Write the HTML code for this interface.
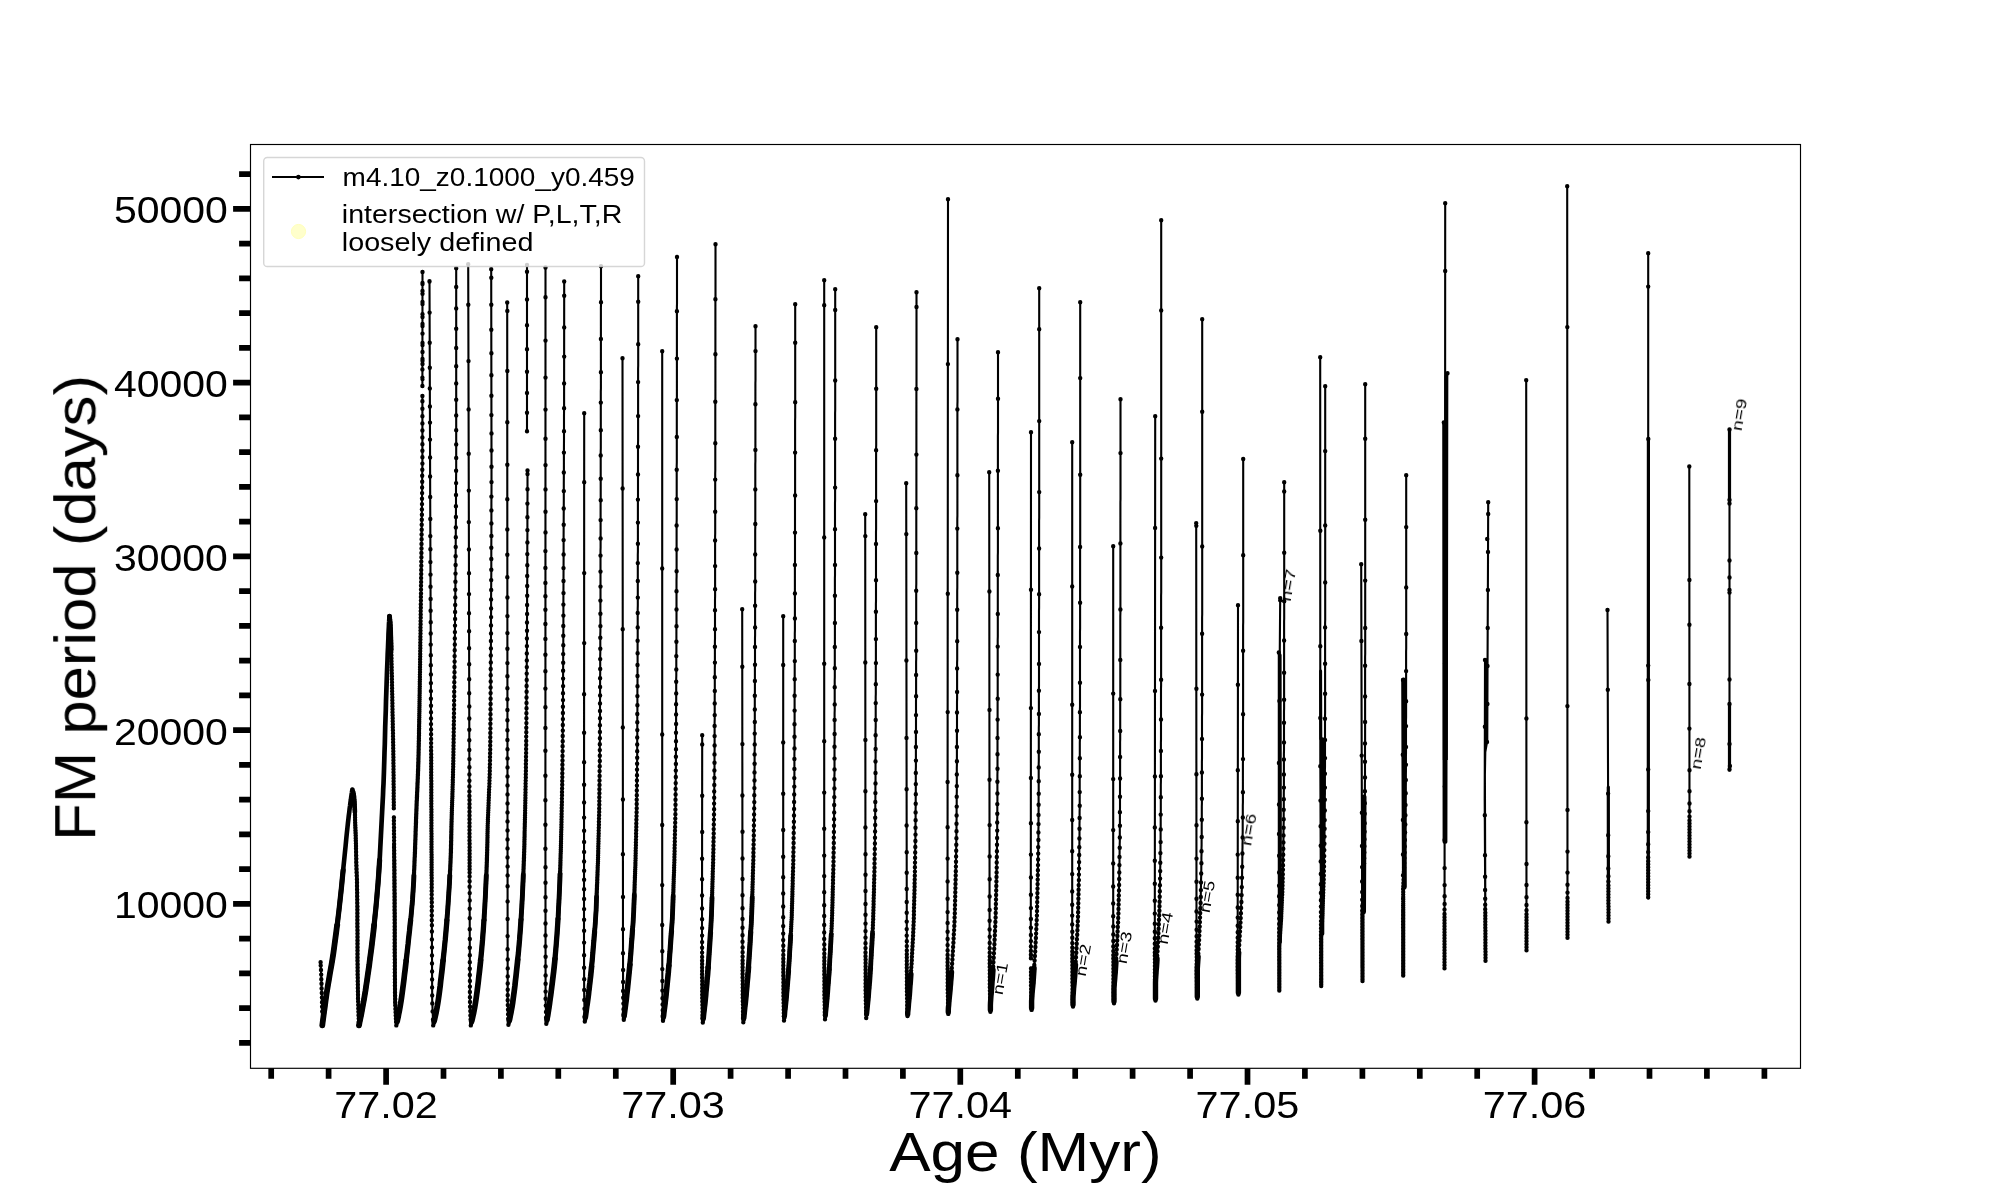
<!DOCTYPE html>
<html><head><meta charset="utf-8"><title>FM period vs Age</title>
<style>
html,body{margin:0;padding:0;background:#fff;}
body{width:2000px;height:1200px;overflow:hidden;}
svg{display:block;}
text{font-family:"Liberation Sans",sans-serif;fill:#000;}
</style></head><body>
<svg width="2000" height="1200" viewBox="0 0 2000 1200">
<rect width="2000" height="1200" fill="#fff"/>
<g stroke="#000" stroke-width="5.7" fill="none">
<path d="M233.1 208.9H250.5 M233.1 382.6H250.5 M233.1 556.4H250.5 M233.1 730.1H250.5 M233.1 903.9H250.5 M386.1 1068.3V1084.7 M673.2 1068.3V1084.7 M960.3 1068.3V1084.7 M1247.5 1068.3V1084.7 M1534.6 1068.3V1084.7"/>
<path d="M239.1 174.2H250.5 M239.1 243.7H250.5 M239.1 278.4H250.5 M239.1 313.1H250.5 M239.1 347.9H250.5 M239.1 417.4H250.5 M239.1 452.1H250.5 M239.1 486.9H250.5 M239.1 521.6H250.5 M239.1 591.1H250.5 M239.1 625.9H250.5 M239.1 660.6H250.5 M239.1 695.4H250.5 M239.1 764.9H250.5 M239.1 799.6H250.5 M239.1 834.4H250.5 M239.1 869.1H250.5 M239.1 938.6H250.5 M239.1 973.4H250.5 M239.1 1008.1H250.5 M239.1 1042.9H250.5 M271.2 1068.3V1078.7 M328.6 1068.3V1078.7 M443.5 1068.3V1078.7 M500.9 1068.3V1078.7 M558.3 1068.3V1078.7 M615.8 1068.3V1078.7 M730.6 1068.3V1078.7 M788.1 1068.3V1078.7 M845.5 1068.3V1078.7 M902.9 1068.3V1078.7 M1017.8 1068.3V1078.7 M1075.2 1068.3V1078.7 M1132.6 1068.3V1078.7 M1190.1 1068.3V1078.7 M1304.9 1068.3V1078.7 M1362.4 1068.3V1078.7 M1419.8 1068.3V1078.7 M1477.2 1068.3V1078.7 M1592.1 1068.3V1078.7 M1649.5 1068.3V1078.7 M1706.9 1068.3V1078.7 M1764.4 1068.3V1078.7"/>
</g>
<g fill="none" stroke="#000" stroke-linejoin="round">
<path stroke-width="2.1" d="M322.3 1025.4L322.1 1005L321.7 990L321.2 975L320.6 962.3M322.3 1025.4L322.7 1022.2L323.3 1017.7L324 1012.4L324.8 1006.8L325.5 1001.3L326.2 996.5L326.8 992.2L327.5 988.1L328.1 984.2L328.8 980.4L329.4 976.7L330 973L330.6 969.7L331.1 966.9L331.6 964.2L332.1 961.2L332.7 957.6L333.4 953L334.2 947.2L335.1 940.4L336.1 933L337.1 925.2L338.1 917.5L339 910L339.8 902.7L340.6 895.4L341.4 888L342.1 880.7L342.8 873.6L343.5 866.6L344.2 859.7L344.9 852.8L345.6 846L346.2 839.5L346.8 833.4L347.4 828L347.9 823.2L348.4 819L348.8 815.3L349.3 811.9L349.6 808.8L350 806L350.3 803.5L350.6 801.3L350.9 799.5L351.1 797.8L351.3 796.4L351.5 795L351.7 793.7L351.9 792.6L352 791.6L352.2 790.8L352.3 790.1L352.4 789.6M352.4 789.6L352.5 790L352.7 790.6L352.9 791.2L353.2 792L353.4 792.9L353.6 794L353.8 795.1L353.9 796.2L354.1 797.4L354.2 798.9L354.4 800.7L354.5 803L354.6 805.9L354.8 809.5L354.9 813.4L355.1 817.4L355.2 821.4L355.3 825L355.4 828.3L355.5 831.5L355.6 834.6L355.7 837.6L355.8 840.8L355.9 844L356 847.2L356.1 850.3L356.1 853.5L356.2 856.9L356.3 860.7L356.4 865L356.5 869.6L356.7 874.3L356.9 879.4L357 885.2L357.2 892L357.3 900L357.4 910L357.4 922L357.5 935L357.5 948L357.5 960L357.6 970L357.7 978L357.8 984.8L357.9 990.6L358 995.7L358.1 1000.4L358.2 1005L358.3 1009.5L358.5 1013.6L358.6 1017.4L358.8 1020.7L358.9 1023.3L359 1025.4M359 1025.4L359.5 1022.7L360.3 1019L361.2 1014.6L362.1 1009.7L363 1004.8L363.9 1000L364.7 995.3L365.5 990.5L366.2 985.6L367 980.5L367.7 975.3L368.5 970L369.3 964.5L370 958.7L370.8 952.8L371.6 946.9L372.3 940.9L373 935L373.7 929.2L374.3 923.3L374.9 917.5L375.5 911.7L376.1 905.8L376.6 900L377.1 894.2L377.6 888.3L378.1 882.5L378.5 876.7L378.9 870.8L379.3 865L379.7 859.2L380 853.3L380.3 847.5L380.6 841.7L380.9 835.8L381.2 830L381.5 824.2L381.8 818.3L382.1 812.5L382.4 806.7L382.7 800.8L383 795L383.2 789.3L383.5 783.9L383.7 778.4L383.9 772.8L384.1 766.7L384.3 760L384.5 752.5L384.8 744.4L385 735.9L385.2 727.2L385.5 718.5L385.8 710L386 701.4L386.3 692.6L386.6 683.8L386.9 675.2L387.2 667.2L387.5 660L387.7 653.7L388 647.9L388.2 642.7L388.4 638.1L388.5 633.8L388.7 630L388.9 626.6L389 623.7L389.2 621.2L389.3 619.2L389.4 617.5L389.5 616.2M396.3 1025.4L396.2 1023.3L396 1020.7L395.8 1017.4L395.6 1013.6L395.4 1009.5L395.3 1005L395.2 1000.4L395.1 995.7L395 990.6L394.9 984.8L394.9 978L394.8 970L394.8 960.2L394.7 948.8L394.7 936.4L394.7 923.7L394.6 911.4L394.6 900L394.5 889.4L394.4 878.9L394.4 868.8L394.3 859.1L394.2 850.1L394.1 842L394 835.1L394 829.4L393.9 824.4L393.9 819.5L393.9 815.8M393.8 809.2L393.8 808L393.7 800.8L393.7 793.1L393.6 785L393.6 776.7L393.5 768.3L393.4 760L393.3 751.8L393.1 743.5L393 735.1L392.8 726.7L392.7 718.4L392.5 710L392.3 701.5L392.2 692.7L392 684L391.8 675.5L391.7 667.4L391.5 660L391.3 653.1L391.2 646.6L391 640.5L390.8 634.9L390.7 630.1L390.5 626L390.3 622.9L390.1 620.6L389.9 619L389.8 617.8L389.6 617L389.5 616.2M396.3 1025.4L396.6 1023.9L397 1022.1L397.5 1019.9L398.1 1017.4L398.6 1014.6L399.2 1011.6L399.8 1008.4L400.4 1005L401 1001.3L401.6 997.3L402.2 992.9L402.8 988.4L403.4 983.8L404 979.1L404.5 974.5L405.1 970L405.6 965.6L406.1 961.2L406.6 956.9L407.1 952.5L407.6 948.1L408.1 943.8L408.5 939.4L409 935L409.5 930.7L409.9 926.4L410.4 922.1L410.9 917.8L411.3 913.5L411.7 909.1L412.1 904.6L412.5 900L412.8 895.3L413.1 890.6L413.4 885.8L413.7 880.9L413.9 876L414.1 870.8L414.4 865.5L414.6 860L414.8 854.2L415.1 848.2L415.3 842L415.5 835.6L415.7 829.2L415.9 822.7L416.2 816.3L416.4 810L416.6 803.9L416.9 798L417.2 792.1L417.4 786.2L417.7 780.2L417.9 773.9L418.2 767.2L418.4 760L418.6 752.3L418.8 744.1L418.9 735.7L419.1 726.9L419.3 717.9L419.4 708.7L419.6 699.4L419.7 690L419.8 680.5L420 670.9L420.1 661.2L420.2 651.2L420.4 641.2L420.5 630.9L420.6 620.5L420.8 610L420.9 599L421 587.5L421.2 575.7L421.3 563.8L421.4 552L421.6 540.6L421.7 529.9L421.8 520L421.9 510.7L422 501.5L422.1 492.7L422.2 484.4L422.2 476.8L422.3 470.1L422.4 464.4L422.4 460L422.4 396M422.4 386L422.5 272M433.2 1025.4L433.6 1023.8L434 1021.8L434.6 1019.4L435.2 1016.6L435.9 1013.6L436.5 1010.4L437.2 1006.9L437.8 1003.3L438.4 999.4L439 995.1L439.6 990.6L440.2 985.9L440.7 981L441.3 976.1L441.9 971.3L442.4 966.6L442.9 962L443.4 957.4L443.9 952.9L444.4 948.3L444.8 943.7L445.3 939.2L445.7 934.6L446.1 930L446.5 925.4L446.9 920.8L447.2 916.2L447.6 911.6L447.9 907.1L448.2 902.5L448.5 897.9L448.8 893.3L449.1 888.7L449.4 884.1L449.6 879.6L449.9 875L450.1 870.4L450.3 865.9L450.5 861.3L450.7 856.7L450.9 852.3L451 848.1L451.1 844L451.2 839.8L451.2 835.5L451.3 830.8L451.5 825.7L451.6 820L451.8 813.9L452 807.6L452.2 801L452.4 794L452.7 786.5L452.9 778.4L453.1 769.6L453.3 760L453.5 749.4L453.7 737.8L453.8 725.4L454 712.5L454.2 699.3L454.3 685.9L454.5 672.8L454.6 660L454.7 647.5L454.9 635L455 622.5L455.1 610L455.3 597.5L455.4 585L455.5 572.5L455.6 560L455.7 546.8L455.8 532.7L455.9 518.1L456 503.8L456 490.2L456.1 478L456.2 467.7L456.2 460L456.2 268.2M470.8 1025.4L471.2 1023.8L471.6 1021.8L472.2 1019.4L472.8 1016.6L473.5 1013.6L474.1 1010.4L474.8 1006.9L475.4 1003.3L476 999.4L476.6 995.1L477.2 990.6L477.8 985.9L478.4 981L478.9 976.1L479.5 971.3L480 966.6L480.5 962L480.9 957.4L481.4 952.9L481.8 948.3L482.2 943.7L482.6 939.2L482.9 934.6L483.3 930L483.6 925.4L483.9 920.8L484.2 916.2L484.5 911.6L484.8 907.1L485 902.5L485.3 897.9L485.5 893.3L485.7 888.7L485.9 884.1L486.1 879.6L486.3 875L486.5 870.4L486.7 865.9L486.8 861.3L487 856.7L487.1 852.3L487.2 848.1L487.3 844L487.4 839.8L487.5 835.5L487.6 830.8L487.7 825.7L487.9 820L488.1 813.9L488.4 807.6L488.7 801L489 794L489.3 786.5L489.5 778.4L489.8 769.6L490 760L490.2 749.4L490.3 737.8L490.4 725.4L490.5 712.5L490.6 699.3L490.7 685.9L490.7 672.8L490.8 660L490.9 647.5L491 635L491 622.5L491.1 610L491.1 597.5L491.2 585L491.3 572.5L491.3 560L491.3 546.8L491.4 532.7L491.4 518.1L491.4 503.8L491.5 490.2L491.5 478L491.5 467.7L491.5 460L491.2 269.2M508.4 1024.7L508.7 1023.2L509.1 1021.2L509.7 1018.9L510.2 1016.3L510.8 1013.4L511.4 1010.2L512 1006.9L512.6 1003.3L513.1 999.4L513.7 995.2L514.3 990.7L514.9 985.9L515.4 981L516 976.1L516.5 971.3L517 966.6L517.5 962L517.9 957.4L518.4 952.9L518.8 948.3L519.2 943.7L519.6 939.2L519.9 934.6L520.3 930L520.6 925.4L520.9 920.8L521.2 916.2L521.5 911.6L521.8 907.1L522 902.5L522.3 897.9L522.5 893.3L522.7 888.7L522.9 884.1L523.1 879.6L523.3 875L523.5 870.4L523.7 865.9L523.8 861.3L524 856.7L524.1 852.3L524.3 848.1L524.4 844L524.5 839.8L524.6 835.5L524.7 830.8L524.8 825.7L524.9 820L525 813.9L525.2 807.6L525.3 801L525.5 794L525.6 786.5L525.7 778.4L525.9 769.6L526 760L526.1 749.4L526.2 737.8L526.3 725.4L526.4 712.5L526.5 699.3L526.6 685.9L526.7 672.8L526.8 660L526.9 647.4L527 634.8L527 622L527.1 609.3L527.1 596.7L527.2 584.3L527.3 572L527.3 560L527.3 547.7L527.4 534.8L527.4 521.7L527.4 509L527.5 497L527.5 486.3L527.5 477.3L527.5 470.5M527 431.2L527 265M546.3 1023.8L546.5 1022.3L546.9 1020.5L547.2 1018.3L547.7 1015.8L548.1 1013.1L548.6 1010L549.1 1006.8L549.6 1003.3L550.1 999.5L550.7 995.3L551.3 990.7L551.9 986L552.5 981.1L553.1 976.1L553.7 971.3L554.2 966.6L554.7 962L555.1 957.4L555.5 952.9L555.9 948.3L556.3 943.7L556.6 939.2L557 934.6L557.3 930L557.6 925.4L557.9 920.8L558.2 916.2L558.4 911.6L558.6 907.1L558.9 902.5L559.1 897.9L559.3 893.3L559.5 888.7L559.7 884.1L559.9 879.6L560 875L560.2 870.4L560.3 865.9L560.5 861.3L560.6 856.7L560.7 852.3L560.9 848.1L561 844L561.1 839.8L561.2 835.5L561.3 830.8L561.4 825.7L561.5 820L561.6 813.9L561.8 807.6L561.9 801L562 794L562.1 786.5L562.3 778.4L562.4 769.6L562.5 760L562.6 749.8L562.7 739.2L562.8 728.1L562.9 716.2L563 703.7L563 690.2L563.1 675.6L563.2 660L563.3 642.5L563.4 622.8L563.4 601.8L563.5 580L563.6 558.2L563.6 537.2L563.7 517.5L563.8 500L563.8 483.9L563.9 468.4L563.9 453.7L564 440L564 427.5L564 416.6L564.1 407.3L564.1 400L564.2 281.5M433.2 1025.4L432.2 1000L431.4 820L430.2 500L429.5 281.2M470.8 1025.4L469.9 1000L469.5 820L468.8 500L468.2 264.2M508.4 1024.7L507.7 1000L507.5 820L507.3 500L507.2 302.5M546.3 1023.8L545.6 1000L545.4 820L545.5 267.5M584.8 1021.6L584.2 996.6L584 941.6L584.2 413.2M584.8 1021.6L585.2 1018.6L585.6 1015.6L586 1012.6L586.4 1009.6L586.8 1006.6L587.3 1003.6L587.7 1000.6L588.1 997.6L588.5 994.6L588.8 991.6L589.2 988.6L589.5 985.6L589.9 982.6L590.2 979.6L590.6 976.6L590.9 973.6L591.2 970.6L591.5 967.6L591.8 964.6L592.1 961.6L592.4 958.6L592.6 955.6L592.9 952.6L593.1 949.6L593.4 946.6L593.6 943.6L593.9 940.6L594.1 937.6L594.4 934.6L594.6 931.6L594.9 928.6L595.1 925.6L595.3 922.6L595.5 919.6L595.7 916.6L595.9 913.6L596.1 910.6L596.2 907.6L596.3 904.6L596.4 901.6L596.5 898.6L596.6 895.6L596.8 892.6L596.9 889.6L597 886.6L597.1 883.6L597.2 880.6L597.3 877.6L597.5 874.6L597.6 871.6L597.7 868.6L597.8 865.6L597.9 862.6L598 859.6L598.1 856.6L598.2 853.6L598.2 850.6L598.3 847.6L598.4 844.6L598.5 841.6L598.5 838.6L598.6 835.6L598.7 832.6L598.7 829.6L598.8 826.6L598.9 823.6L599 820.6L599 817.6L599.1 814.6L599.2 811.6L599.2 808.6L599.3 805.6L599.3 802.6L599.3 799.6L599.4 796.6L599.4 793.6L599.4 790.6L599.5 787.6L599.5 784.6L599.5 781.6L599.6 778.6L599.6 775.6L599.6 772.6L599.7 769.6L599.7 766.6L599.7 763.6L599.8 760.6L599.8 757.6L599.8 754.6L599.8 751.6L599.8 748.6L599.8 745.6L599.8 742.6L599.9 739.6L599.9 736.6L599.9 733.6L599.9 730.6L599.9 727.6L599.9 724.6L599.9 721.6L600 718.6L600 715.6L600 712.6L600 709.6L600 706.6L600 703.6L600 700.6L600.1 697.6L600.1 694.6L600.1 691.6L600.1 688.6L600.1 685.6L600.1 682.6L600.1 679.6L600.1 676.6L600.2 673.6L600.2 670.6L600.2 667.6L600.2 664.6L600.2 661.6L600.2 658.6L600.2 655.6L600.3 652.6L600.3 649.6L600.3 646.6L600.3 643.6L600.3 640.6L600.3 637.6L600.3 634.6L600.4 631.6L600.4 628.6L600.4 625.6L600.4 622.6L600.4 619.6L600.4 616.6L600.4 613.6L600.4 610.6L600.4 607.6L600.4 604.6L600.4 601.6L600.5 598.6L600.5 595.6L600.5 592.6L600.5 589.6L600.5 586.6L600.5 583.6L600.5 580.6L600.5 577.6L600.5 574.6L600.5 571.6L600.5 568.6L600.5 565.6L600.5 562.6L600.5 559.6L600.5 556.6L600.5 553.6L600.5 550.6L600.6 547.6L600.6 544.6L600.6 541.6L600.6 538.6L600.6 535.6L600.6 532.6L600.6 529.6L600.6 526.6L600.6 523.6L600.6 520.6L600.6 517.6L600.6 514.6L600.6 511.6L600.6 508.6L600.6 505.6L600.6 502.6L600.7 499.6L600.7 496.6L600.7 493.6L600.7 490.6L600.7 487.6L600.7 484.6L600.7 481.6L600.7 478.6L600.7 475.6L600.7 472.6L600.7 469.6L600.7 466.6L600.7 463.6L600.7 460.6L600.7 457.6L600.7 454.6L600.7 451.6L600.8 448.6L600.8 445.6L600.8 442.6L600.8 439.6L600.8 436.6L600.8 433.6L600.8 430.6L600.8 427.6L600.8 424.6L600.8 421.6L600.8 418.6L600.8 415.6L600.8 412.6L600.8 409.6L600.8 406.6L600.8 403.6L600.8 400.6L600.8 397.6L600.8 394.6L600.8 391.6L600.9 388.6L600.9 385.6L600.9 382.6L600.9 379.6L600.9 376.6L600.9 373.6L600.9 370.6L600.9 367.6L600.9 364.6L600.9 361.6L600.9 358.6L600.9 355.6L600.9 352.6L600.9 349.6L600.9 346.6L600.9 343.6L600.9 340.6L600.9 337.6L600.9 334.6L600.9 331.6L600.9 328.6L600.9 325.6L600.9 322.6L600.9 319.6L600.9 316.6L600.9 313.6L600.9 310.6L600.9 307.6L601 304.6L601 301.6L601 298.6L601 295.6L601 292.6L601 289.6L601 286.6L601 283.6L601 280.6L601 277.6L601 274.6L601 271.6L601 268.6L601 266.2M623.8 1019.8L623.1 994.8L623 939.8L622.5 358.2M623.8 1019.8L624.1 1016.8L624.4 1013.8L624.8 1010.8L625.2 1007.8L625.6 1004.8L626 1001.8L626.4 998.8L626.7 995.8L627 992.8L627.4 989.8L627.7 986.8L628 983.8L628.3 980.8L628.6 977.8L628.9 974.8L629.2 971.8L629.5 968.8L629.8 965.8L630 962.8L630.3 959.8L630.5 956.8L630.8 953.8L631 950.8L631.2 947.8L631.4 944.8L631.6 941.8L631.9 938.8L632.1 935.8L632.3 932.8L632.5 929.8L632.8 926.8L633 923.8L633.2 920.8L633.3 917.8L633.5 914.8L633.7 911.8L633.8 908.8L633.9 905.8L634 902.8L634.1 899.8L634.3 896.8L634.4 893.8L634.5 890.8L634.6 887.8L634.7 884.8L634.8 881.8L634.9 878.8L635 875.8L635.1 872.8L635.2 869.8L635.3 866.8L635.4 863.8L635.5 860.8L635.6 857.8L635.7 854.8L635.7 851.8L635.8 848.8L635.9 845.8L635.9 842.8L636 839.8L636 836.8L636.1 833.8L636.2 830.8L636.2 827.8L636.3 824.8L636.4 821.8L636.4 818.8L636.5 815.8L636.6 812.8L636.6 809.8L636.7 806.8L636.7 803.8L636.7 800.8L636.8 797.8L636.8 794.8L636.8 791.8L636.9 788.8L636.9 785.8L636.9 782.8L636.9 779.8L637 776.8L637 773.8L637 770.8L637.1 767.8L637.1 764.8L637.1 761.8L637.2 758.8L637.2 755.8L637.2 752.8L637.2 749.8L637.2 746.8L637.2 743.8L637.2 740.8L637.2 737.8L637.3 734.8L637.3 731.8L637.3 728.8L637.3 725.8L637.3 722.8L637.3 719.8L637.3 716.8L637.3 713.8L637.4 710.8L637.4 707.8L637.4 704.8L637.4 701.8L637.4 698.8L637.4 695.8L637.4 692.8L637.4 689.8L637.5 686.8L637.5 683.8L637.5 680.8L637.5 677.8L637.5 674.8L637.5 671.8L637.5 668.8L637.5 665.8L637.6 662.8L637.6 659.8L637.6 656.8L637.6 653.8L637.6 650.8L637.6 647.8L637.6 644.8L637.6 641.8L637.7 638.8L637.7 635.8L637.7 632.8L637.7 629.8L637.7 626.8L637.7 623.8L637.7 620.8L637.7 617.8L637.7 614.8L637.7 611.8L637.7 608.8L637.8 605.8L637.8 602.8L637.8 599.8L637.8 596.8L637.8 593.8L637.8 590.8L637.8 587.8L637.8 584.8L637.8 581.8L637.8 578.8L637.8 575.8L637.8 572.8L637.8 569.8L637.8 566.8L637.8 563.8L637.8 560.8L637.8 557.8L637.8 554.8L637.9 551.8L637.9 548.8L637.9 545.8L637.9 542.8L637.9 539.8L637.9 536.8L637.9 533.8L637.9 530.8L637.9 527.8L637.9 524.8L637.9 521.8L637.9 518.8L637.9 515.8L637.9 512.8L637.9 509.8L637.9 506.8L637.9 503.8L637.9 500.8L638 497.8L638 494.8L638 491.8L638 488.8L638 485.8L638 482.8L638 479.8L638 476.8L638 473.8L638 470.8L638 467.8L638 464.8L638 461.8L638 458.8L638 455.8L638 452.8L638 449.8L638 446.8L638 443.8L638.1 440.8L638.1 437.8L638.1 434.8L638.1 431.8L638.1 428.8L638.1 425.8L638.1 422.8L638.1 419.8L638.1 416.8L638.1 413.8L638.1 410.8L638.1 407.8L638.1 404.8L638.1 401.8L638.1 398.8L638.1 395.8L638.1 392.8L638.1 389.8L638.1 386.8L638.1 383.8L638.1 380.8L638.1 377.8L638.1 374.8L638.1 371.8L638.1 368.8L638.2 365.8L638.2 362.8L638.2 359.8L638.2 356.8L638.2 353.8L638.2 350.8L638.2 347.8L638.2 344.8L638.2 341.8L638.2 338.8L638.2 335.8L638.2 332.8L638.2 329.8L638.2 326.8L638.2 323.8L638.2 320.8L638.2 317.8L638.2 314.8L638.2 311.8L638.2 308.8L638.2 305.8L638.2 302.8L638.2 299.8L638.2 296.8L638.2 293.8L638.2 290.8L638.2 287.8L638.2 284.8L638.2 281.8L638.2 278.8L638.2 276.2M663 1020.8L662.4 995.8L662.2 940.8L662.2 351.2M663 1020.8L663.3 1017.8L663.7 1014.8L664 1011.8L664.4 1008.8L664.8 1005.8L665.2 1002.8L665.5 999.8L665.9 996.8L666.2 993.8L666.5 990.8L666.8 987.8L667.1 984.8L667.4 981.8L667.7 978.8L668 975.8L668.3 972.8L668.5 969.8L668.8 966.8L669.1 963.8L669.3 960.8L669.5 957.8L669.7 954.8L670 951.8L670.2 948.8L670.4 945.8L670.6 942.8L670.8 939.8L671 936.8L671.3 933.8L671.5 930.8L671.7 927.8L671.9 924.8L672.1 921.8L672.3 918.8L672.4 915.8L672.6 912.8L672.7 909.8L672.8 906.8L672.9 903.8L673 900.8L673.1 897.8L673.2 894.8L673.3 891.8L673.4 888.8L673.5 885.8L673.6 882.8L673.7 879.8L673.8 876.8L673.9 873.8L674 870.8L674.1 867.8L674.2 864.8L674.3 861.8L674.4 858.8L674.5 855.8L674.5 852.8L674.6 849.8L674.7 846.8L674.7 843.8L674.8 840.8L674.9 837.8L674.9 834.8L675 831.8L675 828.8L675.1 825.8L675.2 822.8L675.2 819.8L675.3 816.8L675.4 813.8L675.4 810.8L675.5 807.8L675.5 804.8L675.5 801.8L675.5 798.8L675.6 795.8L675.6 792.8L675.6 789.8L675.7 786.8L675.7 783.8L675.7 780.8L675.7 777.8L675.8 774.8L675.8 771.8L675.8 768.8L675.9 765.8L675.9 762.8L675.9 759.8L675.9 756.8L675.9 753.8L676 750.8L676 747.8L676 744.8L676 741.8L676 738.8L676 735.8L676 732.8L676 729.8L676.1 726.8L676.1 723.8L676.1 720.8L676.1 717.8L676.1 714.8L676.1 711.8L676.1 708.8L676.1 705.8L676.1 702.8L676.2 699.8L676.2 696.8L676.2 693.8L676.2 690.8L676.2 687.8L676.2 684.8L676.2 681.8L676.2 678.8L676.3 675.8L676.3 672.8L676.3 669.8L676.3 666.8L676.3 663.8L676.3 660.8L676.3 657.8L676.3 654.8L676.4 651.8L676.4 648.8L676.4 645.8L676.4 642.8L676.4 639.8L676.4 636.8L676.4 633.8L676.4 630.8L676.4 627.8L676.5 624.8L676.5 621.8L676.5 618.8L676.5 615.8L676.5 612.8L676.5 609.8L676.5 606.8L676.5 603.8L676.5 600.8L676.5 597.8L676.5 594.8L676.5 591.8L676.5 588.8L676.5 585.8L676.5 582.8L676.5 579.8L676.6 576.8L676.6 573.8L676.6 570.8L676.6 567.8L676.6 564.8L676.6 561.8L676.6 558.8L676.6 555.8L676.6 552.8L676.6 549.8L676.6 546.8L676.6 543.8L676.6 540.8L676.6 537.8L676.6 534.8L676.6 531.8L676.6 528.8L676.6 525.8L676.6 522.8L676.7 519.8L676.7 516.8L676.7 513.8L676.7 510.8L676.7 507.8L676.7 504.8L676.7 501.8L676.7 498.8L676.7 495.8L676.7 492.8L676.7 489.8L676.7 486.8L676.7 483.8L676.7 480.8L676.7 477.8L676.7 474.8L676.7 471.8L676.7 468.8L676.7 465.8L676.8 462.8L676.8 459.8L676.8 456.8L676.8 453.8L676.8 450.8L676.8 447.8L676.8 444.8L676.8 441.8L676.8 438.8L676.8 435.8L676.8 432.8L676.8 429.8L676.8 426.8L676.8 423.8L676.8 420.8L676.8 417.8L676.8 414.8L676.8 411.8L676.8 408.8L676.8 405.8L676.8 402.8L676.8 399.8L676.9 396.8L676.9 393.8L676.9 390.8L676.9 387.8L676.9 384.8L676.9 381.8L676.9 378.8L676.9 375.8L676.9 372.8L676.9 369.8L676.9 366.8L676.9 363.8L676.9 360.8L676.9 357.8L676.9 354.8L676.9 351.8L676.9 348.8L676.9 345.8L676.9 342.8L676.9 339.8L676.9 336.8L676.9 333.8L676.9 330.8L676.9 327.8L676.9 324.8L676.9 321.8L676.9 318.8L676.9 315.8L676.9 312.8L676.9 309.8L676.9 306.8L677 303.8L677 300.8L677 297.8L677 294.8L677 291.8L677 288.8L677 285.8L677 282.8L677 279.8L677 276.8L677 273.8L677 270.8L677 267.8L677 264.8L677 261.8L677 258.8L677 257M702.8 1022.5L702.2 997.5L702 942.5L702.2 735.2M702.8 1022.5L703.1 1019.5L703.4 1016.5L703.7 1013.5L704.1 1010.5L704.4 1007.5L704.8 1004.5L705.1 1001.5L705.4 998.5L705.7 995.5L705.9 992.5L706.2 989.5L706.5 986.5L706.8 983.5L707 980.5L707.3 977.5L707.6 974.5L707.8 971.5L708.1 968.5L708.3 965.5L708.5 962.5L708.7 959.5L708.9 956.5L709.1 953.5L709.3 950.5L709.5 947.5L709.7 944.5L709.9 941.5L710.1 938.5L710.3 935.5L710.5 932.5L710.7 929.5L710.9 926.5L711 923.5L711.2 920.5L711.3 917.5L711.5 914.5L711.6 911.5L711.7 908.5L711.8 905.5L711.9 902.5L712 899.5L712.1 896.5L712.2 893.5L712.2 890.5L712.3 887.5L712.4 884.5L712.5 881.5L712.6 878.5L712.7 875.5L712.8 872.5L712.9 869.5L713 866.5L713.1 863.5L713.1 860.5L713.2 857.5L713.3 854.5L713.3 851.5L713.4 848.5L713.4 845.5L713.5 842.5L713.5 839.5L713.6 836.5L713.7 833.5L713.7 830.5L713.8 827.5L713.8 824.5L713.9 821.5L713.9 818.5L714 815.5L714.1 812.5L714.1 809.5L714.1 806.5L714.1 803.5L714.2 800.5L714.2 797.5L714.2 794.5L714.2 791.5L714.3 788.5L714.3 785.5L714.3 782.5L714.4 779.5L714.4 776.5L714.4 773.5L714.4 770.5L714.5 767.5L714.5 764.5L714.5 761.5L714.5 758.5L714.5 755.5L714.5 752.5L714.6 749.5L714.6 746.5L714.6 743.5L714.6 740.5L714.6 737.5L714.6 734.5L714.6 731.5L714.6 728.5L714.6 725.5L714.6 722.5L714.7 719.5L714.7 716.5L714.7 713.5L714.7 710.5L714.7 707.5L714.7 704.5L714.7 701.5L714.7 698.5L714.7 695.5L714.8 692.5L714.8 689.5L714.8 686.5L714.8 683.5L714.8 680.5L714.8 677.5L714.8 674.5L714.8 671.5L714.8 668.5L714.9 665.5L714.9 662.5L714.9 659.5L714.9 656.5L714.9 653.5L714.9 650.5L714.9 647.5L714.9 644.5L714.9 641.5L715 638.5L715 635.5L715 632.5L715 629.5L715 626.5L715 623.5L715 620.5L715 617.5L715 614.5L715 611.5L715 608.5L715 605.5L715 602.5L715 599.5L715.1 596.5L715.1 593.5L715.1 590.5L715.1 587.5L715.1 584.5L715.1 581.5L715.1 578.5L715.1 575.5L715.1 572.5L715.1 569.5L715.1 566.5L715.1 563.5L715.1 560.5L715.1 557.5L715.1 554.5L715.1 551.5L715.1 548.5L715.1 545.5L715.1 542.5L715.1 539.5L715.1 536.5L715.2 533.5L715.2 530.5L715.2 527.5L715.2 524.5L715.2 521.5L715.2 518.5L715.2 515.5L715.2 512.5L715.2 509.5L715.2 506.5L715.2 503.5L715.2 500.5L715.2 497.5L715.2 494.5L715.2 491.5L715.2 488.5L715.2 485.5L715.2 482.5L715.2 479.5L715.2 476.5L715.2 473.5L715.3 470.5L715.3 467.5L715.3 464.5L715.3 461.5L715.3 458.5L715.3 455.5L715.3 452.5L715.3 449.5L715.3 446.5L715.3 443.5L715.3 440.5L715.3 437.5L715.3 434.5L715.3 431.5L715.3 428.5L715.3 425.5L715.3 422.5L715.3 419.5L715.3 416.5L715.3 413.5L715.3 410.5L715.3 407.5L715.3 404.5L715.3 401.5L715.4 398.5L715.4 395.5L715.4 392.5L715.4 389.5L715.4 386.5L715.4 383.5L715.4 380.5L715.4 377.5L715.4 374.5L715.4 371.5L715.4 368.5L715.4 365.5L715.4 362.5L715.4 359.5L715.4 356.5L715.4 353.5L715.4 350.5L715.4 347.5L715.4 344.5L715.4 341.5L715.4 338.5L715.4 335.5L715.4 332.5L715.4 329.5L715.4 326.5L715.4 323.5L715.4 320.5L715.4 317.5L715.4 314.5L715.4 311.5L715.4 308.5L715.4 305.5L715.4 302.5L715.4 299.5L715.5 296.5L715.5 293.5L715.5 290.5L715.5 287.5L715.5 284.5L715.5 281.5L715.5 278.5L715.5 275.5L715.5 272.5L715.5 269.5L715.5 266.5L715.5 263.5L715.5 260.5L715.5 257.5L715.5 254.5L715.5 251.5L715.5 248.5L715.5 245.5L715.5 244.2M743.3 1022.2L742.7 997.2L742.5 942.2L742.2 609.2M743.3 1022.2L743.6 1019.2L743.9 1016.2L744.2 1013.2L744.5 1010.2L744.8 1007.2L745.2 1004.2L745.5 1001.2L745.8 998.2L746.1 995.2L746.3 992.2L746.6 989.2L746.9 986.2L747.1 983.2L747.4 980.2L747.7 977.2L747.9 974.2L748.2 971.2L748.4 968.2L748.6 965.2L748.8 962.2L749 959.2L749.2 956.2L749.4 953.2L749.6 950.2L749.8 947.2L750 944.2L750.2 941.2L750.3 938.2L750.5 935.2L750.7 932.2L750.9 929.2L751.1 926.2L751.3 923.2L751.4 920.2L751.5 917.2L751.7 914.2L751.8 911.2L751.9 908.2L752 905.2L752.1 902.2L752.2 899.2L752.3 896.2L752.3 893.2L752.4 890.2L752.5 887.2L752.6 884.2L752.7 881.2L752.8 878.2L752.9 875.2L753 872.2L753.1 869.2L753.1 866.2L753.2 863.2L753.3 860.2L753.4 857.2L753.4 854.2L753.5 851.2L753.5 848.2L753.6 845.2L753.6 842.2L753.7 839.2L753.7 836.2L753.8 833.2L753.8 830.2L753.9 827.2L754 824.2L754 821.2L754.1 818.2L754.1 815.2L754.2 812.2L754.2 809.2L754.2 806.2L754.3 803.2L754.3 800.2L754.3 797.2L754.3 794.2L754.4 791.2L754.4 788.2L754.4 785.2L754.4 782.2L754.5 779.2L754.5 776.2L754.5 773.2L754.5 770.2L754.6 767.2L754.6 764.2L754.6 761.2L754.6 758.2L754.6 755.2L754.6 752.2L754.7 749.2L754.7 746.2L754.7 743.2L754.7 740.2L754.7 737.2L754.7 734.2L754.7 731.2L754.7 728.2L754.7 725.2L754.8 722.2L754.8 719.2L754.8 716.2L754.8 713.2L754.8 710.2L754.8 707.2L754.8 704.2L754.8 701.2L754.8 698.2L754.8 695.2L754.9 692.2L754.9 689.2L754.9 686.2L754.9 683.2L754.9 680.2L754.9 677.2L754.9 674.2L754.9 671.2L754.9 668.2L755 665.2L755 662.2L755 659.2L755 656.2L755 653.2L755 650.2L755 647.2L755 644.2L755 641.2L755 638.2L755.1 635.2L755.1 632.2L755.1 629.2L755.1 626.2L755.1 623.2L755.1 620.2L755.1 617.2L755.1 614.2L755.1 611.2L755.1 608.2L755.1 605.2L755.1 602.2L755.1 599.2L755.1 596.2L755.1 593.2L755.2 590.2L755.2 587.2L755.2 584.2L755.2 581.2L755.2 578.2L755.2 575.2L755.2 572.2L755.2 569.2L755.2 566.2L755.2 563.2L755.2 560.2L755.2 557.2L755.2 554.2L755.2 551.2L755.2 548.2L755.2 545.2L755.2 542.2L755.2 539.2L755.2 536.2L755.2 533.2L755.2 530.2L755.3 527.2L755.3 524.2L755.3 521.2L755.3 518.2L755.3 515.2L755.3 512.2L755.3 509.2L755.3 506.2L755.3 503.2L755.3 500.2L755.3 497.2L755.3 494.2L755.3 491.2L755.3 488.2L755.3 485.2L755.3 482.2L755.3 479.2L755.3 476.2L755.3 473.2L755.3 470.2L755.3 467.2L755.3 464.2L755.4 461.2L755.4 458.2L755.4 455.2L755.4 452.2L755.4 449.2L755.4 446.2L755.4 443.2L755.4 440.2L755.4 437.2L755.4 434.2L755.4 431.2L755.4 428.2L755.4 425.2L755.4 422.2L755.4 419.2L755.4 416.2L755.4 413.2L755.4 410.2L755.4 407.2L755.4 404.2L755.4 401.2L755.4 398.2L755.4 395.2L755.4 392.2L755.4 389.2L755.4 386.2L755.4 383.2L755.5 380.2L755.5 377.2L755.5 374.2L755.5 371.2L755.5 368.2L755.5 365.2L755.5 362.2L755.5 359.2L755.5 356.2L755.5 353.2L755.5 350.2L755.5 347.2L755.5 344.2L755.5 341.2L755.5 338.2L755.5 335.2L755.5 332.2L755.5 329.2L755.5 326.2M784 1020.5L783.4 995.5L783.2 940.5L783.2 616.2M784 1020.5L784.3 1017.5L784.6 1014.5L784.8 1011.5L785.2 1008.5L785.5 1005.5L785.8 1002.5L786.1 999.5L786.4 996.5L786.6 993.5L786.9 990.5L787.1 987.5L787.4 984.5L787.6 981.5L787.9 978.5L788.1 975.5L788.4 972.5L788.6 969.5L788.8 966.5L789 963.5L789.2 960.5L789.4 957.5L789.6 954.5L789.7 951.5L789.9 948.5L790.1 945.5L790.3 942.5L790.5 939.5L790.6 936.5L790.8 933.5L791 930.5L791.2 927.5L791.3 924.5L791.5 921.5L791.6 918.5L791.7 915.5L791.8 912.5L791.9 909.5L792 906.5L792.1 903.5L792.2 900.5L792.3 897.5L792.3 894.5L792.4 891.5L792.5 888.5L792.6 885.5L792.7 882.5L792.8 879.5L792.9 876.5L792.9 873.5L793 870.5L793.1 867.5L793.2 864.5L793.2 861.5L793.3 858.5L793.3 855.5L793.4 852.5L793.4 849.5L793.5 846.5L793.5 843.5L793.6 840.5L793.6 837.5L793.7 834.5L793.8 831.5L793.8 828.5L793.9 825.5L793.9 822.5L794 819.5L794 816.5L794 813.5L794.1 810.5L794.1 807.5L794.1 804.5L794.1 801.5L794.2 798.5L794.2 795.5L794.2 792.5L794.2 789.5L794.3 786.5L794.3 783.5L794.3 780.5L794.3 777.5L794.4 774.5L794.4 771.5L794.4 768.5L794.4 765.5L794.4 762.5L794.4 759.5L794.4 756.5L794.4 753.5L794.5 750.5L794.5 747.5L794.5 744.5L794.5 741.5L794.5 738.5L794.5 735.5L794.5 732.5L794.5 729.5L794.5 726.5L794.5 723.5L794.6 720.5L794.6 717.5L794.6 714.5L794.6 711.5L794.6 708.5L794.6 705.5L794.6 702.5L794.6 699.5L794.6 696.5L794.6 693.5L794.7 690.5L794.7 687.5L794.7 684.5L794.7 681.5L794.7 678.5L794.7 675.5L794.7 672.5L794.7 669.5L794.7 666.5L794.7 663.5L794.8 660.5L794.8 657.5L794.8 654.5L794.8 651.5L794.8 648.5L794.8 645.5L794.8 642.5L794.8 639.5L794.8 636.5L794.8 633.5L794.9 630.5L794.9 627.5L794.9 624.5L794.9 621.5L794.9 618.5L794.9 615.5L794.9 612.5L794.9 609.5L794.9 606.5L794.9 603.5L794.9 600.5L794.9 597.5L794.9 594.5L794.9 591.5L794.9 588.5L794.9 585.5L794.9 582.5L794.9 579.5L794.9 576.5L794.9 573.5L794.9 570.5L794.9 567.5L794.9 564.5L795 561.5L795 558.5L795 555.5L795 552.5L795 549.5L795 546.5L795 543.5L795 540.5L795 537.5L795 534.5L795 531.5L795 528.5L795 525.5L795 522.5L795 519.5L795 516.5L795 513.5L795 510.5L795 507.5L795 504.5L795 501.5L795 498.5L795.1 495.5L795.1 492.5L795.1 489.5L795.1 486.5L795.1 483.5L795.1 480.5L795.1 477.5L795.1 474.5L795.1 471.5L795.1 468.5L795.1 465.5L795.1 462.5L795.1 459.5L795.1 456.5L795.1 453.5L795.1 450.5L795.1 447.5L795.1 444.5L795.1 441.5L795.1 438.5L795.1 435.5L795.1 432.5L795.1 429.5L795.1 426.5L795.1 423.5L795.1 420.5L795.2 417.5L795.2 414.5L795.2 411.5L795.2 408.5L795.2 405.5L795.2 402.5L795.2 399.5L795.2 396.5L795.2 393.5L795.2 390.5L795.2 387.5L795.2 384.5L795.2 381.5L795.2 378.5L795.2 375.5L795.2 372.5L795.2 369.5L795.2 366.5L795.2 363.5L795.2 360.5L795.2 357.5L795.2 354.5L795.2 351.5L795.2 348.5L795.2 345.5L795.2 342.5L795.2 339.5L795.2 336.5L795.2 333.5L795.2 330.5L795.2 327.5L795.2 324.5L795.2 321.5L795.2 318.5L795.2 315.5L795.2 312.5L795.2 309.5L795.2 306.5L795.2 304.2M825 1019.3L824.4 994.3L824.2 939.3L824.2 280.2M825 1019.3L825.3 1016.3L825.5 1013.3L825.8 1010.3L826.1 1007.3L826.4 1004.3L826.7 1001.3L827 998.3L827.2 995.3L827.5 992.3L827.7 989.3L827.9 986.3L828.2 983.3L828.4 980.3L828.6 977.3L828.9 974.3L829.1 971.3L829.3 968.3L829.5 965.3L829.7 962.3L829.8 959.3L830 956.3L830.2 953.3L830.4 950.3L830.5 947.3L830.7 944.3L830.9 941.3L831 938.3L831.2 935.3L831.4 932.3L831.5 929.3L831.7 926.3L831.8 923.3L831.9 920.3L832.1 917.3L832.1 914.3L832.2 911.3L832.3 908.3L832.4 905.3L832.5 902.3L832.5 899.3L832.6 896.3L832.7 893.3L832.8 890.3L832.9 887.3L832.9 884.3L833 881.3L833.1 878.3L833.2 875.3L833.3 872.3L833.3 869.3L833.4 866.3L833.4 863.3L833.5 860.3L833.5 857.3L833.6 854.3L833.6 851.3L833.7 848.3L833.7 845.3L833.8 842.3L833.8 839.3L833.9 836.3L833.9 833.3L834 830.3L834 827.3L834.1 824.3L834.1 821.3L834.1 818.3L834.1 815.3L834.2 812.3L834.2 809.3L834.2 806.3L834.2 803.3L834.3 800.3L834.3 797.3L834.3 794.3L834.3 791.3L834.4 788.3L834.4 785.3L834.4 782.3L834.4 779.3L834.4 776.3L834.5 773.3L834.5 770.3L834.5 767.3L834.5 764.3L834.5 761.3L834.5 758.3L834.5 755.3L834.5 752.3L834.5 749.3L834.5 746.3L834.5 743.3L834.6 740.3L834.6 737.3L834.6 734.3L834.6 731.3L834.6 728.3L834.6 725.3L834.6 722.3L834.6 719.3L834.6 716.3L834.6 713.3L834.7 710.3L834.7 707.3L834.7 704.3L834.7 701.3L834.7 698.3L834.7 695.3L834.7 692.3L834.7 689.3L834.7 686.3L834.7 683.3L834.7 680.3L834.8 677.3L834.8 674.3L834.8 671.3L834.8 668.3L834.8 665.3L834.8 662.3L834.8 659.3L834.8 656.3L834.8 653.3L834.8 650.3L834.8 647.3L834.9 644.3L834.9 641.3L834.9 638.3L834.9 635.3L834.9 632.3L834.9 629.3L834.9 626.3L834.9 623.3L834.9 620.3L834.9 617.3L834.9 614.3L834.9 611.3L834.9 608.3L834.9 605.3L834.9 602.3L834.9 599.3L834.9 596.3L834.9 593.3L834.9 590.3L834.9 587.3L834.9 584.3L834.9 581.3L834.9 578.3L835 575.3L835 572.3L835 569.3L835 566.3L835 563.3L835 560.3L835 557.3L835 554.3L835 551.3L835 548.3L835 545.3L835 542.3L835 539.3L835 536.3L835 533.3L835 530.3L835 527.3L835 524.3L835 521.3L835 518.3L835 515.3L835 512.3L835 509.3L835 506.3L835 503.3L835.1 500.3L835.1 497.3L835.1 494.3L835.1 491.3L835.1 488.3L835.1 485.3L835.1 482.3L835.1 479.3L835.1 476.3L835.1 473.3L835.1 470.3L835.1 467.3L835.1 464.3L835.1 461.3L835.1 458.3L835.1 455.3L835.1 452.3L835.1 449.3L835.1 446.3L835.1 443.3L835.1 440.3L835.1 437.3L835.1 434.3L835.1 431.3L835.1 428.3L835.1 425.3L835.1 422.3L835.1 419.3L835.1 416.3L835.1 413.3L835.2 410.3L835.2 407.3L835.2 404.3L835.2 401.3L835.2 398.3L835.2 395.3L835.2 392.3L835.2 389.3L835.2 386.3L835.2 383.3L835.2 380.3L835.2 377.3L835.2 374.3L835.2 371.3L835.2 368.3L835.2 365.3L835.2 362.3L835.2 359.3L835.2 356.3L835.2 353.3L835.2 350.3L835.2 347.3L835.2 344.3L835.2 341.3L835.2 338.3L835.2 335.3L835.2 332.3L835.2 329.3L835.2 326.3L835.2 323.3L835.2 320.3L835.2 317.3L835.2 314.3L835.2 311.3L835.2 308.3L835.2 305.3L835.2 302.3L835.2 299.3L835.2 296.3L835.2 293.3L835.2 290.3L835.2 289.2M866.2 1018L865.6 993L865.5 938L865.2 514.2M866.2 1018L866.5 1015L866.8 1012L867.1 1009L867.4 1006L867.7 1003L868 1000L868.3 997L868.5 994L868.7 991L869 988L869.2 985L869.5 982L869.7 979L869.9 976L870.1 973L870.3 970L870.6 967L870.8 964L870.9 961L871.1 958L871.3 955L871.4 952L871.6 949L871.8 946L872 943L872.1 940L872.3 937L872.5 934L872.6 931L872.8 928L872.9 925L873 922L873.2 919L873.2 916L873.3 913L873.4 910L873.5 907L873.6 904L873.6 901L873.7 898L873.8 895L873.9 892L874 889L874 886L874.1 883L874.2 880L874.3 877L874.4 874L874.4 871L874.5 868L874.5 865L874.6 862L874.6 859L874.7 856L874.7 853L874.8 850L874.8 847L874.9 844L874.9 841L875 838L875 835L875.1 832L875.1 829L875.1 826L875.2 823L875.2 820L875.2 817L875.2 814L875.3 811L875.3 808L875.3 805L875.3 802L875.4 799L875.4 796L875.4 793L875.4 790L875.4 787L875.5 784L875.5 781L875.5 778L875.5 775L875.5 772L875.5 769L875.5 766L875.5 763L875.5 760L875.6 757L875.6 754L875.6 751L875.6 748L875.6 745L875.6 742L875.6 739L875.6 736L875.6 733L875.6 730L875.7 727L875.7 724L875.7 721L875.7 718L875.7 715L875.7 712L875.7 709L875.7 706L875.7 703L875.7 700L875.7 697L875.8 694L875.8 691L875.8 688L875.8 685L875.8 682L875.8 679L875.8 676L875.8 673L875.8 670L875.8 667L875.9 664L875.9 661L875.9 658L875.9 655L875.9 652L875.9 649L875.9 646L875.9 643L875.9 640L875.9 637L875.9 634L875.9 631L875.9 628L875.9 625L875.9 622L875.9 619L875.9 616L875.9 613L875.9 610L875.9 607L875.9 604L876 601L876 598L876 595L876 592L876 589L876 586L876 583L876 580L876 577L876 574L876 571L876 568L876 565L876 562L876 559L876 556L876 553L876 550L876 547L876 544L876 541L876 538L876 535L876 532L876.1 529L876.1 526L876.1 523L876.1 520L876.1 517L876.1 514L876.1 511L876.1 508L876.1 505L876.1 502L876.1 499L876.1 496L876.1 493L876.1 490L876.1 487L876.1 484L876.1 481L876.1 478L876.1 475L876.1 472L876.1 469L876.1 466L876.1 463L876.1 460L876.1 457L876.1 454L876.1 451L876.1 448L876.2 445L876.2 442L876.2 439L876.2 436L876.2 433L876.2 430L876.2 427L876.2 424L876.2 421L876.2 418L876.2 415L876.2 412L876.2 409L876.2 406L876.2 403L876.2 400L876.2 397L876.2 394L876.2 391L876.2 388L876.2 385L876.2 382L876.2 379L876.2 376L876.2 373L876.2 370L876.2 367L876.2 364L876.2 361L876.2 358L876.2 355L876.2 352L876.2 349L876.2 346L876.2 343L876.2 340L876.2 337L876.2 334L876.2 331L876.2 328L876.2 327.2M907.5 1016L906.9 991L906.8 936L906.2 483.2M907.5 1016L907.7 1013L908 1010L908.3 1007L908.5 1004L908.8 1001L909.1 998L909.4 995L909.6 992L909.8 989L910 986L910.3 983L910.5 980L910.7 977L910.9 974L911.1 971L911.3 968L911.5 965L911.7 962L911.8 959L912 956L912.1 953L912.3 950L912.5 947L912.6 944L912.8 941L912.9 938L913.1 935L913.3 932L913.4 929L913.5 926L913.6 923L913.7 920L913.8 917L913.9 914L914 911L914 908L914.1 905L914.2 902L914.2 899L914.3 896L914.4 893L914.5 890L914.5 887L914.6 884L914.7 881L914.8 878L914.8 875L914.9 872L914.9 869L915 866L915 863L915.1 860L915.1 857L915.2 854L915.2 851L915.2 848L915.3 845L915.3 842L915.4 839L915.4 836L915.5 833L915.5 830L915.5 827L915.5 824L915.6 821L915.6 818L915.6 815L915.6 812L915.6 809L915.7 806L915.7 803L915.7 800L915.7 797L915.8 794L915.8 791L915.8 788L915.8 785L915.8 782L915.8 779L915.8 776L915.8 773L915.8 770L915.9 767L915.9 764L915.9 761L915.9 758L915.9 755L915.9 752L915.9 749L915.9 746L915.9 743L915.9 740L915.9 737L915.9 734L916 731L916 728L916 725L916 722L916 719L916 716L916 713L916 710L916 707L916 704L916 701L916.1 698L916.1 695L916.1 692L916.1 689L916.1 686L916.1 683L916.1 680L916.1 677L916.1 674L916.1 671L916.1 668L916.1 665L916.1 662L916.2 659L916.2 656L916.2 653L916.2 650L916.2 647L916.2 644L916.2 641L916.2 638L916.2 635L916.2 632L916.2 629L916.2 626L916.2 623L916.2 620L916.2 617L916.2 614L916.2 611L916.2 608L916.2 605L916.2 602L916.2 599L916.2 596L916.2 593L916.2 590L916.2 587L916.3 584L916.3 581L916.3 578L916.3 575L916.3 572L916.3 569L916.3 566L916.3 563L916.3 560L916.3 557L916.3 554L916.3 551L916.3 548L916.3 545L916.3 542L916.3 539L916.3 536L916.3 533L916.3 530L916.3 527L916.3 524L916.3 521L916.3 518L916.3 515L916.3 512L916.3 509L916.4 506L916.4 503L916.4 500L916.4 497L916.4 494L916.4 491L916.4 488L916.4 485L916.4 482L916.4 479L916.4 476L916.4 473L916.4 470L916.4 467L916.4 464L916.4 461L916.4 458L916.4 455L916.4 452L916.4 449L916.4 446L916.4 443L916.4 440L916.4 437L916.4 434L916.4 431L916.4 428L916.4 425L916.4 422L916.4 419L916.4 416L916.4 413L916.4 410L916.4 407L916.4 404L916.4 401L916.4 398L916.4 395L916.4 392L916.4 389L916.5 386L916.5 383L916.5 380L916.5 377L916.5 374L916.5 371L916.5 368L916.5 365L916.5 362L916.5 359L916.5 356L916.5 353L916.5 350L916.5 347L916.5 344L916.5 341L916.5 338L916.5 335L916.5 332L916.5 329L916.5 326L916.5 323L916.5 320L916.5 317L916.5 314L916.5 311L916.5 308L916.5 305L916.5 302L916.5 299L916.5 296L916.5 293L916.5 292.2M948.3 1013.9L947.7 988.9L947.5 933.9L948 199.2M948.3 1013.9L948.3 1010.9L948.4 1007.9L948.7 1004.9L948.9 1001.9L949.2 998.9L949.5 995.9L949.8 992.9L950.1 989.9L950.3 986.9L950.6 983.9L950.8 980.9L951.1 977.9L951.3 974.9L951.5 971.9L951.8 968.9L952 965.9L952.2 962.9L952.4 959.9L952.6 956.9L952.7 953.9L952.9 950.9L953.1 947.9L953.2 944.9L953.4 941.9L953.6 938.9L953.7 935.9L953.9 932.9L954.1 929.9L954.2 926.9L954.4 923.9L954.5 920.9L954.6 917.9L954.7 914.9L954.8 911.9L954.9 908.9L954.9 905.9L955 902.9L955.1 899.9L955.2 896.9L955.3 893.9L955.3 890.9L955.4 887.9L955.5 884.9L955.6 881.9L955.7 878.9L955.7 875.9L955.8 872.9L955.8 869.9L955.9 866.9L955.9 863.9L956 860.9L956 857.9L956.1 854.9L956.1 851.9L956.2 848.9L956.2 845.9L956.3 842.9L956.3 839.9L956.4 836.9L956.4 833.9L956.5 830.9L956.5 827.9L956.5 824.9L956.5 821.9L956.6 818.9L956.6 815.9L956.6 812.9L956.6 809.9L956.7 806.9L956.7 803.9L956.7 800.9L956.7 797.9L956.7 794.9L956.8 791.9L956.8 788.9L956.8 785.9L956.8 782.9L956.8 779.9L956.8 776.9L956.8 773.9L956.8 770.9L956.8 767.9L956.9 764.9L956.9 761.9L956.9 758.9L956.9 755.9L956.9 752.9L956.9 749.9L956.9 746.9L956.9 743.9L956.9 740.9L956.9 737.9L956.9 734.9L957 731.9L957 728.9L957 725.9L957 722.9L957 719.9L957 716.9L957 713.9L957 710.9L957 707.9L957 704.9L957 701.9L957.1 698.9L957.1 695.9L957.1 692.9L957.1 689.9L957.1 686.9L957.1 683.9L957.1 680.9L957.1 677.9L957.1 674.9L957.1 671.9L957.1 668.9L957.1 665.9L957.1 662.9L957.2 659.9L957.2 656.9L957.2 653.9L957.2 650.9L957.2 647.9L957.2 644.9L957.2 641.9L957.2 638.9L957.2 635.9L957.2 632.9L957.2 629.9L957.2 626.9L957.2 623.9L957.2 620.9L957.2 617.9L957.2 614.9L957.2 611.9L957.2 608.9L957.2 605.9L957.2 602.9L957.2 599.9L957.2 596.9L957.2 593.9L957.2 590.9L957.3 587.9L957.3 584.9L957.3 581.9L957.3 578.9L957.3 575.9L957.3 572.9L957.3 569.9L957.3 566.9L957.3 563.9L957.3 560.9L957.3 557.9L957.3 554.9L957.3 551.9L957.3 548.9L957.3 545.9L957.3 542.9L957.3 539.9L957.3 536.9L957.3 533.9L957.3 530.9L957.3 527.9L957.3 524.9L957.3 521.9L957.3 518.9L957.4 515.9L957.4 512.9L957.4 509.9L957.4 506.9L957.4 503.9L957.4 500.9L957.4 497.9L957.4 494.9L957.4 491.9L957.4 488.9L957.4 485.9L957.4 482.9L957.4 479.9L957.4 476.9L957.4 473.9L957.4 470.9L957.4 467.9L957.4 464.9L957.4 461.9L957.4 458.9L957.4 455.9L957.4 452.9L957.4 449.9L957.4 446.9L957.4 443.9L957.4 440.9L957.4 437.9L957.4 434.9L957.4 431.9L957.4 428.9L957.4 425.9L957.4 422.9L957.4 419.9L957.4 416.9L957.4 413.9L957.4 410.9L957.4 407.9L957.4 404.9L957.5 401.9L957.5 398.9L957.5 395.9L957.5 392.9L957.5 389.9L957.5 386.9L957.5 383.9L957.5 380.9L957.5 377.9L957.5 374.9L957.5 371.9L957.5 368.9L957.5 365.9L957.5 362.9L957.5 359.9L957.5 356.9L957.5 353.9L957.5 350.9L957.5 347.9L957.5 344.9L957.5 341.9L957.5 339.2M990.4 1011.7L989.8 986.7L989.6 931.7L989.2 472.2M990.4 1011.7L990.4 1008.7L990.4 1005.7L990.5 1002.7L990.7 999.7L990.9 996.7L991.2 993.7L991.4 990.7L991.7 987.7L991.9 984.7L992.1 981.7L992.4 978.7L992.6 975.7L992.8 972.7L993 969.7L993.2 966.7L993.4 963.7L993.5 960.7L993.7 957.7L993.9 954.7L994 951.7L994.2 948.7L994.3 945.7L994.5 942.7L994.6 939.7L994.7 936.7L994.9 933.7L995 930.7L995.2 927.7L995.3 924.7L995.4 921.7L995.5 918.7L995.6 915.7L995.7 912.7L995.8 909.7L995.8 906.7L995.9 903.7L996 900.7L996.1 897.7L996.1 894.7L996.2 891.7L996.3 888.7L996.3 885.7L996.4 882.7L996.5 879.7L996.5 876.7L996.6 873.7L996.6 870.7L996.7 867.7L996.7 864.7L996.8 861.7L996.8 858.7L996.8 855.7L996.9 852.7L996.9 849.7L997 846.7L997 843.7L997.1 840.7L997.1 837.7L997.1 834.7L997.2 831.7L997.2 828.7L997.2 825.7L997.2 822.7L997.2 819.7L997.3 816.7L997.3 813.7L997.3 810.7L997.3 807.7L997.3 804.7L997.4 801.7L997.4 798.7L997.4 795.7L997.4 792.7L997.4 789.7L997.4 786.7L997.4 783.7L997.4 780.7L997.4 777.7L997.4 774.7L997.5 771.7L997.5 768.7L997.5 765.7L997.5 762.7L997.5 759.7L997.5 756.7L997.5 753.7L997.5 750.7L997.5 747.7L997.5 744.7L997.5 741.7L997.5 738.7L997.6 735.7L997.6 732.7L997.6 729.7L997.6 726.7L997.6 723.7L997.6 720.7L997.6 717.7L997.6 714.7L997.6 711.7L997.6 708.7L997.6 705.7L997.6 702.7L997.7 699.7L997.7 696.7L997.7 693.7L997.7 690.7L997.7 687.7L997.7 684.7L997.7 681.7L997.7 678.7L997.7 675.7L997.7 672.7L997.7 669.7L997.7 666.7L997.7 663.7L997.7 660.7L997.7 657.7L997.7 654.7L997.7 651.7L997.7 648.7L997.7 645.7L997.7 642.7L997.7 639.7L997.8 636.7L997.8 633.7L997.8 630.7L997.8 627.7L997.8 624.7L997.8 621.7L997.8 618.7L997.8 615.7L997.8 612.7L997.8 609.7L997.8 606.7L997.8 603.7L997.8 600.7L997.8 597.7L997.8 594.7L997.8 591.7L997.8 588.7L997.8 585.7L997.8 582.7L997.8 579.7L997.8 576.7L997.8 573.7L997.8 570.7L997.8 567.7L997.8 564.7L997.8 561.7L997.8 558.7L997.8 555.7L997.9 552.7L997.9 549.7L997.9 546.7L997.9 543.7L997.9 540.7L997.9 537.7L997.9 534.7L997.9 531.7L997.9 528.7L997.9 525.7L997.9 522.7L997.9 519.7L997.9 516.7L997.9 513.7L997.9 510.7L997.9 507.7L997.9 504.7L997.9 501.7L997.9 498.7L997.9 495.7L997.9 492.7L997.9 489.7L997.9 486.7L997.9 483.7L997.9 480.7L997.9 477.7L997.9 474.7L997.9 471.7L997.9 468.7L997.9 465.7L997.9 462.7L997.9 459.7L997.9 456.7L997.9 453.7L997.9 450.7L997.9 447.7L997.9 444.7L997.9 441.7L997.9 438.7L997.9 435.7L998 432.7L998 429.7L998 426.7L998 423.7L998 420.7L998 417.7L998 414.7L998 411.7L998 408.7L998 405.7L998 402.7L998 399.7L998 396.7L998 393.7L998 390.7L998 387.7L998 384.7L998 381.7L998 378.7L998 375.7L998 372.7L998 369.7L998 366.7L998 363.7L998 360.7L998 357.7L998 354.7L998 352.2M1031.6 1009.9L1031 984.9L1031 966.8M1030.9 960L1030.8 929.9L1031 432.2M1031.6 1009.9L1031.6 1006.9L1031.6 1003.9L1031.6 1000.9L1031.8 997.9L1032 994.9L1032.2 991.9L1032.5 988.9L1032.8 985.9L1033.1 982.9L1033.3 979.9L1033.5 976.9L1033.7 973.9L1033.9 970.9L1034.1 967.9L1034.4 964.9L1034.6 961.9L1034.7 958.9L1034.9 955.9L1035.1 952.9L1035.2 949.9L1035.4 946.9L1035.6 943.9L1035.7 940.9L1035.9 937.9L1036 934.9L1036.2 931.9L1036.3 928.9L1036.5 925.9L1036.6 922.9L1036.7 919.9L1036.8 916.9L1036.9 913.9L1037 910.9L1037.1 907.9L1037.1 904.9L1037.2 901.9L1037.3 898.9L1037.3 895.9L1037.4 892.9L1037.5 889.9L1037.6 886.9L1037.6 883.9L1037.7 880.9L1037.8 877.9L1037.8 874.9L1037.9 871.9L1037.9 868.9L1038 865.9L1038 862.9L1038.1 859.9L1038.1 856.9L1038.1 853.9L1038.2 850.9L1038.2 847.9L1038.3 844.9L1038.3 841.9L1038.4 838.9L1038.4 835.9L1038.4 832.9L1038.4 829.9L1038.5 826.9L1038.5 823.9L1038.5 820.9L1038.5 817.9L1038.5 814.9L1038.6 811.9L1038.6 808.9L1038.6 805.9L1038.6 802.9L1038.6 799.9L1038.6 796.9L1038.7 793.9L1038.7 790.9L1038.7 787.9L1038.7 784.9L1038.7 781.9L1038.7 778.9L1038.7 775.9L1038.7 772.9L1038.7 769.9L1038.7 766.9L1038.7 763.9L1038.8 760.9L1038.8 757.9L1038.8 754.9L1038.8 751.9L1038.8 748.9L1038.8 745.9L1038.8 742.9L1038.8 739.9L1038.8 736.9L1038.8 733.9L1038.8 730.9L1038.8 727.9L1038.9 724.9L1038.9 721.9L1038.9 718.9L1038.9 715.9L1038.9 712.9L1038.9 709.9L1038.9 706.9L1038.9 703.9L1038.9 700.9L1038.9 697.9L1038.9 694.9L1038.9 691.9L1038.9 688.9L1039 685.9L1039 682.9L1039 679.9L1039 676.9L1039 673.9L1039 670.9L1039 667.9L1039 664.9L1039 661.9L1039 658.9L1039 655.9L1039 652.9L1039 649.9L1039 646.9L1039 643.9L1039 640.9L1039 637.9L1039 634.9L1039 631.9L1039 628.9L1039 625.9L1039 622.9L1039 619.9L1039 616.9L1039 613.9L1039 610.9L1039.1 607.9L1039.1 604.9L1039.1 601.9L1039.1 598.9L1039.1 595.9L1039.1 592.9L1039.1 589.9L1039.1 586.9L1039.1 583.9L1039.1 580.9L1039.1 577.9L1039.1 574.9L1039.1 571.9L1039.1 568.9L1039.1 565.9L1039.1 562.9L1039.1 559.9L1039.1 556.9L1039.1 553.9L1039.1 550.9L1039.1 547.9L1039.1 544.9L1039.1 541.9L1039.1 538.9L1039.1 535.9L1039.1 532.9L1039.1 529.9L1039.1 526.9L1039.1 523.9L1039.1 520.9L1039.2 517.9L1039.2 514.9L1039.2 511.9L1039.2 508.9L1039.2 505.9L1039.2 502.9L1039.2 499.9L1039.2 496.9L1039.2 493.9L1039.2 490.9L1039.2 487.9L1039.2 484.9L1039.2 481.9L1039.2 478.9L1039.2 475.9L1039.2 472.9L1039.2 469.9L1039.2 466.9L1039.2 463.9L1039.2 460.9L1039.2 457.9L1039.2 454.9L1039.2 451.9L1039.2 448.9L1039.2 445.9L1039.2 442.9L1039.2 439.9L1039.2 436.9L1039.2 433.9L1039.2 430.9L1039.2 427.9L1039.2 424.9L1039.2 421.9L1039.2 418.9L1039.2 415.9L1039.2 412.9L1039.2 409.9L1039.2 406.9L1039.2 403.9L1039.2 400.9L1039.2 397.9L1039.2 394.9L1039.2 391.9L1039.2 388.9L1039.2 385.9L1039.2 382.9L1039.2 379.9L1039.2 376.9L1039.2 373.9L1039.2 370.9L1039.2 367.9L1039.2 364.9L1039.2 361.9L1039.2 358.9L1039.2 355.9L1039.2 352.9L1039.2 349.9L1039.2 346.9L1039.2 343.9L1039.2 340.9L1039.2 337.9L1039.2 334.9L1039.2 331.9L1039.2 328.9L1039.2 325.9L1039.2 322.9L1039.2 319.9L1039.2 316.9L1039.2 313.9L1039.2 310.9L1039.2 307.9L1039.2 304.9L1039.2 301.9L1039.2 298.9L1039.2 295.9L1039.2 292.9L1039.2 289.9L1039.2 288.2M1073 1006.6L1072.4 981.6L1072.2 926.6L1072.2 442.2M1073 1006.6L1073 1003.6L1073 1000.6L1073 997.6L1073.2 994.6L1073.4 991.6L1073.6 988.6L1073.9 985.6L1074.2 982.6L1074.4 979.6L1074.7 976.6L1074.9 973.6L1075.1 970.6L1075.3 967.6L1075.5 964.6L1075.7 961.6L1075.9 958.6L1076.1 955.6L1076.3 952.6L1076.4 949.6L1076.6 946.6L1076.7 943.6L1076.9 940.6L1077 937.6L1077.2 934.6L1077.3 931.6L1077.5 928.6L1077.6 925.6L1077.7 922.6L1077.9 919.6L1078 916.6L1078.1 913.6L1078.1 910.6L1078.2 907.6L1078.3 904.6L1078.3 901.6L1078.4 898.6L1078.5 895.6L1078.6 892.6L1078.6 889.6L1078.7 886.6L1078.8 883.6L1078.8 880.6L1078.9 877.6L1078.9 874.6L1079 871.6L1079 868.6L1079.1 865.6L1079.1 862.6L1079.2 859.6L1079.2 856.6L1079.3 853.6L1079.3 850.6L1079.3 847.6L1079.4 844.6L1079.4 841.6L1079.4 838.6L1079.5 835.6L1079.5 832.6L1079.5 829.6L1079.5 826.6L1079.5 823.6L1079.6 820.6L1079.6 817.6L1079.6 814.6L1079.6 811.6L1079.7 808.6L1079.7 805.6L1079.7 802.6L1079.7 799.6L1079.7 796.6L1079.7 793.6L1079.7 790.6L1079.7 787.6L1079.7 784.6L1079.7 781.6L1079.7 778.6L1079.8 775.6L1079.8 772.6L1079.8 769.6L1079.8 766.6L1079.8 763.6L1079.8 760.6L1079.8 757.6L1079.8 754.6L1079.8 751.6L1079.8 748.6L1079.8 745.6L1079.8 742.6L1079.9 739.6L1079.9 736.6L1079.9 733.6L1079.9 730.6L1079.9 727.6L1079.9 724.6L1079.9 721.6L1079.9 718.6L1079.9 715.6L1079.9 712.6L1079.9 709.6L1080 706.6L1080 703.6L1080 700.6L1080 697.6L1080 694.6L1080 691.6L1080 688.6L1080 685.6L1080 682.6L1080 679.6L1080 676.6L1080 673.6L1080 670.6L1080 667.6L1080 664.6L1080 661.6L1080 658.6L1080 655.6L1080 652.6L1080 649.6L1080 646.6L1080 643.6L1080 640.6L1080 637.6L1080 634.6L1080 631.6L1080.1 628.6L1080.1 625.6L1080.1 622.6L1080.1 619.6L1080.1 616.6L1080.1 613.6L1080.1 610.6L1080.1 607.6L1080.1 604.6L1080.1 601.6L1080.1 598.6L1080.1 595.6L1080.1 592.6L1080.1 589.6L1080.1 586.6L1080.1 583.6L1080.1 580.6L1080.1 577.6L1080.1 574.6L1080.1 571.6L1080.1 568.6L1080.1 565.6L1080.1 562.6L1080.1 559.6L1080.1 556.6L1080.1 553.6L1080.1 550.6L1080.1 547.6L1080.2 544.6L1080.2 541.6L1080.2 538.6L1080.2 535.6L1080.2 532.6L1080.2 529.6L1080.2 526.6L1080.2 523.6L1080.2 520.6L1080.2 517.6L1080.2 514.6L1080.2 511.6L1080.2 508.6L1080.2 505.6L1080.2 502.6L1080.2 499.6L1080.2 496.6L1080.2 493.6L1080.2 490.6L1080.2 487.6L1080.2 484.6L1080.2 481.6L1080.2 478.6L1080.2 475.6L1080.2 472.6L1080.2 469.6L1080.2 466.6L1080.2 463.6L1080.2 460.6L1080.2 457.6L1080.2 454.6L1080.2 451.6L1080.2 448.6L1080.2 445.6L1080.2 442.6L1080.2 439.6L1080.2 436.6L1080.2 433.6L1080.2 430.6L1080.2 427.6L1080.2 424.6L1080.2 421.6L1080.2 418.6L1080.2 415.6L1080.2 412.6L1080.2 409.6L1080.2 406.6L1080.2 403.6L1080.2 400.6L1080.2 397.6L1080.2 394.6L1080.2 391.6L1080.2 388.6L1080.2 385.6L1080.2 382.6L1080.2 379.6L1080.2 376.6L1080.2 373.6L1080.2 370.6L1080.2 367.6L1080.2 364.6L1080.2 361.6L1080.2 358.6L1080.2 355.6L1080.2 352.6L1080.2 349.6L1080.2 346.6L1080.2 343.6L1080.2 340.6L1080.2 337.6L1080.2 334.6L1080.2 331.6L1080.2 328.6L1080.2 325.6L1080.2 322.6L1080.2 319.6L1080.2 316.6L1080.2 313.6L1080.2 310.6L1080.2 307.6L1080.2 304.6L1080.2 302.2M1114 1003.3L1113.4 978.3L1113.2 923.3L1113.2 546.2M1114 1003.3L1114 1000.3L1114 997.3L1114 994.3L1114 991.3L1114 988.3L1114.2 985.3L1114.4 982.3L1114.7 979.3L1114.9 976.3L1115.2 973.3L1115.4 970.3L1115.6 967.3L1115.8 964.3L1116 961.3L1116.2 958.3L1116.4 955.3L1116.6 952.3L1116.8 949.3L1116.9 946.3L1117.1 943.3L1117.2 940.3L1117.4 937.3L1117.5 934.3L1117.6 931.3L1117.8 928.3L1117.9 925.3L1118.1 922.3L1118.2 919.3L1118.3 916.3L1118.4 913.3L1118.5 910.3L1118.6 907.3L1118.6 904.3L1118.7 901.3L1118.8 898.3L1118.8 895.3L1118.9 892.3L1119 889.3L1119 886.3L1119.1 883.3L1119.2 880.3L1119.2 877.3L1119.3 874.3L1119.3 871.3L1119.4 868.3L1119.4 865.3L1119.5 862.3L1119.5 859.3L1119.5 856.3L1119.6 853.3L1119.6 850.3L1119.7 847.3L1119.7 844.3L1119.8 841.3L1119.8 838.3L1119.8 835.3L1119.8 832.3L1119.8 829.3L1119.8 826.3L1119.9 823.3L1119.9 820.3L1119.9 817.3L1119.9 814.3L1119.9 811.3L1120 808.3L1120 805.3L1120 802.3L1120 799.3L1120 796.3L1120 793.3L1120 790.3L1120 787.3L1120 784.3L1120 781.3L1120.1 778.3L1120.1 775.3L1120.1 772.3L1120.1 769.3L1120.1 766.3L1120.1 763.3L1120.1 760.3L1120.1 757.3L1120.1 754.3L1120.1 751.3L1120.1 748.3L1120.1 745.3L1120.1 742.3L1120.2 739.3L1120.2 736.3L1120.2 733.3L1120.2 730.3L1120.2 727.3L1120.2 724.3L1120.2 721.3L1120.2 718.3L1120.2 715.3L1120.2 712.3L1120.2 709.3L1120.2 706.3L1120.2 703.3L1120.2 700.3L1120.3 697.3L1120.3 694.3L1120.3 691.3L1120.3 688.3L1120.3 685.3L1120.3 682.3L1120.3 679.3L1120.3 676.3L1120.3 673.3L1120.3 670.3L1120.3 667.3L1120.3 664.3L1120.3 661.3L1120.3 658.3L1120.3 655.3L1120.3 652.3L1120.3 649.3L1120.3 646.3L1120.3 643.3L1120.3 640.3L1120.3 637.3L1120.3 634.3L1120.3 631.3L1120.3 628.3L1120.3 625.3L1120.3 622.3L1120.3 619.3L1120.3 616.3L1120.4 613.3L1120.4 610.3L1120.4 607.3L1120.4 604.3L1120.4 601.3L1120.4 598.3L1120.4 595.3L1120.4 592.3L1120.4 589.3L1120.4 586.3L1120.4 583.3L1120.4 580.3L1120.4 577.3L1120.4 574.3L1120.4 571.3L1120.4 568.3L1120.4 565.3L1120.4 562.3L1120.4 559.3L1120.4 556.3L1120.4 553.3L1120.4 550.3L1120.4 547.3L1120.4 544.3L1120.4 541.3L1120.4 538.3L1120.4 535.3L1120.4 532.3L1120.4 529.3L1120.4 526.3L1120.4 523.3L1120.4 520.3L1120.4 517.3L1120.4 514.3L1120.4 511.3L1120.4 508.3L1120.4 505.3L1120.4 502.3L1120.5 499.3L1120.5 496.3L1120.5 493.3L1120.5 490.3L1120.5 487.3L1120.5 484.3L1120.5 481.3L1120.5 478.3L1120.5 475.3L1120.5 472.3L1120.5 469.3L1120.5 466.3L1120.5 463.3L1120.5 460.3L1120.5 457.3L1120.5 454.3L1120.5 451.3L1120.5 448.3L1120.5 445.3L1120.5 442.3L1120.5 439.3L1120.5 436.3L1120.5 433.3L1120.5 430.3L1120.5 427.3L1120.5 424.3L1120.5 421.3L1120.5 418.3L1120.5 415.3L1120.5 412.3L1120.5 409.3L1120.5 406.3L1120.5 403.3L1120.5 400.3L1120.5 399.2M1155.5 1000.6L1154.9 975.6L1154.8 920.6L1155.2 416.2M1155.5 1000.6L1155.5 997.6L1155.5 994.6L1155.5 991.6L1155.5 988.6L1155.5 985.6L1155.5 982.6L1155.6 979.6L1155.8 976.6L1156 973.6L1156.2 970.6L1156.5 967.6L1156.7 964.6L1156.9 961.6L1157 958.6L1157.2 955.6L1157.4 952.6L1157.6 949.6L1157.8 946.6L1157.9 943.6L1158.1 940.6L1158.2 937.6L1158.4 934.6L1158.5 931.6L1158.6 928.6L1158.8 925.6L1158.9 922.6L1159 919.6L1159.2 916.6L1159.3 913.6L1159.4 910.6L1159.5 907.6L1159.5 904.6L1159.6 901.6L1159.6 898.6L1159.7 895.6L1159.8 892.6L1159.8 889.6L1159.9 886.6L1160 883.6L1160 880.6L1160.1 877.6L1160.1 874.6L1160.2 871.6L1160.2 868.6L1160.3 865.6L1160.3 862.6L1160.3 859.6L1160.4 856.6L1160.4 853.6L1160.5 850.6L1160.5 847.6L1160.5 844.6L1160.6 841.6L1160.6 838.6L1160.6 835.6L1160.6 832.6L1160.7 829.6L1160.7 826.6L1160.7 823.6L1160.7 820.6L1160.7 817.6L1160.7 814.6L1160.8 811.6L1160.8 808.6L1160.8 805.6L1160.8 802.6L1160.8 799.6L1160.8 796.6L1160.8 793.6L1160.8 790.6L1160.8 787.6L1160.8 784.6L1160.9 781.6L1160.9 778.6L1160.9 775.6L1160.9 772.6L1160.9 769.6L1160.9 766.6L1160.9 763.6L1160.9 760.6L1160.9 757.6L1160.9 754.6L1160.9 751.6L1160.9 748.6L1160.9 745.6L1160.9 742.6L1161 739.6L1161 736.6L1161 733.6L1161 730.6L1161 727.6L1161 724.6L1161 721.6L1161 718.6L1161 715.6L1161 712.6L1161 709.6L1161 706.6L1161 703.6L1161 700.6L1161 697.6L1161 694.6L1161 691.6L1161 688.6L1161.1 685.6L1161.1 682.6L1161.1 679.6L1161.1 676.6L1161.1 673.6L1161.1 670.6L1161.1 667.6L1161.1 664.6L1161.1 661.6L1161.1 658.6L1161.1 655.6L1161.1 652.6L1161.1 649.6L1161.1 646.6L1161.1 643.6L1161.1 640.6L1161.1 637.6L1161.1 634.6L1161.1 631.6L1161.1 628.6L1161.1 625.6L1161.1 622.6L1161.1 619.6L1161.1 616.6L1161.1 613.6L1161.1 610.6L1161.1 607.6L1161.1 604.6L1161.1 601.6L1161.1 598.6L1161.1 595.6L1161.2 592.6L1161.2 589.6L1161.2 586.6L1161.2 583.6L1161.2 580.6L1161.2 577.6L1161.2 574.6L1161.2 571.6L1161.2 568.6L1161.2 565.6L1161.2 562.6L1161.2 559.6L1161.2 556.6L1161.2 553.6L1161.2 550.6L1161.2 547.6L1161.2 544.6L1161.2 541.6L1161.2 538.6L1161.2 535.6L1161.2 532.6L1161.2 529.6L1161.2 526.6L1161.2 523.6L1161.2 520.6L1161.2 517.6L1161.2 514.6L1161.2 511.6L1161.2 508.6L1161.2 505.6L1161.2 502.6L1161.2 499.6L1161.2 496.6L1161.2 493.6L1161.2 490.6L1161.2 487.6L1161.2 484.6L1161.2 481.6L1161.2 478.6L1161.2 475.6L1161.2 472.6L1161.2 469.6L1161.2 466.6L1161.2 463.6L1161.2 460.6L1161.2 457.6L1161.2 454.6L1161.2 451.6L1161.2 448.6L1161.2 445.6L1161.2 442.6L1161.2 439.6L1161.2 436.6L1161.2 433.6L1161.2 430.6L1161.2 427.6L1161.2 424.6L1161.2 421.6L1161.2 418.6L1161.2 415.6L1161.2 412.6L1161.2 409.6L1161.2 406.6L1161.2 403.6L1161.2 400.6L1161.2 397.6L1161.2 394.6L1161.2 391.6L1161.2 388.6L1161.2 385.6L1161.2 382.6L1161.2 379.6L1161.2 376.6L1161.2 373.6L1161.2 370.6L1161.2 367.6L1161.2 364.6L1161.2 361.6L1161.2 358.6L1161.2 355.6L1161.2 352.6L1161.2 349.6L1161.2 346.6L1161.2 343.6L1161.2 340.6L1161.2 337.6L1161.2 334.6L1161.2 331.6L1161.2 328.6L1161.2 325.6L1161.2 322.6L1161.2 319.6L1161.2 316.6L1161.2 313.6L1161.2 310.6L1161.2 307.6L1161.2 304.6L1161.2 301.6L1161.2 298.6L1161.2 295.6L1161.2 292.6L1161.2 289.6L1161.2 286.6L1161.2 283.6L1161.2 280.6L1161.2 277.6L1161.2 274.6L1161.2 271.6L1161.2 268.6L1161.2 265.6L1161.2 262.6L1161.2 259.6L1161.2 256.6L1161.2 253.6L1161.2 250.6L1161.2 247.6L1161.2 244.6L1161.2 241.6L1161.2 238.6L1161.2 235.6L1161.2 232.6L1161.2 229.6L1161.2 226.6L1161.2 223.6L1161.2 220.6L1161.2 220.2M1197.3 998.5L1196.7 973.5L1196.5 918.5L1196.2 523.2M1197.3 998.5L1197.3 995.5L1197.3 992.5L1197.3 989.5L1197.3 986.5L1197.3 983.5L1197.3 980.5L1197.3 977.5L1197.3 974.5L1197.3 971.5L1197.3 968.5L1197.5 965.5L1197.7 962.5L1197.9 959.5L1198.1 956.5L1198.3 953.5L1198.5 950.5L1198.6 947.5L1198.8 944.5L1199 941.5L1199.1 938.5L1199.3 935.5L1199.4 932.5L1199.6 929.5L1199.7 926.5L1199.8 923.5L1199.9 920.5L1200 917.5L1200.2 914.5L1200.3 911.5L1200.4 908.5L1200.5 905.5L1200.6 902.5L1200.7 899.5L1200.8 896.5L1200.8 893.5L1200.9 890.5L1200.9 887.5L1201 884.5L1201 881.5L1201.1 878.5L1201.2 875.5L1201.2 872.5L1201.3 869.5L1201.3 866.5L1201.4 863.5L1201.4 860.5L1201.4 857.5L1201.5 854.5L1201.5 851.5L1201.5 848.5L1201.6 845.5L1201.6 842.5L1201.6 839.5L1201.7 836.5L1201.7 833.5L1201.7 830.5L1201.7 827.5L1201.7 824.5L1201.8 821.5L1201.8 818.5L1201.8 815.5L1201.8 812.5L1201.8 809.5L1201.8 806.5L1201.9 803.5L1201.9 800.5L1201.9 797.5L1201.9 794.5L1201.9 791.5L1201.9 788.5L1201.9 785.5L1201.9 782.5L1201.9 779.5L1201.9 776.5L1201.9 773.5L1201.9 770.5L1201.9 767.5L1201.9 764.5L1201.9 761.5L1202 758.5L1202 755.5L1202 752.5L1202 749.5L1202 746.5L1202 743.5L1202 740.5L1202 737.5L1202 734.5L1202 731.5L1202 728.5L1202 725.5L1202 722.5L1202 719.5L1202 716.5L1202.1 713.5L1202.1 710.5L1202.1 707.5L1202.1 704.5L1202.1 701.5L1202.1 698.5L1202.1 695.5L1202.1 692.5L1202.1 689.5L1202.1 686.5L1202.1 683.5L1202.1 680.5L1202.1 677.5L1202.1 674.5L1202.1 671.5L1202.1 668.5L1202.1 665.5L1202.1 662.5L1202.1 659.5L1202.1 656.5L1202.1 653.5L1202.1 650.5L1202.1 647.5L1202.1 644.5L1202.1 641.5L1202.1 638.5L1202.1 635.5L1202.1 632.5L1202.1 629.5L1202.1 626.5L1202.1 623.5L1202.1 620.5L1202.1 617.5L1202.2 614.5L1202.2 611.5L1202.2 608.5L1202.2 605.5L1202.2 602.5L1202.2 599.5L1202.2 596.5L1202.2 593.5L1202.2 590.5L1202.2 587.5L1202.2 584.5L1202.2 581.5L1202.2 578.5L1202.2 575.5L1202.2 572.5L1202.2 569.5L1202.2 566.5L1202.2 563.5L1202.2 560.5L1202.2 557.5L1202.2 554.5L1202.2 551.5L1202.2 548.5L1202.2 545.5L1202.2 542.5L1202.2 539.5L1202.2 536.5L1202.2 533.5L1202.2 530.5L1202.2 527.5L1202.2 524.5L1202.2 521.5L1202.2 518.5L1202.2 515.5L1202.2 512.5L1202.2 509.5L1202.2 506.5L1202.2 503.5L1202.2 500.5L1202.2 497.5L1202.2 494.5L1202.2 491.5L1202.2 488.5L1202.2 485.5L1202.2 482.5L1202.2 479.5L1202.2 476.5L1202.2 473.5L1202.2 470.5L1202.2 467.5L1202.2 464.5L1202.2 461.5L1202.2 458.5L1202.2 455.5L1202.2 452.5L1202.2 449.5L1202.2 446.5L1202.2 443.5L1202.2 440.5L1202.2 437.5L1202.2 434.5L1202.2 431.5L1202.2 428.5L1202.2 425.5L1202.2 422.5L1202.2 419.5L1202.2 416.5L1202.2 413.5L1202.2 410.5L1202.2 407.5L1202.2 404.5L1202.2 401.5L1202.2 398.5L1202.2 395.5L1202.2 392.5L1202.2 389.5L1202.2 386.5L1202.2 383.5L1202.2 380.5L1202.2 377.5L1202.2 374.5L1202.2 371.5L1202.2 368.5L1202.2 365.5L1202.2 362.5L1202.2 359.5L1202.2 356.5L1202.2 353.5L1202.2 350.5L1202.2 347.5L1202.2 344.5L1202.2 341.5L1202.2 338.5L1202.2 335.5L1202.2 332.5L1202.2 329.5L1202.2 326.5L1202.2 323.5L1202.2 320.5L1202.2 319.2M1238.4 994.5L1237.8 969.5L1237.7 914.5L1238 605.2M1238.4 994.5L1238.4 991.5L1238.4 988.5L1238.4 985.5L1238.4 982.5L1238.4 979.5L1238.4 976.5L1238.4 973.5L1238.4 970.5L1238.4 967.5L1238.4 964.5L1238.4 961.5L1238.4 958.5L1238.5 955.5L1238.7 952.5L1238.9 949.5L1239.1 946.5L1239.3 943.5L1239.5 940.5L1239.7 937.5L1239.8 934.5L1240 931.5L1240.2 928.5L1240.3 925.5L1240.5 922.5L1240.6 919.5L1240.7 916.5L1240.9 913.5L1241 910.5L1241.1 907.5L1241.2 904.5L1241.4 901.5L1241.5 898.5L1241.6 895.5L1241.7 892.5L1241.8 889.5L1241.8 886.5L1241.9 883.5L1241.9 880.5L1242 877.5L1242.1 874.5L1242.1 871.5L1242.2 868.5L1242.2 865.5L1242.3 862.5L1242.3 859.5L1242.4 856.5L1242.4 853.5L1242.4 850.5L1242.5 847.5L1242.5 844.5L1242.6 841.5L1242.6 838.5L1242.6 835.5L1242.7 832.5L1242.7 829.5L1242.7 826.5L1242.7 823.5L1242.7 820.5L1242.8 817.5L1242.8 814.5L1242.8 811.5L1242.8 808.5L1242.8 805.5L1242.9 802.5L1242.9 799.5L1242.9 796.5L1242.9 793.5L1242.9 790.5L1242.9 787.5L1242.9 784.5L1242.9 781.5L1242.9 778.5L1242.9 775.5L1242.9 772.5L1242.9 769.5L1242.9 766.5L1242.9 763.5L1243 760.5L1243 757.5L1243 754.5L1243 751.5L1243 748.5L1243 745.5L1243 742.5L1243 739.5L1243 736.5L1243 733.5L1243 730.5L1243 727.5L1243 724.5L1243 721.5L1243.1 718.5L1243.1 715.5L1243.1 712.5L1243.1 709.5L1243.1 706.5L1243.1 703.5L1243.1 700.5L1243.1 697.5L1243.1 694.5L1243.1 691.5L1243.1 688.5L1243.1 685.5L1243.1 682.5L1243.1 679.5L1243.1 676.5L1243.1 673.5L1243.1 670.5L1243.1 667.5L1243.1 664.5L1243.1 661.5L1243.1 658.5L1243.1 655.5L1243.1 652.5L1243.1 649.5L1243.1 646.5L1243.1 643.5L1243.1 640.5L1243.1 637.5L1243.1 634.5L1243.1 631.5L1243.1 628.5L1243.1 625.5L1243.2 622.5L1243.2 619.5L1243.2 616.5L1243.2 613.5L1243.2 610.5L1243.2 607.5L1243.2 604.5L1243.2 601.5L1243.2 598.5L1243.2 595.5L1243.2 592.5L1243.2 589.5L1243.2 586.5L1243.2 583.5L1243.2 580.5L1243.2 577.5L1243.2 574.5L1243.2 571.5L1243.2 568.5L1243.2 565.5L1243.2 562.5L1243.2 559.5L1243.2 556.5L1243.2 553.5L1243.2 550.5L1243.2 547.5L1243.2 544.5L1243.2 541.5L1243.2 538.5L1243.2 535.5L1243.2 532.5L1243.2 529.5L1243.2 526.5L1243.2 523.5L1243.2 520.5L1243.2 517.5L1243.2 514.5L1243.2 511.5L1243.2 508.5L1243.2 505.5L1243.2 502.5L1243.2 499.5L1243.2 496.5L1243.2 493.5L1243.2 490.5L1243.2 487.5L1243.2 484.5L1243.2 481.5L1243.2 478.5L1243.2 475.5L1243.2 472.5L1243.2 469.5L1243.2 466.5L1243.2 463.5L1243.2 460.5L1243.2 459M1279.3 990.5L1278.9 760L1280.2 598.2M1278.8 950.5L1278.8 652.5M1279.3 990.5L1279.3 987.5L1279.3 984.5L1279.3 981.5L1279.3 978.5L1279.3 975.5L1279.3 972.5L1279.3 969.5L1279.3 966.5L1279.3 963.5L1279.3 960.5L1279.3 957.5L1279.3 954.5L1279.3 951.5L1279.3 948.5L1279.3 945.5L1279.5 942.5L1279.7 939.5L1279.9 936.5L1280.2 933.5L1280.3 930.5L1280.5 927.5L1280.7 924.5L1280.9 921.5L1281.1 918.5L1281.2 915.5L1281.4 912.5L1281.5 909.5L1281.7 906.5L1281.8 903.5L1281.9 900.5L1282 897.5L1282.2 894.5L1282.3 891.5L1282.4 888.5L1282.5 885.5L1282.6 882.5L1282.7 879.5L1282.8 876.5L1282.8 873.5L1282.9 870.5L1283 867.5L1283 864.5L1283.1 861.5L1283.1 858.5L1283.2 855.5L1283.3 852.5L1283.3 849.5L1283.4 846.5L1283.4 843.5L1283.4 840.5L1283.5 837.5L1283.5 834.5L1283.5 831.5L1283.6 828.5L1283.6 825.5L1283.7 822.5L1283.7 819.5L1283.7 816.5L1283.7 813.5L1283.7 810.5L1283.8 807.5L1283.8 804.5L1283.8 801.5L1283.8 798.5L1283.8 795.5L1283.8 792.5L1283.9 789.5L1283.9 786.5L1283.9 783.5L1283.9 780.5L1283.9 777.5L1283.9 774.5L1283.9 771.5L1283.9 768.5L1283.9 765.5L1283.9 762.5L1283.9 759.5L1283.9 756.5L1283.9 753.5L1284 750.5L1284 747.5L1284 744.5L1284 741.5L1284 738.5L1284 735.5L1284 732.5L1284 729.5L1284 726.5L1284 723.5L1284 720.5L1284 717.5L1284 714.5L1284 711.5L1284.1 708.5L1284.1 705.5L1284.1 702.5L1284.1 699.5L1284.1 696.5L1284.1 693.5L1284.1 690.5L1284.1 687.5L1284.1 684.5L1284.1 681.5L1284.1 678.5L1284.1 675.5L1284.1 672.5L1284.1 669.5L1284.1 666.5L1284.1 663.5L1284.1 660.5L1284.1 657.5L1284.1 654.5L1284.1 651.5L1284.1 648.5L1284.1 645.5L1284.1 642.5L1284.1 639.5L1284.1 636.5L1284.1 633.5L1284.1 630.5L1284.1 627.5L1284.1 624.5L1284.1 621.5L1284.2 618.5L1284.2 615.5L1284.2 612.5L1284.2 609.5L1284.2 606.5L1284.2 603.5L1284.2 600.5L1284.2 597.5L1284.2 594.5L1284.2 591.5L1284.2 588.5L1284.2 585.5L1284.2 582.5L1284.2 579.5L1284.2 576.5L1284.2 573.5L1284.2 570.5L1284.2 567.5L1284.2 564.5L1284.2 561.5L1284.2 558.5L1284.2 555.5L1284.2 552.5L1284.2 549.5L1284.2 546.5L1284.2 543.5L1284.2 540.5L1284.2 537.5L1284.2 534.5L1284.2 531.5L1284.2 528.5L1284.2 525.5L1284.2 522.5L1284.2 519.5L1284.2 516.5L1284.2 513.5L1284.2 510.5L1284.2 507.5L1284.2 504.5L1284.2 501.5L1284.2 498.5L1284.2 495.5L1284.2 492.5L1284.2 489.5L1284.2 486.5L1284.2 483.5L1284.2 482.2M1321.2 986L1320.3 760L1320.2 357.2M1321.2 986L1321.2 983L1321.2 980L1321.2 977L1321.2 974L1321.2 971L1321.2 968L1321.2 965L1321.2 962L1321.2 959L1321.2 956L1321.2 953L1321.2 950L1321.2 947L1321.2 944L1321.2 941L1321.2 938L1321.2 935L1321.4 932L1321.5 929L1321.7 926L1321.9 923L1322 920L1322.2 917L1322.3 914L1322.5 911L1322.6 908L1322.8 905L1322.9 902L1323 899L1323.1 896L1323.2 893L1323.3 890L1323.4 887L1323.5 884L1323.6 881L1323.7 878L1323.8 875L1323.9 872L1324 869L1324 866L1324.1 863L1324.1 860L1324.2 857L1324.2 854L1324.3 851L1324.3 848L1324.4 845L1324.4 842L1324.5 839L1324.5 836L1324.5 833L1324.6 830L1324.6 827L1324.6 824L1324.7 821L1324.7 818L1324.7 815L1324.8 812L1324.8 809L1324.8 806L1324.8 803L1324.8 800L1324.8 797L1324.9 794L1324.9 791L1324.9 788L1324.9 785L1324.9 782L1324.9 779L1324.9 776L1324.9 773L1324.9 770L1325 767L1325 764L1325 761L1325 758L1325 755L1325 752L1325 749L1325 746L1325 743L1325 740L1325 737L1325 734L1325 731L1325 728L1325 725L1325 722L1325 719L1325 716L1325.1 713L1325.1 710L1325.1 707L1325.1 704L1325.1 701L1325.1 698L1325.1 695L1325.1 692L1325.1 689L1325.1 686L1325.1 683L1325.1 680L1325.1 677L1325.1 674L1325.1 671L1325.1 668L1325.1 665L1325.1 662L1325.1 659L1325.1 656L1325.1 653L1325.1 650L1325.1 647L1325.1 644L1325.1 641L1325.1 638L1325.1 635L1325.1 632L1325.1 629L1325.1 626L1325.1 623L1325.2 620L1325.2 617L1325.2 614L1325.2 611L1325.2 608L1325.2 605L1325.2 602L1325.2 599L1325.2 596L1325.2 593L1325.2 590L1325.2 587L1325.2 584L1325.2 581L1325.2 578L1325.2 575L1325.2 572L1325.2 569L1325.2 566L1325.2 563L1325.2 560L1325.2 557L1325.2 554L1325.2 551L1325.2 548L1325.2 545L1325.2 542L1325.2 539L1325.2 536L1325.2 533L1325.2 530L1325.2 527L1325.2 524L1325.2 521L1325.2 518L1325.2 515L1325.2 512L1325.2 509L1325.2 506L1325.2 503L1325.2 500L1325.2 497L1325.2 494L1325.2 491L1325.2 488L1325.2 485L1325.2 482L1325.2 479L1325.2 476L1325.2 473L1325.2 470L1325.2 467L1325.2 464L1325.2 461L1325.2 458L1325.2 455L1325.2 452L1325.2 449L1325.2 446L1325.2 443L1325.2 440L1325.2 437L1325.2 434L1325.2 431L1325.2 428L1325.2 425L1325.2 422L1325.2 419L1325.2 416L1325.2 413L1325.2 410L1325.2 407L1325.2 404L1325.2 401L1325.2 398L1325.2 395L1325.2 392L1325.2 389L1325.2 386.2M1362.5 981L1361.7 760L1361.2 564.2M1362.5 981L1362.5 978L1362.5 975L1362.5 972L1362.5 969L1362.5 966L1362.5 963L1362.5 960L1362.5 957L1362.5 954L1362.5 951L1362.5 948L1362.5 945L1362.5 942L1362.5 939L1362.5 936L1362.5 933L1362.5 930L1362.5 927L1362.5 924L1362.5 921L1362.5 918L1362.5 915L1362.5 912L1362.6 909L1362.8 906L1362.9 903L1363 900L1363.1 897L1363.2 894L1363.3 891L1363.4 888L1363.5 885L1363.6 882L1363.7 879L1363.8 876L1363.8 873L1363.9 870L1364 867L1364 864L1364.1 861L1364.2 858L1364.3 855L1364.3 852L1364.4 849L1364.4 846L1364.4 843L1364.5 840L1364.5 837L1364.5 834L1364.6 831L1364.6 828L1364.6 825L1364.7 822L1364.7 819L1364.7 816L1364.8 813L1364.8 810L1364.8 807L1364.8 804L1364.8 801L1364.9 798L1364.9 795L1364.9 792L1364.9 789L1364.9 786L1364.9 783L1365 780L1365 777L1365 774L1365 771L1365 768L1365 765L1365 762L1365 759L1365 756L1365 753L1365 750L1365 747L1365 744L1365.1 741L1365.1 738L1365.1 735L1365.1 732L1365.1 729L1365.1 726L1365.1 723L1365.1 720L1365.1 717L1365.1 714L1365.1 711L1365.1 708L1365.1 705L1365.1 702L1365.1 699L1365.1 696L1365.1 693L1365.1 690L1365.1 687L1365.1 684L1365.1 681L1365.1 678L1365.1 675L1365.1 672L1365.1 669L1365.1 666L1365.1 663L1365.1 660L1365.1 657L1365.2 654L1365.2 651L1365.2 648L1365.2 645L1365.2 642L1365.2 639L1365.2 636L1365.2 633L1365.2 630L1365.2 627L1365.2 624L1365.2 621L1365.2 618L1365.2 615L1365.2 612L1365.2 609L1365.2 606L1365.2 603L1365.2 600L1365.2 597L1365.2 594L1365.2 591L1365.2 588L1365.2 585L1365.2 582L1365.2 579L1365.2 576L1365.2 573L1365.2 570L1365.2 567L1365.2 564L1365.2 561L1365.2 558L1365.2 555L1365.2 552L1365.2 549L1365.2 546L1365.2 543L1365.2 540L1365.2 537L1365.2 534L1365.2 531L1365.2 528L1365.2 525L1365.2 522L1365.2 519L1365.2 516L1365.2 513L1365.2 510L1365.2 507L1365.2 504L1365.2 501L1365.2 498L1365.2 495L1365.2 492L1365.2 489L1365.2 486L1365.2 483L1365.2 480L1365.2 477L1365.2 474L1365.2 471L1365.2 468L1365.2 465L1365.2 462L1365.2 459L1365.2 456L1365.2 453L1365.2 450L1365.2 447L1365.2 444L1365.2 441L1365.2 438L1365.2 435L1365.2 432L1365.2 429L1365.2 426L1365.2 423L1365.2 420L1365.2 417L1365.2 414L1365.2 411L1365.2 408L1365.2 405L1365.2 402L1365.2 399L1365.2 396L1365.2 393L1365.2 390L1365.2 387L1365.2 384.2M1403.2 975.5L1402.8 760L1403 680M1403.2 975.5L1403.2 972.5L1403.2 969.5L1403.2 966.5L1403.2 963.5L1403.2 960.5L1403.2 957.5L1403.2 954.5L1403.2 951.5L1403.2 948.5L1403.2 945.5L1403.2 942.5L1403.2 939.5L1403.2 936.5L1403.2 933.5L1403.2 930.5L1403.2 927.5L1403.2 924.5L1403.2 921.5L1403.2 918.5L1403.2 915.5L1403.2 912.5L1403.2 909.5L1403.2 906.5L1403.2 903.5L1403.2 900.5L1403.2 897.5L1403.2 894.5L1403.2 891.5L1403.2 888.5L1403.3 885.5L1403.5 882.5L1403.6 879.5L1403.7 876.5L1403.9 873.5L1404 870.5L1404.1 867.5L1404.2 864.5L1404.3 861.5L1404.4 858.5L1404.5 855.5L1404.6 852.5L1404.7 849.5L1404.7 846.5L1404.8 843.5L1404.9 840.5L1405 837.5L1405.1 834.5L1405.1 831.5L1405.2 828.5L1405.3 825.5L1405.3 822.5L1405.4 819.5L1405.4 816.5L1405.4 813.5L1405.5 810.5L1405.5 807.5L1405.5 804.5L1405.6 801.5L1405.6 798.5L1405.7 795.5L1405.7 792.5L1405.7 789.5L1405.7 786.5L1405.8 783.5L1405.8 780.5L1405.8 777.5L1405.8 774.5L1405.9 771.5L1405.9 768.5L1405.9 765.5L1405.9 762.5L1405.9 759.5L1405.9 756.5L1406 753.5L1406 750.5L1406 747.5L1406 744.5L1406 741.5L1406 738.5L1406 735.5L1406 732.5L1406 729.5L1406 726.5L1406 723.5L1406 720.5L1406.1 717.5L1406.1 714.5L1406.1 711.5L1406.1 708.5L1406.1 705.5L1406.1 702.5L1406.1 699.5L1406.1 696.5L1406.1 693.5L1406.1 690.5L1406.1 687.5L1406.1 684.5L1406.1 681.5L1406.1 678.5L1406.1 675.5L1406.1 672.5L1406.1 669.5L1406.1 666.5L1406.1 663.5L1406.1 660.5L1406.1 657.5L1406.1 654.5L1406.1 651.5L1406.2 648.5L1406.2 645.5L1406.2 642.5L1406.2 639.5L1406.2 636.5L1406.2 633.5L1406.2 630.5L1406.2 627.5L1406.2 624.5L1406.2 621.5L1406.2 618.5L1406.2 615.5L1406.2 612.5L1406.2 609.5L1406.2 606.5L1406.2 603.5L1406.2 600.5L1406.2 597.5L1406.2 594.5L1406.2 591.5L1406.2 588.5L1406.2 585.5L1406.2 582.5L1406.2 579.5L1406.2 576.5L1406.2 573.5L1406.2 570.5L1406.2 567.5L1406.2 564.5L1406.2 561.5L1406.2 558.5L1406.2 555.5L1406.2 552.5L1406.2 549.5L1406.2 546.5L1406.2 543.5L1406.2 540.5L1406.2 537.5L1406.2 534.5L1406.2 531.5L1406.2 528.5L1406.2 525.5L1406.2 522.5L1406.2 519.5L1406.2 516.5L1406.2 513.5L1406.2 510.5L1406.2 507.5L1406.2 504.5L1406.2 501.5L1406.2 498.5L1406.2 495.5L1406.2 492.5L1406.2 489.5L1406.2 486.5L1406.2 483.5L1406.2 480.5L1406.2 477.5L1406.2 475.2M1444.5 968.3L1444.6 842L1445 700L1445.2 203.2M1443.8 422.5L1443.9 760M1447.3 373.2L1446.8 760M1485.5 960.8L1484.7 800L1485 660M1485.5 960.8L1484.9 775L1485.3 752L1487.2 741L1488 560L1488.2 502.2M1526.5 950.2L1526.2 380.2M1567.5 937.8L1567.2 186.2M1608.5 921.5L1607.5 610M1648.2 897.3L1648.2 253.2M1689.5 856.5L1689.3 466.4M1729.5 769.5L1729.5 429.5"/>
<path stroke-width="3.0" stroke-linecap="round" d="M1320.6 671L1320.8 739"/>
<path stroke-width="3.2" stroke-linecap="round" d="M1608.3 787L1608.4 884M1648.4 439L1648.3 898M1729.5 429.5L1729.5 500M1729.5 704L1729.5 770"/>
<path stroke-width="3.4" stroke-linecap="round" d="M358.1 1000L358 995.7L357.9 990.6L357.8 984.8L357.7 978L357.6 970L357.5 960L357.5 948L357.5 935L357.4 922L357.4 910L357.3 900L357.2 892L357 885.2L356.9 879.4L356.7 874.3L356.5 869.6L356.4 865L356.3 860.7L356.2 856.9L356.1 853.5L356.1 850.3L356 847.2L355.9 844L355.8 840.8L355.7 837.6L355.6 834.6L355.5 831.5L355.4 828.3L355.3 825L355.2 821.4L355.1 817.4L354.9 813.4L354.9 812M1279.9 655L1280.1 800L1280.2 942M1446.3 376L1446.1 600L1445.7 842M1444 424L1444.3 842"/>
<path stroke-width="3.6" stroke-linecap="round" d="M395.3 1005L395.2 1000.4L395.1 995.7L395 990.6L394.9 984.8L394.9 978L394.8 970L394.8 960.2L394.7 948.8L394.7 936.4L394.7 923.7L394.6 911.4L394.6 900L394.5 889.4L394.4 878.9L394.4 868.8L394.3 859.1L394.2 850.1L394.1 845M1322.6 739L1322.5 934M1486.2 660L1486.3 742"/>
<path stroke-width="4.6" stroke-linecap="round" d="M322.3 1025.4L322.7 1022.2L323.3 1017.7L324 1012.4L324.8 1006.8L325.5 1001.3L326.2 996.5L326.8 992.2L327.5 988.1L328.1 984.2L328.8 980.4L329.4 976.7L330 973L330.6 969.7L331.1 966.9L331.6 964.2L332.1 961.2L332.7 957.6L333.4 953L334.2 947.2L335.1 940.4L336.1 933L337.1 925.2L338.1 917.5L339 910L339.8 902.7L340.6 895.4L341.4 888L342.1 880.7L342.8 873.6L343.5 866.6L344.2 859.7L344.9 852.8L345.6 846L346.2 839.5L346.8 833.4L347.4 828L347.9 823.2L348.4 819L348.8 815.3L349.3 811.9L349.6 808.8L350 806L350.3 803.5L350.6 801.3L350.9 799.5L351.1 797.8L351.3 796.4L351.5 795L351.7 793.7L351.9 792.6L352 791.6L352.2 790.8L352.3 790.1L352.4 789.6M354.9 812L354.8 809.5L354.6 805.9L354.5 803L354.4 800.7L354.2 798.9L354.1 797.4L353.9 796.2L353.8 795.1L353.6 794L353.4 792.9L353.2 792L352.9 791.2L352.7 790.6L352.5 790L352.4 789.6M391.3 650L391.2 646.6L391 640.5L390.8 634.9L390.7 630.1L390.5 626L390.3 622.9L390.1 620.6L389.9 619L389.8 617.8L389.6 617L389.5 616.2"/>
<path stroke-width="4.7" stroke-linecap="round" d="M359 1025.4L359.5 1022.7L360.3 1019L361.2 1014.6L362.1 1009.7L363 1004.8L363.9 1000L364.7 995.3L365.5 990.5L366.2 985.6L367 980.5L367.7 975.3L368.5 970L369.3 964.5L370 958.7L370.8 952.8L371.6 946.9L372.3 940.9L373 935L373.7 929.2L374.3 923.3L374.9 917.5L375.5 911.7L376.1 905.8L376.6 900L377.1 894.2L377.6 888.3L378.1 882.5L378.5 876.7L378.9 870.8L379.3 865L379.7 859.2L380 853.3L380.3 847.5L380.6 841.7L380.9 835.8L381.2 830L381.5 824.2L381.8 818.3L382.1 812.5L382.4 806.7L382.7 800.8L383 795L383.2 789.3L383.5 783.9L383.7 778.4L383.9 772.8L384.1 766.7L384.3 760L384.5 752.5L384.8 744.4L385 735.9L385.2 727.2L385.5 718.5L385.8 710L386 701.4L386.3 692.6L386.6 683.8L386.9 675.2L387.2 667.2L387.5 660L387.7 653.7L388 647.9L388.2 642.7L388.4 638.1L388.5 633.8L388.7 630L388.9 626.6L389 623.7L389.2 621.2L389.3 619.2L389.4 617.5L389.5 616.2"/>
<path stroke-width="4.8" stroke-linecap="round" d="M594.6 931.6L594.9 928.6L595.1 925.6L595.3 922.6L595.5 919.6L595.7 916.6L595.9 913.6L596.1 910.6L596.2 907.6L596.3 904.6L596.4 901.6L596.5 898.6L596.6 896.6M632.5 929.8L632.8 926.8L633 923.8L633.2 920.8L633.3 917.8L633.5 914.8L633.7 911.8L633.8 908.8L633.9 905.8L634 902.8L634.1 899.8L634.3 896.8L634.3 894.8M671.5 930.8L671.7 927.8L671.9 924.8L672.1 921.8L672.3 918.8L672.4 915.8L672.6 912.8L672.7 909.8L672.8 906.8L672.9 903.8L673 900.8L673.1 897.8L673.2 895.8M710.5 932.5L710.7 929.5L710.9 926.5L711 923.5L711.2 920.5L711.3 917.5L711.5 914.5L711.6 911.5L711.7 908.5L711.8 905.5L711.9 902.5L712 899.5L712 897.5M750.7 932.2L750.9 929.2L751.1 926.2L751.3 923.2L751.4 920.2L751.5 917.2L751.7 914.2L751.8 911.2L751.9 908.2L752 905.2L752.1 902.2L752.2 899.2L752.2 897.2M788.5 970.5L788.6 969.5L788.8 966.5L789 963.5L789.2 960.5L789.4 957.5L789.6 954.5L789.7 951.5L789.9 948.5L790.1 945.5L790.3 942.5L790.5 939.5L790.6 936.5L790.7 935.5M829.2 969.3L829.3 968.3L829.5 965.3L829.7 962.3L829.8 959.3L830 956.3L830.2 953.3L830.4 950.3L830.5 947.3L830.7 944.3L830.9 941.3L831 938.3L831.2 935.3L831.3 934.3M870.5 968L870.6 967L870.8 964L870.9 961L871.1 958L871.3 955L871.4 952L871.6 949L871.8 946L872 943L872.1 940L872.3 937L872.5 934L872.5 933M1403.6 680L1404 760L1404.4 887"/>
<path stroke-width="4.9" stroke-linecap="round" d="M410.6 920.4L410.9 917.8L411.3 913.5L411.7 909.1L412.1 904.6L412.5 900L412.8 895.3L413.1 890.6L413.4 885.8L413.7 880.9L413.9 876L413.9 875.4M446.9 920.4L447.2 916.2L447.6 911.6L447.9 907.1L448.2 902.5L448.5 897.9L448.8 893.3L449.1 888.7L449.4 884.1L449.6 879.6L449.8 875.4M484 920.4L484.2 916.2L484.5 911.6L484.8 907.1L485 902.5L485.3 897.9L485.5 893.3L485.7 888.7L485.9 884.1L486.1 879.6L486.3 875.4M521 919.7L521.2 916.2L521.5 911.6L521.8 907.1L522 902.5L522.3 897.9L522.5 893.3L522.7 888.7L522.9 884.1L523.1 879.6L523.3 875L523.3 874.7M558 918.8L558.2 916.2L558.4 911.6L558.6 907.1L558.9 902.5L559.1 897.9L559.3 893.3L559.5 888.7L559.7 884.1L559.9 879.6L560 875L560.1 873.8"/>
<path stroke-width="5.0" stroke-linecap="round" d="M1364 797L1363.5 912"/>
<path stroke-width="5.2" stroke-linecap="round" d="M337.2 925L338.1 917.5L339 910L339.8 902.7L340.6 895.4L341.4 888L342.1 880.7L342.8 873.6L343.2 870M374.1 925L374.3 923.3L374.9 917.5L375.5 911.7L376.1 905.8L376.6 900L377.1 894.2L377.6 888.3L378.1 882.5L378.5 876.7L378.9 870.8L379.3 865L379.6 860M591.6 966.6L591.8 964.6L592.1 961.6L592.4 958.6L592.6 955.6L592.9 952.6L593.1 949.6L593.4 946.6L593.6 943.6L593.9 940.6L594.1 937.6L594.4 934.6L594.6 931.6M629.9 964.8L630 962.8L630.3 959.8L630.5 956.8L630.8 953.8L631 950.8L631.2 947.8L631.4 944.8L631.6 941.8L631.9 938.8L632.1 935.8L632.3 932.8L632.5 929.8M668.9 965.8L669.1 963.8L669.3 960.8L669.5 957.8L669.7 954.8L670 951.8L670.2 948.8L670.4 945.8L670.6 942.8L670.8 939.8L671 936.8L671.3 933.8L671.5 930.8M708.1 967.5L708.3 965.5L708.5 962.5L708.7 959.5L708.9 956.5L709.1 953.5L709.3 950.5L709.5 947.5L709.7 944.5L709.9 941.5L710.1 938.5L710.3 935.5L710.5 932.5M748.5 967.2L748.6 965.2L748.8 962.2L749 959.2L749.2 956.2L749.4 953.2L749.6 950.2L749.8 947.2L750 944.2L750.2 941.2L750.3 938.2L750.5 935.2L750.7 932.2M784.4 1016.5L784.6 1014.5L784.8 1011.5L785.2 1008.5L785.5 1005.5L785.8 1002.5L786.1 999.5L786.4 996.5L786.6 993.5L786.9 990.5L787.1 987.5L787.4 984.5L787.6 981.5L787.9 978.5L788.1 975.5L788.4 972.5L788.5 970.5M825.4 1015.3L825.5 1013.3L825.8 1010.3L826.1 1007.3L826.4 1004.3L826.7 1001.3L827 998.3L827.2 995.3L827.5 992.3L827.7 989.3L827.9 986.3L828.2 983.3L828.4 980.3L828.6 977.3L828.9 974.3L829.1 971.3L829.2 969.3M866.6 1014L866.8 1012L867.1 1009L867.4 1006L867.7 1003L868 1000L868.3 997L868.5 994L868.7 991L869 988L869.2 985L869.5 982L869.7 979L869.9 976L870.1 973L870.3 970L870.5 968"/>
<path stroke-width="5.3" stroke-linecap="round" d="M406.2 960.4L406.6 956.9L407.1 952.5L407.6 948.1L408.1 943.8L408.5 939.4L409 935L409.5 930.7L409.9 926.4L410.4 922.1L410.6 920.4M443.1 960.4L443.4 957.4L443.9 952.9L444.4 948.3L444.8 943.7L445.3 939.2L445.7 934.6L446.1 930L446.5 925.4L446.9 920.8L446.9 920.4M480.6 960.4L480.9 957.4L481.4 952.9L481.8 948.3L482.2 943.7L482.6 939.2L482.9 934.6L483.3 930L483.6 925.4L483.9 920.8L484 920.4M517.7 959.7L517.9 957.4L518.4 952.9L518.8 948.3L519.2 943.7L519.6 939.2L519.9 934.6L520.3 930L520.6 925.4L520.9 920.8L521 919.7M555 958.8L555.1 957.4L555.5 952.9L555.9 948.3L556.3 943.7L556.6 939.2L557 934.6L557.3 930L557.6 925.4L557.9 920.8L558 918.8"/>
<path stroke-width="5.4" stroke-linecap="round" d="M907.7 1014L907.7 1013L908 1010L908.3 1007L908.5 1004L908.8 1001L909.1 998L909.4 995L909.6 992L909.8 989L910 986L910.3 983L910.5 980L910.7 977L910.9 974M948.3 1011.9L948.3 1010.9L948.4 1007.9L948.7 1004.9L948.9 1001.9L949.2 998.9L949.5 995.9L949.8 992.9L950.1 989.9L950.3 986.9L950.6 983.9L950.8 980.9L951.1 977.9L951.3 974.9L951.5 971.9M990.4 1009.7L990.4 1008.7L990.4 1005.7L990.5 1002.7L990.7 999.7L990.9 996.7L991.2 993.7L991.4 990.7L991.7 987.7L991.9 984.7L992.1 981.7L992.4 978.7L992.6 975.7L992.8 972.7L993 969.7M1031.6 1007.9L1031.6 1006.9L1031.6 1003.9L1031.6 1000.9L1031.8 997.9L1032 994.9L1032.2 991.9L1032.5 988.9L1032.8 985.9L1033.1 982.9L1033.3 979.9L1033.5 976.9L1033.7 973.9L1033.9 970.9L1034.1 967.9M1073 1004.6L1073 1003.6L1073 1000.6L1073 997.6L1073.2 994.6L1073.4 991.6L1073.6 988.6L1073.9 985.6L1074.2 982.6L1074.4 979.6L1074.7 976.6L1074.9 973.6L1075.1 970.6L1075.3 967.6L1075.5 964.6M1114 1001.3L1114 1000.3L1114 997.3L1114 994.3L1114 991.3L1114 988.3L1114.2 985.3L1114.4 982.3L1114.7 979.3L1114.9 976.3L1115.2 973.3L1115.4 970.3L1115.6 967.3L1115.8 964.3L1116 961.3M1155.5 998.6L1155.5 997.6L1155.5 994.6L1155.5 991.6L1155.5 988.6L1155.5 985.6L1155.5 982.6L1155.6 979.6L1155.8 976.6L1156 973.6L1156.2 970.6L1156.5 967.6L1156.7 964.6L1156.9 961.6L1157 958.6M1197.3 996.5L1197.3 995.5L1197.3 992.5L1197.3 989.5L1197.3 986.5L1197.3 983.5L1197.3 980.5L1197.3 977.5L1197.3 974.5L1197.3 971.5L1197.3 968.5L1197.5 965.5L1197.7 962.5L1197.9 959.5L1198.1 956.5M1238.4 992.5L1238.4 991.5L1238.4 988.5L1238.4 985.5L1238.4 982.5L1238.4 979.5L1238.4 976.5L1238.4 973.5L1238.4 970.5L1238.4 967.5L1238.4 964.5L1238.4 961.5L1238.4 958.5L1238.5 955.5L1238.7 952.5"/>
<path stroke-width="5.6" stroke-linecap="round" d="M585.3 1017.6L585.6 1015.6L586 1012.6L586.4 1009.6L586.8 1006.6L587.3 1003.6L587.7 1000.6L588.1 997.6L588.5 994.6L588.8 991.6L589.2 988.6L589.5 985.6L589.9 982.6L590.2 979.6L590.6 976.6L590.9 973.6L591.2 970.6L591.5 967.6L591.6 966.6M624.2 1015.8L624.4 1013.8L624.8 1010.8L625.2 1007.8L625.6 1004.8L626 1001.8L626.4 998.8L626.7 995.8L627 992.8L627.4 989.8L627.7 986.8L628 983.8L628.3 980.8L628.6 977.8L628.9 974.8L629.2 971.8L629.5 968.8L629.8 965.8L629.9 964.8M663.4 1016.8L663.7 1014.8L664 1011.8L664.4 1008.8L664.8 1005.8L665.2 1002.8L665.5 999.8L665.9 996.8L666.2 993.8L666.5 990.8L666.8 987.8L667.1 984.8L667.4 981.8L667.7 978.8L668 975.8L668.3 972.8L668.5 969.8L668.8 966.8L668.9 965.8M703.2 1018.5L703.4 1016.5L703.7 1013.5L704.1 1010.5L704.4 1007.5L704.8 1004.5L705.1 1001.5L705.4 998.5L705.7 995.5L705.9 992.5L706.2 989.5L706.5 986.5L706.8 983.5L707 980.5L707.3 977.5L707.6 974.5L707.8 971.5L708.1 968.5L708.1 967.5M743.7 1018.2L743.9 1016.2L744.2 1013.2L744.5 1010.2L744.8 1007.2L745.2 1004.2L745.5 1001.2L745.8 998.2L746.1 995.2L746.3 992.2L746.6 989.2L746.9 986.2L747.1 983.2L747.4 980.2L747.7 977.2L747.9 974.2L748.2 971.2L748.4 968.2L748.5 967.2"/>
<path stroke-width="5.7" stroke-linecap="round" d="M397.2 1021.4L397.5 1019.9L398.1 1017.4L398.6 1014.6L399.2 1011.6L399.8 1008.4L400.4 1005L401 1001.3L401.6 997.3L402.2 992.9L402.8 988.4L403.4 983.8L404 979.1L404.5 974.5L405.1 970L405.6 965.6L406.1 961.2L406.2 960.4M434.1 1021.4L434.6 1019.4L435.2 1016.6L435.9 1013.6L436.5 1010.4L437.2 1006.9L437.8 1003.3L438.4 999.4L439 995.1L439.6 990.6L440.2 985.9L440.7 981L441.3 976.1L441.9 971.3L442.4 966.6L442.9 962L443.1 960.4M471.7 1021.4L472.2 1019.4L472.8 1016.6L473.5 1013.6L474.1 1010.4L474.8 1006.9L475.4 1003.3L476 999.4L476.6 995.1L477.2 990.6L477.8 985.9L478.4 981L478.9 976.1L479.5 971.3L480 966.6L480.5 962L480.6 960.4M509.3 1020.7L509.7 1018.9L510.2 1016.3L510.8 1013.4L511.4 1010.2L512 1006.9L512.6 1003.3L513.1 999.4L513.7 995.2L514.3 990.7L514.9 985.9L515.4 981L516 976.1L516.5 971.3L517 966.6L517.5 962L517.7 959.7M547 1019.8L547.2 1018.3L547.7 1015.8L548.1 1013.1L548.6 1010L549.1 1006.8L549.6 1003.3L550.1 999.5L550.7 995.3L551.3 990.7L551.9 986L552.5 981.1L553.1 976.1L553.7 971.3L554.2 966.6L554.7 962L555 958.8"/>
<path stroke-width="5.8" stroke-linecap="round" d="M322.3 1025.4L322.7 1022.2L323.3 1017.7L324 1012.4L324.8 1006.8L325.5 1001.3L326.2 996.5L326.8 992.2L327.5 988.1L328.1 984.2L328.8 980.4L329.4 976.7L330 973L330.6 969.7L331.1 966.9L331.6 964.2L332.1 961.2L332.7 957.6L333.4 953L334.2 947.2L335.1 940.4L336.1 933L337.1 925.2L337.2 925M359 1025.4L359.5 1022.7L360.3 1019L361.2 1014.6L362.1 1009.7L363 1004.8L363.9 1000L364.7 995.3L365.5 990.5L366.2 985.6L367 980.5L367.7 975.3L368.5 970L369.3 964.5L370 958.7L370.8 952.8L371.6 946.9L372.3 940.9L373 935L373.7 929.2L374.1 925"/>
<path stroke-width="4.4" stroke-linecap="round" d="M322.2 1011.4h.01M322.1 1006.8h.01M322 1002.2h.01M321.9 997.6h.01M321.8 993h.01M321.6 988.4h.01M321.5 983.8h.01M321.3 979.2h.01M321.2 974.6h.01M321 970h.01M320.7 965.4h.01M320.6 962.3h.01M359 1025.4h.01M358.8 1022h.01M358.7 1018.6h.01M358.5 1015.2h.01M358.4 1011.8h.01M358.3 1008.4h.01M358.2 1005h.01M358.1 1001.6h.01M358 998.2h.01M358 994.8h.01M357.9 991.4h.01M357.8 988h.01M357.8 984.6h.01M357.7 981.2h.01M357.7 977.8h.01M357.6 974.4h.01M357.6 971h.01M357.6 967.6h.01M357.6 964.2h.01M357.5 960.8h.01M357.5 957.4h.01M357.5 954h.01M357.5 950.6h.01M357.5 947.2h.01M357.5 943.8h.01M357.5 940.4h.01M357.5 937h.01M357.5 933.6h.01M357.5 930.2h.01M357.4 926.8h.01M357.4 923.4h.01M357.4 920h.01M357.4 916.6h.01M357.4 913.2h.01M357.4 909.8h.01M357.4 906.4h.01M357.3 903h.01M357.3 899.6h.01M357.2 896.2h.01M357.2 892.8h.01M357.1 889.4h.01M357 886h.01M357 882.6h.01M356.9 879.2h.01M356.7 875.8h.01M356.6 872.4h.01M356.5 869h.01M356.4 865.6h.01M356.3 862.2h.01M356.3 858.8h.01M356.2 855.4h.01M356.1 852h.01M356 848.6h.01M356 846h.01M355.9 843.4h.01M355.8 840.8h.01M355.7 838.2h.01M355.7 835.6h.01M355.6 833h.01M355.5 830.4h.01M355.4 827.8h.01M355.3 825.3h.01M355.2 822.7h.01M355.1 820.1h.01M355.1 817.5h.01M355 814.9h.01M354.9 812.3h.01M354.8 809.7h.01M354.7 807.1h.01M354.6 804.5h.01M354.4 801.9h.01M354.2 799.3h.01M354 796.7h.01M353.6 794.1h.01M353 791.6h.01M396.3 1025.4h.01M396.1 1022.1h.01M395.9 1018.8h.01M395.7 1015.5h.01M395.6 1012.2h.01M395.4 1008.9h.01M395.3 1005.6h.01M395.2 1002.3h.01M395.2 999h.01M395.1 995.7h.01M395 992.4h.01M395 989.1h.01M394.9 985.8h.01M394.9 982.5h.01M394.9 979.2h.01M394.8 975.9h.01M394.8 972.6h.01M394.8 969.3h.01M394.8 966h.01M394.8 962.7h.01M394.8 959.4h.01M394.7 956.1h.01M394.7 952.8h.01M394.7 949.5h.01M394.7 946.2h.01M394.7 942.9h.01M394.7 939.6h.01M394.7 936.3h.01M394.7 933h.01M394.7 929.7h.01M394.7 926.4h.01M394.7 923.1h.01M394.7 919.8h.01M394.7 916.5h.01M394.7 913.2h.01M394.6 909.9h.01M394.6 906.6h.01M394.6 903.3h.01M394.6 900h.01M394.6 896.7h.01M394.6 893.4h.01M394.5 890.1h.01M394.5 886.8h.01M394.5 883.5h.01M394.5 880.2h.01M394.4 876.9h.01M394.4 873.6h.01M394.4 870.3h.01M394.3 867h.01M394.3 863.7h.01M394.3 860.4h.01M394.2 857.1h.01M394.2 853.8h.01M394.2 850.5h.01M394.1 847.2h.01M394.1 843.9h.01M394.1 840.6h.01M394.1 837.3h.01M394 834h.01M394 830.7h.01M394 827.4h.01M393.9 824.1h.01M393.9 820.8h.01M393.9 817.5h.01M393.8 808.2h.01M393.8 805.2h.01M393.8 802.2h.01M393.7 799.2h.01M393.7 796.2h.01M393.7 793.2h.01M393.7 790.2h.01M393.7 787.2h.01M393.6 784.2h.01M393.6 781.2h.01M393.6 778.2h.01M393.6 775.2h.01M393.5 772.2h.01M393.5 769.2h.01M393.5 766.2h.01M393.4 763.2h.01M393.4 760.2h.01M393.4 757.2h.01M393.3 754.2h.01M393.3 751.2h.01M393.2 748.2h.01M393.2 745.2h.01M393.1 742.2h.01M393.1 739.2h.01M393 736.2h.01M393 733.2h.01M392.9 730.2h.01M392.8 727.2h.01M392.8 724.2h.01M392.7 721.2h.01M392.7 718.2h.01M392.6 715.2h.01M392.5 712.2h.01M392.5 709.2h.01M392.4 706.2h.01M392.4 703.2h.01M392.3 700.2h.01M392.3 697.2h.01M392.2 694.2h.01M392.1 691.2h.01M392.1 688.2h.01M392 685.2h.01M392 682.2h.01M391.9 679.2h.01M391.9 676.2h.01M391.8 673.3h.01M391.7 670.3h.01M391.7 667.3h.01M391.6 664.3h.01M391.5 661.3h.01M391.5 658.3h.01M391.4 655.3h.01M391.3 652.3h.01M391.2 649.3h.01M391.2 646.3h.01M391.1 643.3h.01M391 640.3h.01M390.9 637.3h.01M390.8 634.3h.01M390.7 631.3h.01M390.6 628.3h.01M390.5 625.3h.01M390.3 622.3h.01M390 619.3h.01M389.5 616.3h.01M396.3 1025.4h.01M396.6 1024.1h.01M396.8 1022.9h.01M397.1 1021.6h.01M397.4 1020.3h.01M397.7 1019.1h.01M398 1017.8h.01M398.2 1016.5h.01M398.5 1015.2h.01M398.8 1014h.01M399 1012.7h.01M399.3 1011.4h.01M399.5 1010.1h.01M399.7 1008.9h.01M400 1007.6h.01M400.2 1006.3h.01M400.4 1005h.01M400.6 1003.7h.01M400.8 1002.4h.01M401 1001.2h.01M401.2 999.9h.01M401.4 998.6h.01M401.5 997.3h.01M401.7 996h.01M401.9 994.7h.01M402.1 993.4h.01M402.3 992.1h.01M402.4 990.9h.01M402.6 989.6h.01M402.8 988.3h.01M402.9 987h.01M403.1 985.7h.01M403.3 984.4h.01M403.5 983.1h.01M403.6 981.8h.01M403.8 980.5h.01M403.9 979.3h.01M404.1 978h.01M404.3 976.7h.01M404.4 975.4h.01M404.6 974.1h.01M404.8 972.8h.01M404.9 971.5h.01M405.1 970.2h.01M405.2 968.9h.01M405.4 967.6h.01M405.5 966.4h.01M405.7 965.1h.01M405.8 963.8h.01M406 962.5h.01M406.1 961.2h.01M406.3 959.9h.01M406.4 958.6h.01M406.6 957.3h.01M406.7 956h.01M406.9 954.7h.01M407 953.4h.01M407.2 952.1h.01M407.3 950.9h.01M407.4 949.6h.01M407.6 948.3h.01M407.7 947h.01M407.9 945.7h.01M408 944.4h.01M408.1 943.1h.01M408.3 941.8h.01M408.4 940.5h.01M408.6 939.2h.01M408.7 937.9h.01M408.8 936.6h.01M409 935.3h.01M409.1 934h.01M409.2 932.8h.01M409.4 931.5h.01M409.5 930.2h.01M409.7 928.9h.01M409.8 927.6h.01M409.9 926.3h.01M410.1 925h.01M410.2 923.7h.01M410.4 922.4h.01M410.5 921.1h.01M410.6 919.8h.01M410.8 918.5h.01M410.9 917.2h.01M411.1 916h.01M411.2 914.7h.01M411.3 913.4h.01M411.4 912.1h.01M411.6 910.8h.01M411.7 909.5h.01M411.8 908.2h.01M411.9 906.9h.01M412 905.6h.01M412.2 904.3h.01M412.3 903h.01M412.4 901.7h.01M412.5 900.4h.01M412.6 899.1h.01M412.7 897.8h.01M412.7 896.5h.01M412.8 895.2h.01M412.9 893.9h.01M413 892.6h.01M413.1 891.3h.01M413.2 890h.01M413.2 888.7h.01M413.3 887.4h.01M413.4 886.1h.01M413.5 884.9h.01M413.5 883.6h.01M413.6 882.3h.01M413.7 881h.01M413.7 879.7h.01M413.8 878.4h.01M413.8 877.1h.01M413.9 875.8h.01M414 874.5h.01M414 873.2h.01M414.1 871.9h.01M414.1 870.6h.01M414.2 869.3h.01M414.3 868h.01M414.3 866.7h.01M414.4 865.4h.01M414.4 864.1h.01M414.5 862.8h.01M414.5 861.5h.01M414.6 860.2h.01M414.6 858.9h.01M414.7 857.6h.01M414.8 856.3h.01M414.8 855h.01M414.9 853.7h.01M414.9 852.4h.01M415 851.1h.01M415 849.8h.01M415.1 848.5h.01M415.1 847.2h.01M415.1 845.9h.01M415.2 844.6h.01M415.2 843.3h.01M415.3 842h.01M415.3 840.7h.01M415.4 839.4h.01M415.4 838.1h.01M415.5 836.8h.01M415.5 835.5h.01M415.6 834.2h.01M415.6 832.9h.01M415.6 831.6h.01M415.7 830.3h.01M415.7 829h.01M415.8 827.7h.01M415.8 826.4h.01M415.9 825.1h.01M415.9 823.8h.01M416 822.5h.01M416 821.2h.01M416 819.9h.01M416.1 818.6h.01M416.1 817.3h.01M416.2 816h.01M416.2 814.7h.01M416.3 813.4h.01M416.3 812.1h.01M416.4 810.8h.01M416.4 809.5h.01M416.5 808.2h.01M416.5 806.9h.01M416.6 805.6h.01M416.6 804.3h.01M416.7 803h.01M416.7 801.7h.01M416.8 800.4h.01M416.9 799.1h.01M416.9 797.8h.01M417 796.5h.01M417 795.2h.01M417.1 793.9h.01M417.1 792.6h.01M417.2 791.3h.01M417.3 790h.01M417.3 788.7h.01M417.4 787.4h.01M417.4 786.1h.01M417.5 784.8h.01M417.5 783.5h.01M417.6 782.2h.01M417.7 780.9h.01M417.7 779.6h.01M417.8 778.3h.01M417.8 777h.01M417.9 775.7h.01M417.9 774.4h.01M418 773.1h.01M418 771.8h.01M418.1 770.5h.01M418.1 769.2h.01M418.2 767.9h.01M418.2 766.6h.01M418.2 765.3h.01M418.3 763.9h.01M418.3 762.6h.01M418.4 761.2h.01M418.4 759.8h.01M418.4 758.4h.01M418.5 756.9h.01M418.5 755.5h.01M418.6 754h.01M418.6 752.6h.01M418.6 751.1h.01M418.7 749.6h.01M418.7 748.1h.01M418.7 746.5h.01M418.8 745h.01M418.8 743.4h.01M418.8 741.8h.01M418.9 740.2h.01M418.9 738.6h.01M418.9 736.9h.01M419 735.3h.01M419 733.6h.01M419 731.9h.01M419 730.1h.01M419.1 728.4h.01M419.1 726.6h.01M419.1 724.9h.01M419.2 723h.01M419.2 721.2h.01M419.2 719.4h.01M419.3 717.5h.01M419.3 715.6h.01M419.3 713.7h.01M419.4 711.7h.01M419.4 709.8h.01M419.4 707.8h.01M419.5 705.8h.01M419.5 703.7h.01M419.5 701.6h.01M419.6 699.6h.01M419.6 697.4h.01M419.6 695.3h.01M419.7 693.1h.01M419.7 690.9h.01M419.7 688.7h.01M419.8 686.4h.01M419.8 684.1h.01M419.8 681.8h.01M419.9 679.4h.01M419.9 677h.01M419.9 674.6h.01M420 672.1h.01M420 669.6h.01M420 667.1h.01M420.1 664.5h.01M420.1 661.9h.01M420.1 659.3h.01M420.2 656.6h.01M420.2 653.9h.01M420.2 651.1h.01M420.3 648.3h.01M420.3 645.5h.01M420.3 642.6h.01M420.4 639.6h.01M420.4 636.7h.01M420.5 633.6h.01M420.5 630.6h.01M420.5 627.5h.01M420.6 624.3h.01M420.6 621.1h.01M420.7 617.8h.01M420.7 614.5h.01M420.7 611.1h.01M420.8 607.7h.01M420.8 604.2h.01M420.9 600.6h.01M420.9 597h.01M421 593.4h.01M421 589.6h.01M421 585.8h.01M421.1 582h.01M421.1 578h.01M421.2 574h.01M421.2 570h.01M421.3 565.8h.01M421.3 561.6h.01M421.4 557.3h.01M421.4 552.9h.01M421.5 548.4h.01M421.5 543.9h.01M421.6 539.2h.01M421.6 534.5h.01M421.7 529.7h.01M421.7 524.8h.01M421.8 519.8h.01M421.9 514.7h.01M421.9 509.4h.01M422 504.1h.01M422 498.7h.01M422.1 493.1h.01M422.1 487.5h.01M422.2 481.7h.01M422.2 475.8h.01M422.3 469.7h.01M422.4 463.6h.01M422.4 457.2h.01M422.4 450.8h.01M422.4 444.2h.01M422.4 437.4h.01M422.4 430.5h.01M422.4 423.4h.01M422.4 416.2h.01M422.4 408.8h.01M422.4 401.2h.01M422.4 396h.01M422.4 386h.01M422.4 377.8h.01M422.4 369.4h.01M422.5 360.8h.01M422.5 352h.01M422.5 342.9h.01M422.5 333.6h.01M422.5 324h.01M422.5 314.2h.01M422.5 304.1h.01M422.5 293.7h.01M422.5 283h.01M422.5 272h.01M433.2 1025.4h.01M433.5 1024.1h.01M433.8 1022.9h.01M434.1 1021.6h.01M434.4 1020.3h.01M434.7 1019.1h.01M434.9 1017.8h.01M435.2 1016.5h.01M435.5 1015.3h.01M435.8 1014h.01M436.1 1012.7h.01M436.3 1011.4h.01M436.6 1010.2h.01M436.8 1008.9h.01M437.1 1007.6h.01M437.3 1006.3h.01M437.5 1005.1h.01M437.7 1003.8h.01M437.9 1002.5h.01M438.1 1001.2h.01M438.3 999.9h.01M438.5 998.6h.01M438.7 997.3h.01M438.8 996.1h.01M439 994.8h.01M439.2 993.5h.01M439.4 992.2h.01M439.5 990.9h.01M439.7 989.6h.01M439.8 988.3h.01M440 987h.01M440.2 985.7h.01M440.3 984.4h.01M440.5 983.2h.01M440.6 981.9h.01M440.8 980.6h.01M440.9 979.3h.01M441.1 978h.01M441.2 976.7h.01M441.4 975.4h.01M441.5 974.1h.01M441.7 972.8h.01M441.8 971.5h.01M442 970.2h.01M442.1 969h.01M442.3 967.7h.01M442.4 966.4h.01M442.6 965.1h.01M442.7 963.8h.01M442.9 962.5h.01M443 961.2h.01M443.1 959.9h.01M443.3 958.6h.01M443.4 957.3h.01M443.6 956h.01M443.7 954.7h.01M443.8 953.4h.01M444 952.2h.01M444.1 950.9h.01M444.2 949.6h.01M444.4 948.3h.01M444.5 947h.01M444.6 945.7h.01M444.8 944.4h.01M444.9 943.1h.01M445 941.8h.01M445.1 940.5h.01M445.3 939.2h.01M445.4 937.9h.01M445.5 936.6h.01M445.6 935.3h.01M445.7 934h.01M445.9 932.7h.01M446 931.5h.01M446.1 930.2h.01M446.2 928.9h.01M446.3 927.6h.01M446.4 926.3h.01M446.5 925h.01M446.6 923.7h.01M446.7 922.4h.01M446.8 921.1h.01M446.9 919.8h.01M447 918.5h.01M447.1 917.2h.01M447.2 915.9h.01M447.3 914.6h.01M447.4 913.3h.01M447.5 912h.01M447.6 910.7h.01M447.7 909.4h.01M447.8 908.1h.01M447.9 906.8h.01M448 905.5h.01M448.1 904.2h.01M448.2 902.9h.01M448.3 901.6h.01M448.3 900.3h.01M448.4 899h.01M448.5 897.7h.01M448.6 896.4h.01M448.7 895.2h.01M448.8 893.9h.01M448.8 892.6h.01M448.9 891.3h.01M449 890h.01M449.1 888.7h.01M449.2 887.4h.01M449.2 886.1h.01M449.3 884.8h.01M449.4 883.5h.01M449.5 882.2h.01M449.5 880.9h.01M449.6 879.6h.01M449.7 878.3h.01M449.8 877h.01M449.8 875.7h.01M449.9 874.4h.01M450 873.1h.01M450 871.8h.01M450.1 870.5h.01M450.2 869.2h.01M450.2 867.9h.01M450.3 866.6h.01M450.3 865.3h.01M450.4 864h.01M450.5 862.7h.01M450.5 861.4h.01M450.6 860.1h.01M450.6 858.8h.01M450.7 857.5h.01M450.7 856.2h.01M450.8 854.9h.01M450.8 853.6h.01M450.9 852.3h.01M450.9 851h.01M450.9 849.7h.01M451 848.4h.01M451 847.1h.01M451 845.8h.01M451.1 844.4h.01M451.1 843h.01M451.1 841.7h.01M451.2 840.2h.01M451.2 838.8h.01M451.2 837.3h.01M451.2 835.9h.01M451.3 834.4h.01M451.3 832.8h.01M451.3 831.3h.01M451.4 829.7h.01M451.4 828.1h.01M451.4 826.5h.01M451.5 824.8h.01M451.5 823.1h.01M451.6 821.4h.01M451.6 819.7h.01M451.7 817.9h.01M451.7 816.1h.01M451.8 814.3h.01M451.8 812.4h.01M451.9 810.5h.01M451.9 808.6h.01M452 806.6h.01M452.1 804.6h.01M452.1 802.5h.01M452.2 800.5h.01M452.3 798.3h.01M452.4 796.2h.01M452.4 794h.01M452.5 791.7h.01M452.6 789.5h.01M452.6 787.1h.01M452.7 784.8h.01M452.8 782.3h.01M452.8 779.9h.01M452.9 777.3h.01M453 774.8h.01M453 772.1h.01M453.1 769.4h.01M453.2 766.7h.01M453.2 763.9h.01M453.3 761h.01M453.3 758.1h.01M453.4 755.1h.01M453.4 752.1h.01M453.5 748.9h.01M453.5 745.7h.01M453.6 742.4h.01M453.6 739.1h.01M453.7 735.7h.01M453.7 732.1h.01M453.8 728.5h.01M453.8 724.8h.01M453.9 721.1h.01M453.9 717.2h.01M454 713.2h.01M454 709.1h.01M454.1 704.9h.01M454.1 700.6h.01M454.2 696.2h.01M454.2 691.7h.01M454.3 687h.01M454.3 682.2h.01M454.4 677.3h.01M454.5 672.2h.01M454.5 667h.01M454.6 661.6h.01M454.6 656.1h.01M454.7 650.3h.01M454.8 644.5h.01M454.8 638.4h.01M454.9 632.1h.01M455 625.6h.01M455.1 618.9h.01M455.1 612h.01M455.2 604.9h.01M455.3 597.4h.01M455.3 589.8h.01M455.4 581.8h.01M455.5 573.6h.01M455.6 565h.01M455.6 556.2h.01M455.7 546.9h.01M455.8 537.3h.01M455.8 527.4h.01M455.9 517h.01M455.9 506.2h.01M456 494.9h.01M456.1 483.1h.01M456.1 470.8h.01M456.2 457.9h.01M456.2 444.4h.01M456.2 430.2h.01M456.2 415.4h.01M456.2 399.8h.01M456.2 383.4h.01M456.2 366.2h.01M456.2 348h.01M456.2 328.7h.01M456.2 308.4h.01M456.2 286.9h.01M456.2 268.2h.01M470.8 1025.4h.01M471.1 1024.1h.01M471.4 1022.9h.01M471.7 1021.6h.01M472 1020.3h.01M472.3 1019.1h.01M472.5 1017.8h.01M472.8 1016.5h.01M473.1 1015.3h.01M473.4 1014h.01M473.7 1012.7h.01M473.9 1011.4h.01M474.2 1010.2h.01M474.4 1008.9h.01M474.7 1007.6h.01M474.9 1006.3h.01M475.1 1005.1h.01M475.3 1003.8h.01M475.5 1002.5h.01M475.7 1001.2h.01M475.9 999.9h.01M476.1 998.6h.01M476.3 997.3h.01M476.5 996.1h.01M476.6 994.8h.01M476.8 993.5h.01M477 992.2h.01M477.1 990.9h.01M477.3 989.6h.01M477.5 988.3h.01M477.6 987h.01M477.8 985.7h.01M478 984.5h.01M478.1 983.2h.01M478.3 981.9h.01M478.4 980.6h.01M478.6 979.3h.01M478.7 978h.01M478.9 976.7h.01M479 975.4h.01M479.2 974.1h.01M479.3 972.8h.01M479.5 971.5h.01M479.6 970.2h.01M479.7 969h.01M479.9 967.7h.01M480 966.4h.01M480.2 965.1h.01M480.3 963.8h.01M480.4 962.5h.01M480.6 961.2h.01M480.7 959.9h.01M480.8 958.6h.01M481 957.3h.01M481.1 956h.01M481.2 954.7h.01M481.3 953.4h.01M481.4 952.1h.01M481.6 950.8h.01M481.7 949.6h.01M481.8 948.3h.01M481.9 947h.01M482 945.7h.01M482.1 944.4h.01M482.3 943.1h.01M482.4 941.8h.01M482.5 940.5h.01M482.6 939.2h.01M482.7 937.9h.01M482.8 936.6h.01M482.9 935.3h.01M483 934h.01M483.1 932.7h.01M483.2 931.4h.01M483.3 930.1h.01M483.4 928.8h.01M483.5 927.5h.01M483.6 926.2h.01M483.7 924.9h.01M483.8 923.6h.01M483.8 922.3h.01M483.9 921h.01M484 919.7h.01M484.1 918.4h.01M484.2 917.1h.01M484.3 915.9h.01M484.3 914.6h.01M484.4 913.3h.01M484.5 912h.01M484.6 910.7h.01M484.6 909.4h.01M484.7 908.1h.01M484.8 906.8h.01M484.9 905.5h.01M484.9 904.2h.01M485 902.9h.01M485.1 901.6h.01M485.1 900.3h.01M485.2 899h.01M485.3 897.7h.01M485.3 896.4h.01M485.4 895.1h.01M485.5 893.8h.01M485.5 892.5h.01M485.6 891.2h.01M485.7 889.9h.01M485.7 888.6h.01M485.8 887.3h.01M485.9 886h.01M485.9 884.7h.01M486 883.4h.01M486 882.1h.01M486.1 880.8h.01M486.1 879.5h.01M486.2 878.2h.01M486.3 876.9h.01M486.3 875.6h.01M486.4 874.3h.01M486.4 873h.01M486.5 871.7h.01M486.5 870.4h.01M486.6 869.1h.01M486.6 867.8h.01M486.7 866.5h.01M486.7 865.2h.01M486.8 863.9h.01M486.8 862.5h.01M486.9 861.1h.01M486.9 859.7h.01M486.9 858.3h.01M487 856.9h.01M487 855.4h.01M487.1 853.9h.01M487.1 852.4h.01M487.2 850.8h.01M487.2 849.2h.01M487.2 847.6h.01M487.3 846h.01M487.3 844.3h.01M487.4 842.6h.01M487.4 840.9h.01M487.4 839.1h.01M487.5 837.3h.01M487.5 835.5h.01M487.5 833.6h.01M487.6 831.7h.01M487.6 829.7h.01M487.7 827.7h.01M487.7 825.7h.01M487.8 823.6h.01M487.9 821.5h.01M487.9 819.4h.01M488 817.2h.01M488.1 814.9h.01M488.2 812.6h.01M488.3 810.3h.01M488.4 807.9h.01M488.5 805.4h.01M488.6 802.9h.01M488.7 800.3h.01M488.8 797.7h.01M488.9 795h.01M489 792.3h.01M489.1 789.4h.01M489.3 786.6h.01M489.4 783.6h.01M489.5 780.6h.01M489.6 777.4h.01M489.7 774.3h.01M489.8 771h.01M489.8 767.6h.01M489.9 764.2h.01M490 760.6h.01M490 757h.01M490.1 753.2h.01M490.2 749.4h.01M490.2 745.4h.01M490.3 741.4h.01M490.3 737.2h.01M490.3 732.9h.01M490.4 728.4h.01M490.4 723.8h.01M490.5 719.1h.01M490.5 714.3h.01M490.5 709.2h.01M490.6 704h.01M490.6 698.7h.01M490.6 693.1h.01M490.6 687.4h.01M490.7 681.5h.01M490.7 675.3h.01M490.7 669h.01M490.8 662.4h.01M490.8 655.5h.01M490.9 648.4h.01M490.9 641h.01M491 633.4h.01M491 625.4h.01M491.1 617.1h.01M491.1 608.4h.01M491.1 599.4h.01M491.2 589.9h.01M491.2 580.1h.01M491.3 569.8h.01M491.3 559h.01M491.3 547.7h.01M491.4 535.9h.01M491.4 523.4h.01M491.4 510.4h.01M491.4 496.6h.01M491.5 482.1h.01M491.5 466.7h.01M491.5 450.5h.01M491.5 433.4h.01M491.4 415.1h.01M491.4 395.8h.01M491.4 375.2h.01M491.4 353.3h.01M491.3 329.8h.01M491.3 304.7h.01M491.3 277.7h.01M491.2 269.2h.01M508.4 1024.7h.01M508.7 1023.4h.01M508.9 1022.2h.01M509.2 1020.9h.01M509.5 1019.6h.01M509.8 1018.3h.01M510.1 1017.1h.01M510.3 1015.8h.01M510.6 1014.5h.01M510.9 1013.3h.01M511.1 1012h.01M511.3 1010.7h.01M511.6 1009.4h.01M511.8 1008.1h.01M512 1006.9h.01M512.2 1005.6h.01M512.4 1004.3h.01M512.6 1003h.01M512.8 1001.7h.01M513 1000.4h.01M513.2 999.2h.01M513.4 997.9h.01M513.5 996.6h.01M513.7 995.3h.01M513.9 994h.01M514 992.7h.01M514.2 991.4h.01M514.3 990.1h.01M514.5 988.8h.01M514.7 987.5h.01M514.8 986.3h.01M515 985h.01M515.1 983.7h.01M515.3 982.4h.01M515.4 981.1h.01M515.6 979.8h.01M515.7 978.5h.01M515.9 977.2h.01M516 975.9h.01M516.1 974.6h.01M516.3 973.3h.01M516.4 972h.01M516.6 970.8h.01M516.7 969.5h.01M516.8 968.2h.01M517 966.9h.01M517.1 965.6h.01M517.2 964.3h.01M517.4 963h.01M517.5 961.7h.01M517.6 960.4h.01M517.8 959.1h.01M517.9 957.8h.01M518 956.5h.01M518.1 955.2h.01M518.3 953.9h.01M518.4 952.6h.01M518.5 951.4h.01M518.6 950.1h.01M518.7 948.8h.01M518.9 947.5h.01M519 946.2h.01M519.1 944.9h.01M519.2 943.6h.01M519.3 942.3h.01M519.4 941h.01M519.5 939.7h.01M519.6 938.4h.01M519.7 937.1h.01M519.8 935.8h.01M520 934.5h.01M520.1 933.2h.01M520.2 931.9h.01M520.3 930.6h.01M520.3 929.3h.01M520.4 928h.01M520.5 926.7h.01M520.6 925.4h.01M520.7 924.1h.01M520.8 922.8h.01M520.9 921.5h.01M521 920.3h.01M521.1 919h.01M521.1 917.7h.01M521.2 916.4h.01M521.3 915.1h.01M521.4 913.8h.01M521.5 912.5h.01M521.5 911.2h.01M521.6 909.9h.01M521.7 908.6h.01M521.8 907.3h.01M521.8 906h.01M521.9 904.7h.01M522 903.4h.01M522 902.1h.01M522.1 900.8h.01M522.2 899.5h.01M522.2 898.2h.01M522.3 896.9h.01M522.4 895.6h.01M522.4 894.3h.01M522.5 893h.01M522.6 891.7h.01M522.6 890.4h.01M522.7 889.1h.01M522.8 887.8h.01M522.8 886.5h.01M522.9 885.2h.01M522.9 883.9h.01M523 882.6h.01M523.1 881.3h.01M523.1 880h.01M523.2 878.7h.01M523.2 877.4h.01M523.3 876.1h.01M523.3 874.8h.01M523.4 873.5h.01M523.4 872.2h.01M523.5 870.9h.01M523.5 869.6h.01M523.6 868.3h.01M523.6 867h.01M523.7 865.7h.01M523.7 864.4h.01M523.8 863h.01M523.8 861.6h.01M523.9 860.2h.01M523.9 858.8h.01M524 857.4h.01M524 855.9h.01M524.1 854.4h.01M524.1 852.8h.01M524.2 851.3h.01M524.2 849.7h.01M524.3 848.1h.01M524.3 846.4h.01M524.4 844.8h.01M524.4 843.1h.01M524.4 841.3h.01M524.5 839.5h.01M524.5 837.7h.01M524.6 835.9h.01M524.6 834h.01M524.6 832.1h.01M524.7 830.1h.01M524.7 828.1h.01M524.8 826.1h.01M524.8 824h.01M524.9 821.9h.01M524.9 819.7h.01M525 817.5h.01M525 815.2h.01M525.1 812.9h.01M525.1 810.6h.01M525.2 808.1h.01M525.2 805.7h.01M525.3 803.1h.01M525.3 800.5h.01M525.4 797.9h.01M525.4 795.2h.01M525.5 792.4h.01M525.5 789.5h.01M525.6 786.6h.01M525.6 783.6h.01M525.7 780.6h.01M525.8 777.4h.01M525.8 774.2h.01M525.9 770.9h.01M525.9 767.5h.01M525.9 764h.01M526 760.4h.01M526 756.7h.01M526.1 752.9h.01M526.1 749h.01M526.2 745h.01M526.2 740.9h.01M526.2 736.6h.01M526.3 732.3h.01M526.3 727.7h.01M526.4 723.1h.01M526.4 718.3h.01M526.4 713.3h.01M526.5 708.2h.01M526.5 702.9h.01M526.5 697.5h.01M526.6 691.8h.01M526.6 686h.01M526.7 679.9h.01M526.7 673.6h.01M526.8 667.1h.01M526.8 660.4h.01M526.8 653.4h.01M526.9 646.1h.01M526.9 638.5h.01M527 630.7h.01M527 622.5h.01M527.1 613.9h.01M527.1 605h.01M527.2 595.7h.01M527.2 586h.01M527.2 575.9h.01M527.3 565.2h.01M527.3 554.1h.01M527.4 542.4h.01M527.4 530.1h.01M527.4 517.2h.01M527.4 503.6h.01M527.5 489.3h.01M527.5 474.1h.01M527.5 470.5h.01M527 431.2h.01M527 412.7h.01M527 392.9h.01M527 371.8h.01M527 349.3h.01M527 325.2h.01M527 299.4h.01M527 271.7h.01M527 265h.01M546.3 1023.8h.01M546.5 1022.5h.01M546.7 1021.2h.01M547 1020h.01M547.2 1018.7h.01M547.4 1017.4h.01M547.6 1016.1h.01M547.8 1014.8h.01M548 1013.5h.01M548.3 1012.3h.01M548.5 1011h.01M548.7 1009.7h.01M548.9 1008.4h.01M549 1007.1h.01M549.2 1005.8h.01M549.4 1004.6h.01M549.6 1003.3h.01M549.8 1002h.01M550 1000.7h.01M550.1 999.4h.01M550.3 998.1h.01M550.5 996.8h.01M550.7 995.5h.01M550.8 994.2h.01M551 993h.01M551.2 991.7h.01M551.3 990.4h.01M551.5 989.1h.01M551.7 987.8h.01M551.8 986.5h.01M552 985.2h.01M552.2 983.9h.01M552.3 982.6h.01M552.5 981.4h.01M552.6 980.1h.01M552.8 978.8h.01M553 977.5h.01M553.1 976.2h.01M553.3 974.9h.01M553.4 973.6h.01M553.6 972.3h.01M553.7 971h.01M553.9 969.7h.01M554 968.4h.01M554.1 967.2h.01M554.3 965.9h.01M554.4 964.6h.01M554.5 963.3h.01M554.7 962h.01M554.8 960.7h.01M554.9 959.4h.01M555 958.1h.01M555.2 956.8h.01M555.3 955.5h.01M555.4 954.2h.01M555.5 952.9h.01M555.6 951.6h.01M555.7 950.3h.01M555.8 949h.01M556 947.7h.01M556.1 946.4h.01M556.2 945.1h.01M556.3 943.8h.01M556.4 942.6h.01M556.5 941.3h.01M556.6 940h.01M556.7 938.7h.01M556.8 937.4h.01M556.9 936.1h.01M557 934.8h.01M557.1 933.5h.01M557.1 932.2h.01M557.2 930.9h.01M557.3 929.6h.01M557.4 928.3h.01M557.5 927h.01M557.6 925.7h.01M557.7 924.4h.01M557.8 923.1h.01M557.8 921.8h.01M557.9 920.5h.01M558 919.2h.01M558.1 917.9h.01M558.1 916.6h.01M558.2 915.3h.01M558.3 914h.01M558.4 912.7h.01M558.4 911.4h.01M558.5 910.1h.01M558.6 908.8h.01M558.6 907.5h.01M558.7 906.2h.01M558.8 904.9h.01M558.8 903.6h.01M558.9 902.3h.01M558.9 901h.01M559 899.7h.01M559.1 898.4h.01M559.1 897.1h.01M559.2 895.8h.01M559.2 894.5h.01M559.3 893.2h.01M559.4 891.9h.01M559.4 890.6h.01M559.5 889.3h.01M559.5 888h.01M559.6 886.7h.01M559.6 885.4h.01M559.7 884.2h.01M559.7 882.9h.01M559.8 881.6h.01M559.8 880.2h.01M559.9 878.9h.01M559.9 877.5h.01M560 876.1h.01M560 874.7h.01M560.1 873.2h.01M560.1 871.7h.01M560.2 870.2h.01M560.2 868.7h.01M560.3 867.1h.01M560.3 865.5h.01M560.4 863.9h.01M560.4 862.2h.01M560.5 860.5h.01M560.5 858.7h.01M560.6 856.9h.01M560.6 855.1h.01M560.7 853.3h.01M560.8 851.3h.01M560.8 849.4h.01M560.9 847.4h.01M560.9 845.4h.01M561 843.3h.01M561 841.2h.01M561.1 839h.01M561.1 836.7h.01M561.2 834.4h.01M561.2 832.1h.01M561.3 829.7h.01M561.4 827.2h.01M561.4 824.7h.01M561.5 822.1h.01M561.5 819.4h.01M561.6 816.7h.01M561.6 813.9h.01M561.7 811h.01M561.7 808h.01M561.8 805h.01M561.9 801.9h.01M561.9 798.6h.01M562 795.3h.01M562 791.9h.01M562.1 788.4h.01M562.2 784.7h.01M562.2 781h.01M562.3 777.1h.01M562.3 773.2h.01M562.4 769h.01M562.4 764.8h.01M562.5 760.4h.01M562.5 755.9h.01M562.6 751.1h.01M562.6 746.3h.01M562.7 741.2h.01M562.7 736h.01M562.8 730.6h.01M562.8 725h.01M562.9 719.1h.01M562.9 713h.01M562.9 706.7h.01M563 700.1h.01M563 693.3h.01M563.1 686.1h.01M563.1 678.6h.01M563.1 670.8h.01M563.2 662.7h.01M563.2 654.1h.01M563.3 645.2h.01M563.3 635.8h.01M563.3 625.9h.01M563.4 615.6h.01M563.4 604.6h.01M563.5 593.1h.01M563.5 581h.01M563.5 568.1h.01M563.6 554.5h.01M563.6 540.1h.01M563.7 524.8h.01M563.7 508.5h.01M563.8 491.1h.01M563.8 472.5h.01M563.9 452.6h.01M564 431.2h.01M564.1 408.2h.01M564.1 383.4h.01M564.2 356.6h.01M564.2 327.4h.01M564.2 295.7h.01M564.2 281.5h.01M422.5 379h.01M422.5 364h.01M422.5 359h.01M422.5 345h.01M422.5 326h.01M422.5 317h.01M422.5 302h.01M422.5 291h.01M422.5 284h.01M433 1019.4h.01M432.6 1011.4h.01M432.3 1003.4h.01M432.2 995.4h.01M432.1 987.4h.01M432.1 979.4h.01M432.1 971.4h.01M432 963.4h.01M432 955.4h.01M432 947.4h.01M431.9 939.4h.01M431.9 931.5h.01M431.9 925.2h.01M431.8 920.2h.01M431.8 915.4h.01M431.8 910.8h.01M431.8 906.5h.01M431.8 902.3h.01M431.7 898.4h.01M431.7 894.6h.01M431.7 890.9h.01M431.7 887.5h.01M431.7 884.2h.01M431.7 881.1h.01M431.7 878.1h.01M431.6 875.2h.01M431.6 872.5h.01M431.6 869.8h.01M431.6 867.3h.01M431.6 864.8h.01M431.6 862.3h.01M431.6 859.8h.01M431.6 857.2h.01M431.6 854.7h.01M431.5 852.1h.01M431.5 849.5h.01M431.5 846.9h.01M431.5 844.3h.01M431.5 841.7h.01M431.5 839.1h.01M431.5 836.4h.01M431.5 833.8h.01M431.4 831.1h.01M431.4 828.4h.01M431.4 825.7h.01M431.4 823h.01M431.4 820.3h.01M431.4 817.6h.01M431.4 814.9h.01M431.4 812.1h.01M431.4 809.4h.01M431.3 806.6h.01M431.3 803.8h.01M431.3 801h.01M431.3 798.2h.01M431.3 795.4h.01M431.3 792.5h.01M431.3 789.7h.01M431.3 786.8h.01M431.3 783.9h.01M431.3 781h.01M431.2 778.1h.01M431.2 775.2h.01M431.2 772.3h.01M431.2 769.3h.01M431.2 766.4h.01M431.2 763.4h.01M431.2 760.4h.01M431.2 757.4h.01M431.2 754.2h.01M431.1 750.8h.01M431.1 747.1h.01M431.1 743.1h.01M431.1 738.9h.01M431.1 734.3h.01M431.1 729.4h.01M431 724.1h.01M431 718.4h.01M431 712.2h.01M431 705.7h.01M430.9 698.7h.01M430.9 691.1h.01M430.9 683.1h.01M430.9 674.4h.01M430.8 665.2h.01M430.8 655.3h.01M430.7 644.6h.01M430.7 633.5h.01M430.7 622.2h.01M430.6 610.7h.01M430.6 598.9h.01M430.5 586.8h.01M430.5 574.6h.01M430.4 562.1h.01M430.4 549.3h.01M430.3 536.1h.01M430.3 518.9h.01M430.2 497h.01M430.1 476.5h.01M430.1 457.4h.01M430 439.6h.01M430 422.6h.01M429.9 406.5h.01M429.8 388.4h.01M429.8 367.7h.01M429.7 342.7h.01M429.6 312.6h.01M429.5 281.5h.01M429.5 281.2h.01M470.6 1019.4h.01M470.4 1015.4h.01M470.3 1011.1h.01M470.1 1006.7h.01M470 1002h.01M469.9 997.2h.01M469.9 992h.01M469.9 986.6h.01M469.9 980.9h.01M469.8 975h.01M469.8 968.7h.01M469.8 962.2h.01M469.8 955.3h.01M469.8 947.7h.01M469.8 939h.01M469.7 929.2h.01M469.7 918.3h.01M469.7 908.8h.01M469.7 900.4h.01M469.7 893.1h.01M469.6 886.7h.01M469.6 881.2h.01M469.6 876.5h.01M469.6 872.6h.01M469.6 869.2h.01M469.6 866.2h.01M469.6 863.1h.01M469.6 860h.01M469.6 856.9h.01M469.6 853.7h.01M469.6 850.4h.01M469.6 847.2h.01M469.6 843.8h.01M469.5 840.5h.01M469.5 837h.01M469.5 833.6h.01M469.5 830.1h.01M469.5 826.5h.01M469.5 822.9h.01M469.5 819.2h.01M469.5 815.5h.01M469.5 811.7h.01M469.5 807.8h.01M469.5 804h.01M469.5 800h.01M469.4 796h.01M469.4 791.5h.01M469.4 786.5h.01M469.4 780.8h.01M469.4 774.4h.01M469.4 767.2h.01M469.4 759.1h.01M469.3 750h.01M469.3 740.2h.01M469.3 729.7h.01M469.3 718.5h.01M469.3 706.4h.01M469.2 693.3h.01M469.2 679.3h.01M469.2 664.3h.01M469.1 648.3h.01M469.1 631.3h.01M469 613.3h.01M469 594.1h.01M469 573.3h.01M468.9 549.4h.01M468.8 522.1h.01M468.8 490.6h.01M468.7 453.7h.01M468.6 409.4h.01M468.5 361.1h.01M468.3 304.8h.01M468.2 264.2h.01M508.2 1018.7h.01M508.1 1014.3h.01M508 1009.8h.01M507.8 1005.1h.01M507.7 1000.3h.01M507.7 995.3h.01M507.7 989.7h.01M507.7 983.5h.01M507.7 976.4h.01M507.7 968.4h.01M507.7 959.5h.01M507.6 949.3h.01M507.6 936.1h.01M507.6 919h.01M507.6 901.4h.01M507.6 886.2h.01M507.6 875.4h.01M507.6 866.4h.01M507.5 857.4h.01M507.5 848.4h.01M507.5 839.4h.01M507.5 830.4h.01M507.5 821.4h.01M507.5 812.4h.01M507.5 803.4h.01M507.5 794.4h.01M507.5 785.4h.01M507.5 776.4h.01M507.5 767.4h.01M507.5 758.4h.01M507.5 749.3h.01M507.4 740h.01M507.4 730.3h.01M507.4 720.3h.01M507.4 710h.01M507.4 699.3h.01M507.4 688.3h.01M507.4 676.2h.01M507.4 663.1h.01M507.4 648.7h.01M507.4 633.1h.01M507.4 616.1h.01M507.4 597.5h.01M507.3 577.3h.01M507.3 554.7h.01M507.3 529.4h.01M507.3 499.3h.01M507.3 464.7h.01M507.3 422.3h.01M507.3 371h.01M507.3 310.9h.01M507.2 302.5h.01M546.1 1017.8h.01M546 1011.9h.01M545.8 1005.6h.01M545.6 998.8h.01M545.6 991.6h.01M545.6 983.8h.01M545.6 975.4h.01M545.6 966.4h.01M545.6 956.8h.01M545.5 946.5h.01M545.5 935.4h.01M545.5 923.5h.01M545.5 910.8h.01M545.5 897.2h.01M545.5 882.7h.01M545.5 867.2h.01M545.4 848.7h.01M545.4 824.7h.01M545.4 800.3h.01M545.4 775.7h.01M545.4 750.7h.01M545.4 727.9h.01M545.4 707.3h.01M545.4 688.6h.01M545.4 671.2h.01M545.4 654.7h.01M545.4 638.9h.01M545.4 624h.01M545.4 609.8h.01M545.4 596.3h.01M545.4 582.9h.01M545.4 567.9h.01M545.4 551.1h.01M545.5 532.4h.01M545.5 511.8h.01M545.5 489.4h.01M545.5 465.1h.01M545.5 438.7h.01M545.5 409.6h.01M545.5 377.6h.01M545.5 340.6h.01M545.5 297.3h.01M545.5 267.5h.01M584.7 1016.6h.01M584.5 1008.8h.01M584.3 1000h.01M584.2 990h.01M584.2 979.2h.01M584.1 967.7h.01M584.1 955.3h.01M584.1 942.6h.01M584.1 930.7h.01M584.1 919.7h.01M584.1 909.1h.01M584.1 898.9h.01M584.1 889.2h.01M584.1 879.8h.01M584.1 870.8h.01M584.1 861.5h.01M584.1 851.9h.01M584.1 842h.01M584.1 830.7h.01M584.1 817.6h.01M584.1 802.4h.01M584.1 784.8h.01M584.1 762.2h.01M584.1 732.8h.01M584.1 694.2h.01M584.2 643.1h.01M584.2 573.1h.01M584.2 482.2h.01M584.2 413.2h.01M584.8 1021.6h.01M585 1020.3h.01M585.1 1019h.01M585.3 1017.7h.01M585.5 1016.4h.01M585.6 1015.2h.01M585.8 1013.9h.01M586 1012.6h.01M586.2 1011.3h.01M586.3 1010h.01M586.5 1008.7h.01M586.7 1007.4h.01M586.9 1006.1h.01M587.1 1004.9h.01M587.3 1003.6h.01M587.5 1002.3h.01M587.7 1001h.01M587.9 999.7h.01M588 998.4h.01M588.2 997.1h.01M588.3 995.8h.01M588.5 994.6h.01M588.6 993.3h.01M588.8 992h.01M588.9 990.7h.01M589.1 989.4h.01M589.2 988.1h.01M589.4 986.8h.01M589.5 985.5h.01M589.7 984.2h.01M589.8 982.9h.01M590 981.6h.01M590.1 980.3h.01M590.3 979.1h.01M590.4 977.8h.01M590.6 976.5h.01M590.7 975.2h.01M590.9 973.9h.01M591 972.6h.01M591.1 971.3h.01M591.3 970h.01M591.4 968.7h.01M591.5 967.4h.01M591.7 966.1h.01M591.8 964.8h.01M591.9 963.5h.01M592 962.2h.01M592.2 961h.01M592.3 959.7h.01M592.4 958.4h.01M592.5 957.1h.01M592.6 955.8h.01M592.7 954.5h.01M592.8 953.2h.01M592.9 951.9h.01M593 950.6h.01M593.1 949.3h.01M593.2 948h.01M593.4 946.7h.01M593.5 945.4h.01M593.6 944.1h.01M593.7 942.8h.01M593.8 941.5h.01M593.9 940.2h.01M594 938.9h.01M594.1 937.6h.01M594.2 936.3h.01M594.3 935h.01M594.4 933.7h.01M594.5 932.5h.01M594.7 931.2h.01M594.8 929.9h.01M594.9 928.6h.01M595 927.3h.01M595.1 926h.01M595.2 924.7h.01M595.3 923.4h.01M595.4 922.1h.01M595.4 920.8h.01M595.5 919.5h.01M595.6 918.2h.01M595.7 916.9h.01M595.8 915.6h.01M595.8 914.3h.01M595.9 913h.01M596 911.7h.01M596.1 910.4h.01M596.1 909.1h.01M596.2 907.8h.01M596.2 906.5h.01M596.3 905.2h.01M596.3 903.9h.01M596.4 902.6h.01M596.4 901.3h.01M596.5 900h.01M596.5 898.7h.01M596.6 897.4h.01M596.6 896.1h.01M596.7 894.8h.01M596.7 893.5h.01M596.8 892.2h.01M596.8 890.9h.01M596.9 889.6h.01M596.9 888.2h.01M597 886.8h.01M597 885.3h.01M597.1 883.9h.01M597.2 882.4h.01M597.2 880.8h.01M597.3 879.3h.01M597.3 877.7h.01M597.4 876.1h.01M597.5 874.4h.01M597.5 872.7h.01M597.6 870.9h.01M597.7 869.1h.01M597.7 867.3h.01M597.8 865.4h.01M597.9 863.5h.01M598 861.5h.01M598 859.5h.01M598.1 857.4h.01M598.1 855.3h.01M598.2 853.1h.01M598.2 850.9h.01M598.3 848.6h.01M598.3 846.2h.01M598.4 843.8h.01M598.5 841.3h.01M598.5 838.7h.01M598.6 836.1h.01M598.7 833.4h.01M598.7 830.6h.01M598.8 827.7h.01M598.9 824.7h.01M598.9 821.7h.01M599 818.5h.01M599.1 815.2h.01M599.2 811.9h.01M599.2 808.4h.01M599.3 804.8h.01M599.3 801.1h.01M599.3 797.3h.01M599.4 793.3h.01M599.4 789.2h.01M599.5 784.9h.01M599.5 780.5h.01M599.6 775.9h.01M599.6 771.1h.01M599.7 766.2h.01M599.8 761h.01M599.8 755.7h.01M599.8 750.1h.01M599.8 744.3h.01M599.9 738.2h.01M599.9 731.9h.01M599.9 725.2h.01M600 718.3h.01M600 711h.01M600 703.4h.01M600.1 695.4h.01M600.1 687h.01M600.1 678.2h.01M600.2 668.9h.01M600.2 659.1h.01M600.3 648.7h.01M600.3 637.7h.01M600.4 626.1h.01M600.4 613.7h.01M600.4 600.6h.01M600.5 586.6h.01M600.5 571.6h.01M600.5 555.6h.01M600.6 538.5h.01M600.6 520.1h.01M600.7 500.2h.01M600.7 478.7h.01M600.7 455.5h.01M600.8 430.2h.01M600.8 402.6h.01M600.9 372.3h.01M600.9 339h.01M601 302.2h.01M601 266.2h.01M623.6 1014.8h.01M623.5 1009.3h.01M623.4 1003.6h.01M623.2 997.7h.01M623.1 991h.01M623.1 982h.01M623.1 970h.01M623 953.3h.01M623 929.3h.01M623 896.9h.01M622.9 854.3h.01M622.9 799.5h.01M622.8 727.4h.01M622.7 629.2h.01M622.6 488.5h.01M622.5 358.2h.01M623.8 1019.8h.01M623.9 1018.5h.01M624.1 1017.2h.01M624.2 1015.9h.01M624.4 1014.6h.01M624.5 1013.3h.01M624.7 1012.1h.01M624.8 1010.8h.01M625 1009.5h.01M625.1 1008.2h.01M625.3 1006.9h.01M625.5 1005.6h.01M625.6 1004.3h.01M625.8 1003h.01M626 1001.7h.01M626.2 1000.5h.01M626.3 999.2h.01M626.5 997.9h.01M626.6 996.6h.01M626.8 995.3h.01M626.9 994h.01M627.1 992.7h.01M627.2 991.4h.01M627.3 990.1h.01M627.5 988.8h.01M627.6 987.5h.01M627.7 986.2h.01M627.9 984.9h.01M628 983.7h.01M628.1 982.4h.01M628.3 981.1h.01M628.4 979.8h.01M628.5 978.5h.01M628.7 977.2h.01M628.8 975.9h.01M628.9 974.6h.01M629.1 973.3h.01M629.2 972h.01M629.3 970.7h.01M629.4 969.4h.01M629.6 968.1h.01M629.7 966.8h.01M629.8 965.5h.01M629.9 964.2h.01M630 963h.01M630.1 961.7h.01M630.3 960.4h.01M630.4 959.1h.01M630.5 957.8h.01M630.6 956.5h.01M630.6 955.2h.01M630.7 953.9h.01M630.8 952.6h.01M630.9 951.3h.01M631 950h.01M631.1 948.7h.01M631.2 947.4h.01M631.3 946.1h.01M631.4 944.8h.01M631.5 943.5h.01M631.6 942.2h.01M631.7 940.9h.01M631.8 939.6h.01M631.9 938.3h.01M632 937h.01M632.1 935.7h.01M632.2 934.4h.01M632.3 933.1h.01M632.4 931.8h.01M632.5 930.5h.01M632.6 929.2h.01M632.7 928h.01M632.8 926.7h.01M632.9 925.4h.01M633 924.1h.01M633.1 922.8h.01M633.1 921.5h.01M633.2 920.2h.01M633.3 918.9h.01M633.4 917.6h.01M633.4 916.3h.01M633.5 915h.01M633.6 913.7h.01M633.7 912.4h.01M633.7 911.1h.01M633.8 909.8h.01M633.8 908.5h.01M633.9 907.2h.01M633.9 905.9h.01M634 904.6h.01M634 903.3h.01M634.1 902h.01M634.1 900.7h.01M634.2 899.4h.01M634.2 898h.01M634.3 896.6h.01M634.3 895.2h.01M634.4 893.8h.01M634.4 892.3h.01M634.5 890.8h.01M634.5 889.2h.01M634.6 887.7h.01M634.6 886h.01M634.7 884.4h.01M634.7 882.7h.01M634.8 880.9h.01M634.9 879.1h.01M634.9 877.3h.01M635 875.4h.01M635.1 873.4h.01M635.1 871.5h.01M635.2 869.4h.01M635.3 867.3h.01M635.4 865.1h.01M635.4 862.9h.01M635.5 860.6h.01M635.6 858.3h.01M635.6 855.8h.01M635.7 853.3h.01M635.7 850.8h.01M635.8 848.1h.01M635.9 845.3h.01M635.9 842.5h.01M636 839.6h.01M636.1 836.6h.01M636.1 833.4h.01M636.2 830.2h.01M636.3 826.9h.01M636.3 823.4h.01M636.4 819.8h.01M636.5 816.1h.01M636.6 812.2h.01M636.7 808.2h.01M636.7 804h.01M636.7 799.7h.01M636.8 795.2h.01M636.8 790.5h.01M636.9 785.6h.01M636.9 780.5h.01M637 775.2h.01M637 769.6h.01M637.1 763.8h.01M637.2 757.7h.01M637.2 751.3h.01M637.2 744.5h.01M637.2 737.5h.01M637.3 730.1h.01M637.3 722.3h.01M637.3 714h.01M637.4 705.3h.01M637.4 696.1h.01M637.5 686.3h.01M637.5 676h.01M637.5 665h.01M637.6 653.3h.01M637.6 640.7h.01M637.7 627.4h.01M637.7 613h.01M637.8 597.6h.01M637.8 581h.01M637.8 563.1h.01M637.9 543.7h.01M637.9 522.6h.01M637.9 499.6h.01M638 474.4h.01M638 446.7h.01M638.1 416.1h.01M638.1 382.1h.01M638.2 344.3h.01M638.2 301.8h.01M638.2 276.2h.01M662.9 1015.8h.01M662.7 1010.2h.01M662.6 1004.4h.01M662.5 998.3h.01M662.4 990.6h.01M662.4 981h.01M662.3 969.1h.01M662.3 951.3h.01M662.2 925h.01M662.2 885.1h.01M662.2 825h.01M662.2 734.5h.01M662.2 568.5h.01M662.2 351.2h.01M663 1020.8h.01M663.1 1019.5h.01M663.3 1018.2h.01M663.4 1016.9h.01M663.6 1015.6h.01M663.7 1014.3h.01M663.9 1013h.01M664 1011.8h.01M664.2 1010.5h.01M664.3 1009.2h.01M664.5 1007.9h.01M664.7 1006.6h.01M664.8 1005.3h.01M665 1004h.01M665.2 1002.7h.01M665.3 1001.4h.01M665.5 1000.2h.01M665.6 998.9h.01M665.8 997.6h.01M665.9 996.3h.01M666.1 995h.01M666.2 993.7h.01M666.3 992.4h.01M666.4 991.1h.01M666.6 989.8h.01M666.7 988.5h.01M666.8 987.2h.01M667 985.9h.01M667.1 984.6h.01M667.2 983.3h.01M667.4 982h.01M667.5 980.8h.01M667.6 979.5h.01M667.8 978.2h.01M667.9 976.9h.01M668 975.6h.01M668.1 974.3h.01M668.3 973h.01M668.4 971.7h.01M668.5 970.4h.01M668.6 969.1h.01M668.7 967.8h.01M668.8 966.5h.01M668.9 965.2h.01M669 963.9h.01M669.2 962.6h.01M669.3 961.3h.01M669.4 960h.01M669.5 958.7h.01M669.6 957.4h.01M669.7 956.1h.01M669.7 954.9h.01M669.8 953.6h.01M669.9 952.3h.01M670 951h.01M670.1 949.7h.01M670.2 948.4h.01M670.3 947.1h.01M670.4 945.8h.01M670.5 944.5h.01M670.6 943.2h.01M670.7 941.9h.01M670.8 940.6h.01M670.9 939.3h.01M671 938h.01M671.1 936.7h.01M671.1 935.4h.01M671.2 934.1h.01M671.3 932.8h.01M671.4 931.5h.01M671.5 930.2h.01M671.6 928.9h.01M671.7 927.6h.01M671.8 926.3h.01M671.9 925h.01M672 923.7h.01M672.1 922.4h.01M672.1 921.1h.01M672.2 919.8h.01M672.3 918.5h.01M672.3 917.2h.01M672.4 915.9h.01M672.5 914.6h.01M672.5 913.3h.01M672.6 912h.01M672.7 910.8h.01M672.7 909.4h.01M672.8 908.1h.01M672.8 906.7h.01M672.9 905.3h.01M672.9 903.9h.01M673 902.4h.01M673 900.9h.01M673.1 899.4h.01M673.1 897.8h.01M673.2 896.1h.01M673.2 894.5h.01M673.3 892.7h.01M673.4 891h.01M673.4 889.2h.01M673.5 887.3h.01M673.5 885.4h.01M673.6 883.4h.01M673.7 881.4h.01M673.7 879.3h.01M673.8 877.1h.01M673.9 874.9h.01M674 872.6h.01M674.1 870.2h.01M674.1 867.8h.01M674.2 865.2h.01M674.3 862.6h.01M674.4 859.9h.01M674.4 857.1h.01M674.5 854.2h.01M674.6 851.2h.01M674.6 848.1h.01M674.7 844.9h.01M674.8 841.6h.01M674.8 838.1h.01M674.9 834.5h.01M675 830.8h.01M675.1 826.9h.01M675.2 822.8h.01M675.3 818.6h.01M675.4 814.2h.01M675.4 809.6h.01M675.5 804.8h.01M675.5 799.7h.01M675.6 794.5h.01M675.6 788.9h.01M675.7 783.1h.01M675.8 777h.01M675.8 770.6h.01M675.9 763.9h.01M675.9 756.7h.01M676 749.2h.01M676 741.3h.01M676 732.8h.01M676.1 723.9h.01M676.1 714.4h.01M676.1 704.2h.01M676.2 693.4h.01M676.2 681.8h.01M676.3 669.5h.01M676.3 656.1h.01M676.4 641.8h.01M676.5 626.3h.01M676.5 609.5h.01M676.5 591.2h.01M676.6 571.3h.01M676.6 549.5h.01M676.6 525.5h.01M676.7 499.1h.01M676.7 469.7h.01M676.8 436.9h.01M676.8 400.1h.01M676.9 358.6h.01M676.9 311.2h.01M677 257h.01M702.7 1018.5h.01M702.6 1015.1h.01M702.5 1011.7h.01M702.5 1008.3h.01M702.4 1004.9h.01M702.3 1001.5h.01M702.2 998.1h.01M702.2 994.7h.01M702.2 991.3h.01M702.2 987.9h.01M702.2 984.5h.01M702.2 981.1h.01M702.1 977.7h.01M702.1 974.3h.01M702.1 970.9h.01M702.1 967.5h.01M702.1 964.1h.01M702.1 960.7h.01M702.1 956.9h.01M702.1 952.6h.01M702.1 947.7h.01M702.1 942.1h.01M702.1 935.6h.01M702.1 928.1h.01M702.1 919.2h.01M702.1 908.5h.01M702.1 895.5h.01M702.1 879.3h.01M702.1 858.8h.01M702.2 832h.01M702.2 795.8h.01M702.2 744.4h.01M702.2 735.2h.01M702.8 1022.5h.01M703 1020.7h.01M703.2 1018.9h.01M703.3 1017.1h.01M703.5 1015.3h.01M703.7 1013.5h.01M703.9 1011.8h.01M704.1 1010h.01M704.3 1008.2h.01M704.5 1006.4h.01M704.7 1004.6h.01M704.9 1002.8h.01M705.1 1001h.01M705.3 999.2h.01M705.5 997.4h.01M705.7 995.7h.01M705.8 993.9h.01M706 992.1h.01M706.2 990.3h.01M706.3 988.5h.01M706.5 986.7h.01M706.6 984.9h.01M706.8 983.1h.01M707 981.3h.01M707.1 979.5h.01M707.3 977.7h.01M707.5 975.9h.01M707.6 974.1h.01M707.8 972.3h.01M707.9 970.6h.01M708 968.8h.01M708.2 967h.01M708.3 965.2h.01M708.5 963.4h.01M708.6 961.6h.01M708.7 959.8h.01M708.8 958h.01M708.9 956.2h.01M709.1 954.4h.01M709.2 952.6h.01M709.3 950.8h.01M709.4 949h.01M709.5 947.2h.01M709.6 945.4h.01M709.8 943.6h.01M709.9 941.8h.01M710 940h.01M710.1 938.2h.01M710.2 936.4h.01M710.3 934.6h.01M710.5 932.8h.01M710.6 931h.01M710.7 929.2h.01M710.8 927.5h.01M710.9 925.7h.01M711 923.9h.01M711.1 922.1h.01M711.2 920.3h.01M711.3 918.5h.01M711.4 916.7h.01M711.5 914.9h.01M711.5 913.1h.01M711.6 911.3h.01M711.7 909.5h.01M711.7 907.7h.01M711.8 905.9h.01M711.8 904.1h.01M711.9 902.3h.01M711.9 900.5h.01M712 898.6h.01M712.1 896.8h.01M712.1 894.8h.01M712.2 892.8h.01M712.2 890.7h.01M712.3 888.6h.01M712.4 886.4h.01M712.4 884.1h.01M712.5 881.7h.01M712.6 879.3h.01M712.7 876.8h.01M712.7 874.1h.01M712.8 871.4h.01M712.9 868.6h.01M713 865.7h.01M713.1 862.7h.01M713.2 859.5h.01M713.2 856.2h.01M713.3 852.8h.01M713.4 849.3h.01M713.4 845.6h.01M713.5 841.7h.01M713.6 837.7h.01M713.7 833.5h.01M713.7 829.1h.01M713.8 824.5h.01M713.9 819.6h.01M714 814.5h.01M714.1 809.2h.01M714.1 803.6h.01M714.2 797.7h.01M714.2 791.5h.01M714.3 784.9h.01M714.4 777.9h.01M714.4 770.5h.01M714.5 762.7h.01M714.5 754.4h.01M714.6 745.5h.01M714.6 736.1h.01M714.6 725.9h.01M714.7 715.1h.01M714.7 703.4h.01M714.8 690.9h.01M714.8 677.3h.01M714.9 662.6h.01M714.9 646.7h.01M715 629.3h.01M715 610.2h.01M715.1 589.2h.01M715.1 566.1h.01M715.1 540.4h.01M715.2 511.7h.01M715.2 479.6h.01M715.3 443.2h.01M715.3 401.8h.01M715.4 354.3h.01M715.4 299.3h.01M715.5 244.2h.01M743.2 1018.2h.01M743.1 1014.8h.01M743 1011.4h.01M743 1008h.01M742.9 1004.6h.01M742.8 1001.2h.01M742.7 997.8h.01M742.7 994.4h.01M742.7 991h.01M742.7 987.6h.01M742.7 984.2h.01M742.7 980.8h.01M742.6 977.4h.01M742.6 974h.01M742.6 970.6h.01M742.6 967.2h.01M742.6 963.8h.01M742.6 960.4h.01M742.6 956.6h.01M742.6 952.3h.01M742.6 947.4h.01M742.5 941.8h.01M742.5 935.3h.01M742.5 927.8h.01M742.5 918.9h.01M742.5 908.2h.01M742.5 895.2h.01M742.5 879h.01M742.5 858.5h.01M742.5 831.7h.01M742.4 795.5h.01M742.4 744.1h.01M742.3 666.7h.01M742.2 609.2h.01M743.3 1022.2h.01M743.5 1020.2h.01M743.7 1018.2h.01M743.9 1016.2h.01M744.1 1014.2h.01M744.3 1012.2h.01M744.5 1010.3h.01M744.7 1008.3h.01M745 1006.3h.01M745.2 1004.3h.01M745.4 1002.3h.01M745.6 1000.3h.01M745.8 998.3h.01M746 996.3h.01M746.2 994.3h.01M746.3 992.4h.01M746.5 990.4h.01M746.7 988.4h.01M746.9 986.4h.01M747 984.4h.01M747.2 982.4h.01M747.4 980.4h.01M747.6 978.4h.01M747.7 976.4h.01M747.9 974.4h.01M748.1 972.4h.01M748.2 970.4h.01M748.4 968.4h.01M748.5 966.4h.01M748.7 964.5h.01M748.8 962.5h.01M748.9 960.5h.01M749.1 958.5h.01M749.2 956.5h.01M749.3 954.5h.01M749.4 952.5h.01M749.6 950.5h.01M749.7 948.5h.01M749.8 946.5h.01M750 944.5h.01M750.1 942.5h.01M750.2 940.5h.01M750.3 938.5h.01M750.5 936.5h.01M750.6 934.5h.01M750.7 932.5h.01M750.8 930.5h.01M751 928.5h.01M751.1 926.5h.01M751.2 924.5h.01M751.3 922.5h.01M751.4 920.5h.01M751.5 918.5h.01M751.6 916.5h.01M751.7 914.5h.01M751.8 912.5h.01M751.8 910.5h.01M751.9 908.5h.01M752 906.5h.01M752 904.6h.01M752.1 902.6h.01M752.1 900.6h.01M752.2 898.5h.01M752.3 896.4h.01M752.3 894.2h.01M752.4 891.9h.01M752.5 889.5h.01M752.5 887.1h.01M752.6 884.5h.01M752.7 881.9h.01M752.8 879.1h.01M752.8 876.3h.01M752.9 873.3h.01M753 870.2h.01M753.1 867h.01M753.2 863.7h.01M753.3 860.2h.01M753.4 856.5h.01M753.4 852.7h.01M753.5 848.7h.01M753.6 844.5h.01M753.7 840.1h.01M753.8 835.5h.01M753.8 830.6h.01M753.9 825.5h.01M754 820.1h.01M754.1 814.4h.01M754.2 808.4h.01M754.3 802.1h.01M754.3 795.3h.01M754.4 788.1h.01M754.5 780.5h.01M754.5 772.4h.01M754.6 763.7h.01M754.6 754.4h.01M754.7 744.4h.01M754.7 733.6h.01M754.8 722h.01M754.8 709.5h.01M754.8 695.8h.01M754.9 681h.01M755 664.8h.01M755 647h.01M755.1 627.4h.01M755.1 605.7h.01M755.2 581.5h.01M755.2 554.5h.01M755.3 524h.01M755.3 489.4h.01M755.4 449.9h.01M755.4 404.3h.01M755.5 351.1h.01M755.5 326.2h.01M783.9 1016.5h.01M783.8 1013.1h.01M783.7 1009.7h.01M783.7 1006.3h.01M783.6 1002.9h.01M783.5 999.5h.01M783.4 996.1h.01M783.4 992.7h.01M783.4 989.3h.01M783.4 985.9h.01M783.4 982.5h.01M783.4 979.1h.01M783.3 975.7h.01M783.3 972.3h.01M783.3 968.9h.01M783.3 965.5h.01M783.3 962.1h.01M783.3 958.7h.01M783.3 954.9h.01M783.3 950.6h.01M783.3 945.7h.01M783.2 940.1h.01M783.2 933.6h.01M783.2 926.1h.01M783.2 917.2h.01M783.2 906.5h.01M783.2 893.5h.01M783.2 877.3h.01M783.2 856.8h.01M783.2 830h.01M783.2 793.8h.01M783.2 742.4h.01M783.2 665h.01M783.2 616.2h.01M784 1020.5h.01M784.2 1018.2h.01M784.4 1015.9h.01M784.6 1013.6h.01M784.9 1011.3h.01M785.1 1009.1h.01M785.3 1006.8h.01M785.6 1004.5h.01M785.8 1002.2h.01M786.1 999.9h.01M786.3 997.6h.01M786.5 995.3h.01M786.7 993h.01M786.9 990.7h.01M787.1 988.4h.01M787.2 986.2h.01M787.4 983.9h.01M787.6 981.6h.01M787.8 979.3h.01M788 977h.01M788.2 974.7h.01M788.4 972.4h.01M788.5 970.1h.01M788.7 967.8h.01M788.9 965.5h.01M789 963.2h.01M789.2 960.9h.01M789.3 958.6h.01M789.5 956.3h.01M789.6 954h.01M789.7 951.7h.01M789.9 949.4h.01M790 947.2h.01M790.1 944.9h.01M790.3 942.6h.01M790.4 940.3h.01M790.6 938h.01M790.7 935.7h.01M790.8 933.4h.01M791 931.1h.01M791.1 928.8h.01M791.2 926.5h.01M791.3 924.2h.01M791.4 921.9h.01M791.6 919.6h.01M791.7 917.3h.01M791.8 915h.01M791.8 912.7h.01M791.9 910.4h.01M792 908.1h.01M792 905.8h.01M792.1 903.5h.01M792.2 901.2h.01M792.2 898.9h.01M792.3 896.6h.01M792.4 894.2h.01M792.4 891.7h.01M792.5 889.1h.01M792.6 886.5h.01M792.7 883.7h.01M792.7 880.7h.01M792.8 877.7h.01M792.9 874.5h.01M793 871.2h.01M793.1 867.7h.01M793.2 864.1h.01M793.3 860.3h.01M793.3 856.3h.01M793.4 852.1h.01M793.5 847.7h.01M793.6 843h.01M793.6 838.1h.01M793.7 832.9h.01M793.8 827.5h.01M793.9 821.7h.01M794 815.5h.01M794.1 808.9h.01M794.1 802h.01M794.2 794.5h.01M794.3 786.6h.01M794.3 778.1h.01M794.4 768.9h.01M794.4 759h.01M794.5 748.4h.01M794.5 736.8h.01M794.5 724.3h.01M794.6 710.6h.01M794.6 695.7h.01M794.7 679.2h.01M794.8 661.1h.01M794.8 641h.01M794.9 618.5h.01M794.9 593.4h.01M794.9 564.9h.01M795 532.6h.01M795.1 495.5h.01M795.1 452.6h.01M795.2 402.3h.01M795.2 342.8h.01M795.2 304.2h.01M824.9 1015.3h.01M824.8 1011.9h.01M824.7 1008.5h.01M824.7 1005.1h.01M824.6 1001.7h.01M824.5 998.3h.01M824.4 994.9h.01M824.4 991.5h.01M824.4 988.1h.01M824.4 984.7h.01M824.4 981.3h.01M824.4 977.9h.01M824.3 974.5h.01M824.3 971.1h.01M824.3 967.7h.01M824.3 964.3h.01M824.3 960.9h.01M824.3 957.5h.01M824.3 953.7h.01M824.3 949.4h.01M824.3 944.5h.01M824.2 938.9h.01M824.2 932.4h.01M824.2 924.9h.01M824.2 916h.01M824.2 905.3h.01M824.2 892.3h.01M824.2 876.1h.01M824.2 855.6h.01M824.2 828.8h.01M824.2 792.6h.01M824.2 741.2h.01M824.2 663.8h.01M824.2 537.4h.01M824.2 305.3h.01M824.2 280.2h.01M825 1019.3h.01M825.2 1016.7h.01M825.5 1014.1h.01M825.7 1011.5h.01M825.9 1008.9h.01M826.2 1006.4h.01M826.4 1003.8h.01M826.7 1001.2h.01M827 998.6h.01M827.2 996h.01M827.4 993.4h.01M827.6 990.8h.01M827.8 988.2h.01M828 985.6h.01M828.2 983h.01M828.4 980.5h.01M828.6 977.9h.01M828.8 975.3h.01M829 972.7h.01M829.2 970.1h.01M829.3 967.5h.01M829.5 964.9h.01M829.7 962.3h.01M829.8 959.7h.01M830 957.1h.01M830.1 954.5h.01M830.3 951.9h.01M830.4 949.3h.01M830.6 946.7h.01M830.7 944.1h.01M830.8 941.5h.01M831 938.9h.01M831.1 936.3h.01M831.3 933.7h.01M831.4 931.1h.01M831.6 928.5h.01M831.7 926h.01M831.8 923.4h.01M831.9 920.8h.01M832 918.2h.01M832.1 915.6h.01M832.2 913h.01M832.2 910.4h.01M832.3 907.8h.01M832.4 905.2h.01M832.5 902.6h.01M832.5 900h.01M832.6 897.4h.01M832.7 894.8h.01M832.7 892.1h.01M832.8 889.3h.01M832.9 886.4h.01M833 883.3h.01M833 880.1h.01M833.1 876.8h.01M833.2 873.3h.01M833.3 869.6h.01M833.4 865.7h.01M833.5 861.6h.01M833.5 857.3h.01M833.6 852.8h.01M833.7 848h.01M833.8 842.9h.01M833.8 837.6h.01M833.9 831.9h.01M834 825.8h.01M834.1 819.3h.01M834.2 812.4h.01M834.2 805h.01M834.3 797.1h.01M834.4 788.5h.01M834.4 779.3h.01M834.5 769.4h.01M834.5 758.6h.01M834.5 746.8h.01M834.6 734h.01M834.6 719.9h.01M834.7 704.4h.01M834.7 687.3h.01M834.8 668.3h.01M834.8 647h.01M834.9 623h.01M834.9 595.8h.01M835 564.9h.01M835 529.2h.01M835.1 487.6h.01M835.1 438.8h.01M835.2 380.5h.01M835.2 310h.01M835.2 289.2h.01M866.2 1014h.01M866.1 1010.6h.01M866 1007.2h.01M865.9 1003.8h.01M865.8 1000.4h.01M865.7 997h.01M865.7 993.6h.01M865.6 990.2h.01M865.6 986.8h.01M865.6 983.4h.01M865.6 980h.01M865.6 976.6h.01M865.6 973.2h.01M865.6 969.8h.01M865.6 966.4h.01M865.6 963h.01M865.6 959.6h.01M865.5 956.2h.01M865.5 952.4h.01M865.5 948.1h.01M865.5 943.2h.01M865.5 937.6h.01M865.5 931.1h.01M865.5 923.6h.01M865.5 914.7h.01M865.5 904h.01M865.5 891h.01M865.5 874.8h.01M865.5 854.3h.01M865.4 827.5h.01M865.4 791.3h.01M865.4 739.9h.01M865.3 662.5h.01M865.3 536.1h.01M865.2 514.2h.01M866.2 1018h.01M866.5 1015h.01M866.8 1012h.01M867 1009h.01M867.4 1006.1h.01M867.7 1003.1h.01M868 1000.1h.01M868.2 997.1h.01M868.5 994.1h.01M868.7 991.1h.01M869 988.1h.01M869.2 985.1h.01M869.4 982.1h.01M869.7 979.2h.01M869.9 976.2h.01M870.1 973.2h.01M870.3 970.2h.01M870.5 967.2h.01M870.7 964.2h.01M870.9 961.2h.01M871.1 958.2h.01M871.3 955.2h.01M871.4 952.2h.01M871.6 949.2h.01M871.8 946.2h.01M871.9 943.2h.01M872.1 940.2h.01M872.3 937.2h.01M872.5 934.2h.01M872.6 931.2h.01M872.8 928.2h.01M872.9 925.3h.01M873 922.3h.01M873.2 919.3h.01M873.2 916.3h.01M873.3 913.3h.01M873.4 910.3h.01M873.5 907.3h.01M873.6 904.3h.01M873.6 901.3h.01M873.7 898.3h.01M873.8 895.3h.01M873.9 892.3h.01M874 889.3h.01M874 886.1h.01M874.1 882.8h.01M874.2 879.3h.01M874.3 875.7h.01M874.4 871.8h.01M874.5 867.7h.01M874.5 863.4h.01M874.6 858.9h.01M874.7 854.1h.01M874.8 848.9h.01M874.9 843.5h.01M875 837.7h.01M875.1 831.5h.01M875.2 824.9h.01M875.2 817.8h.01M875.3 810.2h.01M875.3 802h.01M875.4 793.1h.01M875.5 783.4h.01M875.5 773h.01M875.5 761.5h.01M875.6 749h.01M875.6 735.3h.01M875.7 720h.01M875.7 703.1h.01M875.8 684.3h.01M875.9 663.1h.01M875.9 639.1h.01M875.9 611.7h.01M876 580.3h.01M876 543.9h.01M876.1 501.1h.01M876.1 450.2h.01M876.2 388.8h.01M876.2 327.2h.01M907.4 1012h.01M907.3 1008.6h.01M907.2 1005.2h.01M907.2 1001.8h.01M907.1 998.4h.01M907 995h.01M906.9 991.6h.01M906.9 988.2h.01M906.9 984.8h.01M906.9 981.4h.01M906.9 978h.01M906.9 974.6h.01M906.8 971.2h.01M906.8 967.8h.01M906.8 964.4h.01M906.8 961h.01M906.8 957.6h.01M906.8 954.2h.01M906.8 950.4h.01M906.8 946.1h.01M906.8 941.2h.01M906.7 935.6h.01M906.7 929.1h.01M906.7 921.6h.01M906.7 912.7h.01M906.7 902h.01M906.7 889h.01M906.7 872.8h.01M906.7 852.3h.01M906.6 825.5h.01M906.6 789.3h.01M906.5 737.9h.01M906.4 660.5h.01M906.3 534.1h.01M906.2 483.2h.01M907.5 1016h.01M907.8 1012.5h.01M908.1 1009h.01M908.4 1005.5h.01M908.7 1002.1h.01M909.1 998.6h.01M909.3 995.1h.01M909.6 991.6h.01M909.9 988.1h.01M910.1 984.6h.01M910.4 981.1h.01M910.7 977.6h.01M910.9 974.1h.01M911.1 970.6h.01M911.3 967.2h.01M911.6 963.7h.01M911.8 960.2h.01M911.9 956.7h.01M912.1 953.2h.01M912.3 949.7h.01M912.5 946.2h.01M912.7 942.7h.01M912.9 939.2h.01M913.1 935.7h.01M913.2 932.2h.01M913.4 928.7h.01M913.5 925.2h.01M913.7 921.7h.01M913.8 918.2h.01M913.9 914.7h.01M913.9 911.2h.01M914 907.7h.01M914.1 904.2h.01M914.2 900.7h.01M914.3 897.2h.01M914.4 893.7h.01M914.5 890.2h.01M914.6 886.7h.01M914.6 883.2h.01M914.7 879.6h.01M914.8 875.7h.01M914.9 871.6h.01M914.9 867.2h.01M915 862.6h.01M915.1 857.7h.01M915.2 852.5h.01M915.3 846.9h.01M915.4 841h.01M915.5 834.6h.01M915.5 827.7h.01M915.6 820.3h.01M915.6 812.4h.01M915.7 803.7h.01M915.8 794.3h.01M915.8 784.1h.01M915.8 772.9h.01M915.9 760.6h.01M915.9 747h.01M916 731.9h.01M916 715.1h.01M916.1 696.2h.01M916.1 674.9h.01M916.2 650.7h.01M916.2 622.9h.01M916.2 590.7h.01M916.3 553h.01M916.3 508.3h.01M916.4 454.6h.01M916.4 388.9h.01M916.5 307h.01M916.5 292.2h.01M948.2 1009.9h.01M948.1 1006.5h.01M948 1003.1h.01M948 999.7h.01M947.9 996.3h.01M947.8 992.9h.01M947.7 989.5h.01M947.7 986.1h.01M947.7 982.7h.01M947.7 979.3h.01M947.7 975.9h.01M947.7 972.5h.01M947.6 969.1h.01M947.6 965.7h.01M947.6 962.3h.01M947.6 958.8h.01M947.6 954.9h.01M947.6 950.4h.01M947.6 945.1h.01M947.6 939h.01M947.6 931.7h.01M947.6 922.9h.01M947.6 912.1h.01M947.6 898.7h.01M947.6 881.4h.01M947.6 858.6h.01M947.6 827.3h.01M947.6 782h.01M947.7 712.1h.01M947.8 593.7h.01M947.9 364.1h.01M948 199.2h.01M948.3 1013.9h.01M948.3 1009.7h.01M948.6 1005.5h.01M949 1001.3h.01M949.4 997.1h.01M949.8 993h.01M950.2 988.8h.01M950.5 984.6h.01M950.9 980.4h.01M951.2 976.2h.01M951.5 972h.01M951.8 967.9h.01M952.1 963.7h.01M952.4 959.5h.01M952.6 955.3h.01M952.9 951.1h.01M953.1 946.9h.01M953.4 942.7h.01M953.6 938.5h.01M953.8 934.3h.01M954.1 930.1h.01M954.3 925.9h.01M954.5 921.7h.01M954.6 917.5h.01M954.8 913.3h.01M954.9 909.1h.01M955 904.9h.01M955.1 900.7h.01M955.2 896.5h.01M955.3 892.3h.01M955.4 888.1h.01M955.5 883.9h.01M955.6 879.7h.01M955.7 875.5h.01M955.8 871.2h.01M955.9 866.6h.01M956 861.7h.01M956.1 856.4h.01M956.2 850.8h.01M956.3 844.7h.01M956.4 838.3h.01M956.5 831.3h.01M956.5 823.7h.01M956.6 815.5h.01M956.7 806.6h.01M956.7 796.8h.01M956.8 786.1h.01M956.8 774.4h.01M956.9 761.3h.01M956.9 746.9h.01M957 730.7h.01M957 712.5h.01M957.1 691.9h.01M957.1 668.4h.01M957.2 641.3h.01M957.2 609.8h.01M957.3 572.8h.01M957.3 528.6h.01M957.4 475.2h.01M957.4 409.4h.01M957.5 339.2h.01M990.3 1007.7h.01M990.2 1004.3h.01M990.1 1000.9h.01M990.1 997.5h.01M990 994.1h.01M989.9 990.7h.01M989.8 987.3h.01M989.8 983.9h.01M989.8 980.5h.01M989.8 977.1h.01M989.8 973.7h.01M989.8 970.3h.01M989.7 966.9h.01M989.7 963.5h.01M989.7 960.1h.01M989.7 956.6h.01M989.7 952.7h.01M989.7 948.2h.01M989.7 942.9h.01M989.7 936.8h.01M989.6 929.5h.01M989.6 920.7h.01M989.6 909.9h.01M989.6 896.5h.01M989.6 879.2h.01M989.6 856.4h.01M989.6 825.1h.01M989.5 779.8h.01M989.5 709.9h.01M989.4 591.5h.01M989.2 472.2h.01M990.4 1011.7h.01M990.4 1007.2h.01M990.5 1002.7h.01M990.8 998.2h.01M991.2 993.7h.01M991.6 989.2h.01M991.9 984.8h.01M992.2 980.3h.01M992.5 975.8h.01M992.9 971.3h.01M993.2 966.8h.01M993.4 962.3h.01M993.7 957.8h.01M993.9 953.3h.01M994.2 948.8h.01M994.4 944.3h.01M994.6 939.8h.01M994.8 935.3h.01M995 930.9h.01M995.2 926.4h.01M995.4 921.9h.01M995.6 917.4h.01M995.7 912.9h.01M995.8 908.4h.01M995.9 903.9h.01M996 899.4h.01M996.1 894.9h.01M996.2 890.4h.01M996.3 885.9h.01M996.4 881.4h.01M996.5 876.9h.01M996.6 872.4h.01M996.7 867.6h.01M996.7 862.5h.01M996.8 857h.01M996.9 851.2h.01M997 844.8h.01M997.1 838h.01M997.2 830.6h.01M997.2 822.5h.01M997.3 813.7h.01M997.3 804.1h.01M997.4 793.5h.01M997.4 781.8h.01M997.5 768.8h.01M997.5 754.3h.01M997.5 738h.01M997.6 719.6h.01M997.7 698.7h.01M997.7 674.6h.01M997.7 646.6h.01M997.8 613.9h.01M997.8 575h.01M997.9 528.2h.01M997.9 470.7h.01M998 398.8h.01M998 352.2h.01M1031.5 1005.9h.01M1031.4 1002.5h.01M1031.3 999.1h.01M1031.3 995.7h.01M1031.2 992.3h.01M1031.1 988.9h.01M1031 985.5h.01M1031 982.1h.01M1031 978.7h.01M1031 975.3h.01M1031 971.9h.01M1031 968.5h.01M1030.9 958.3h.01M1030.9 954.8h.01M1030.9 950.9h.01M1030.9 946.4h.01M1030.9 941.1h.01M1030.9 935h.01M1030.9 927.7h.01M1030.9 918.9h.01M1030.9 908.1h.01M1030.9 894.7h.01M1030.9 877.4h.01M1030.9 854.6h.01M1030.9 823.3h.01M1030.9 778h.01M1030.9 708.1h.01M1031 589.7h.01M1031 432.2h.01M1031.6 1009.9h.01M1031.6 1005.4h.01M1031.6 1000.9h.01M1031.9 996.4h.01M1032.2 991.9h.01M1032.7 987.4h.01M1033.1 983h.01M1033.4 978.5h.01M1033.7 974h.01M1034 969.5h.01M1034.3 965h.01M1034.6 960.5h.01M1034.9 956h.01M1035.2 951.5h.01M1035.4 947h.01M1035.6 942.5h.01M1035.9 938h.01M1036.1 933.6h.01M1036.3 929.1h.01M1036.5 924.6h.01M1036.7 920.1h.01M1036.9 915.6h.01M1037 911.1h.01M1037.1 906.6h.01M1037.2 902.1h.01M1037.3 897.6h.01M1037.4 893.1h.01M1037.5 888.6h.01M1037.6 884.1h.01M1037.7 879.6h.01M1037.8 875.1h.01M1037.9 870.3h.01M1038 865.1h.01M1038.1 859.5h.01M1038.2 853.6h.01M1038.2 847.1h.01M1038.4 840h.01M1038.4 832.4h.01M1038.5 824.1h.01M1038.5 814.9h.01M1038.6 804.8h.01M1038.7 793.7h.01M1038.7 781.3h.01M1038.7 767.4h.01M1038.8 751.8h.01M1038.8 734.2h.01M1038.9 714h.01M1038.9 690.8h.01M1039 663.9h.01M1039 632.1h.01M1039.1 594.3h.01M1039.1 548.5h.01M1039.2 492.1h.01M1039.2 421.1h.01M1039.2 329.2h.01M1039.2 288.2h.01M1072.9 1002.6h.01M1072.8 999.2h.01M1072.7 995.8h.01M1072.7 992.4h.01M1072.6 989h.01M1072.5 985.6h.01M1072.4 982.2h.01M1072.4 978.8h.01M1072.4 975.4h.01M1072.4 972h.01M1072.4 968.6h.01M1072.4 965.2h.01M1072.3 961.8h.01M1072.3 958.4h.01M1072.3 955h.01M1072.3 951.5h.01M1072.3 947.6h.01M1072.3 943.1h.01M1072.3 937.8h.01M1072.3 931.7h.01M1072.2 924.4h.01M1072.2 915.6h.01M1072.2 904.8h.01M1072.2 891.4h.01M1072.2 874.1h.01M1072.2 851.3h.01M1072.2 820h.01M1072.2 774.7h.01M1072.2 704.8h.01M1072.2 586.4h.01M1072.2 442.2h.01M1073 1006.6h.01M1073 1002.1h.01M1073 997.6h.01M1073.3 993.1h.01M1073.6 988.6h.01M1074 984.1h.01M1074.4 979.7h.01M1074.8 975.2h.01M1075.1 970.7h.01M1075.4 966.2h.01M1075.7 961.7h.01M1076 957.2h.01M1076.3 952.7h.01M1076.5 948.2h.01M1076.7 943.7h.01M1076.9 939.2h.01M1077.2 934.7h.01M1077.4 930.2h.01M1077.6 925.8h.01M1077.8 921.3h.01M1078 916.8h.01M1078.1 912.3h.01M1078.2 907.8h.01M1078.3 903.3h.01M1078.4 898.8h.01M1078.5 894.3h.01M1078.6 889.8h.01M1078.7 885.1h.01M1078.9 880.1h.01M1078.9 874.6h.01M1079 868.6h.01M1079.1 862.1h.01M1079.2 855h.01M1079.3 847.2h.01M1079.4 838.5h.01M1079.5 828.8h.01M1079.6 818h.01M1079.7 805.8h.01M1079.7 792.1h.01M1079.8 776.3h.01M1079.8 758.2h.01M1079.9 737.2h.01M1079.9 712.3h.01M1080 682.7h.01M1080 646.9h.01M1080.1 602.7h.01M1080.1 546.9h.01M1080.2 474.7h.01M1080.2 378.1h.01M1080.2 302.2h.01M1113.9 999.3h.01M1113.8 995.9h.01M1113.7 992.5h.01M1113.7 989.1h.01M1113.6 985.7h.01M1113.5 982.3h.01M1113.4 978.9h.01M1113.4 975.5h.01M1113.4 972.1h.01M1113.4 968.7h.01M1113.4 965.3h.01M1113.4 961.9h.01M1113.3 958.5h.01M1113.3 955.1h.01M1113.3 951.1h.01M1113.3 946.5h.01M1113.3 941h.01M1113.3 934.5h.01M1113.3 926.4h.01M1113.2 916.3h.01M1113.2 903.5h.01M1113.2 886.5h.01M1113.2 863.4h.01M1113.2 830.1h.01M1113.2 779.1h.01M1113.2 693.6h.01M1113.2 546.2h.01M1114 1003.3h.01M1114 998.8h.01M1114 994.3h.01M1114 989.8h.01M1114.2 985.3h.01M1114.6 980.8h.01M1114.9 976.3h.01M1115.3 971.9h.01M1115.6 967.4h.01M1115.9 962.9h.01M1116.2 958.4h.01M1116.5 953.9h.01M1116.7 949.4h.01M1117 944.9h.01M1117.2 940.4h.01M1117.4 935.9h.01M1117.6 931.4h.01M1117.8 926.9h.01M1118.1 922.4h.01M1118.2 917.9h.01M1118.4 913.4h.01M1118.5 908.9h.01M1118.6 904.4h.01M1118.7 899.9h.01M1118.8 895.4h.01M1119 890.4h.01M1119.1 885h.01M1119.2 879h.01M1119.3 872.4h.01M1119.4 865.1h.01M1119.5 856.9h.01M1119.7 847.8h.01M1119.8 837.5h.01M1119.9 825.7h.01M1119.9 812.3h.01M1120 796.7h.01M1120.1 778.5h.01M1120.1 756.9h.01M1120.2 731h.01M1120.3 699.3h.01M1120.3 659.9h.01M1120.4 609.5h.01M1120.4 543.4h.01M1120.5 453.1h.01M1120.5 399.2h.01M1155.4 996.6h.01M1155.3 993.2h.01M1155.2 989.8h.01M1155.2 986.4h.01M1155.1 983h.01M1155 979.6h.01M1154.9 976.2h.01M1154.9 972.8h.01M1154.9 969.4h.01M1154.9 966h.01M1154.9 962.6h.01M1154.9 959.2h.01M1154.8 955.8h.01M1154.8 952.4h.01M1154.8 948.4h.01M1154.8 943.8h.01M1154.8 938.3h.01M1154.8 931.8h.01M1154.8 923.7h.01M1154.8 913.6h.01M1154.8 900.8h.01M1154.8 883.8h.01M1154.8 860.7h.01M1154.8 827.4h.01M1154.9 776.4h.01M1155 690.9h.01M1155.1 527.9h.01M1155.2 416.2h.01M1155.5 1000.6h.01M1155.5 996.1h.01M1155.5 991.6h.01M1155.5 987.1h.01M1155.5 982.6h.01M1155.7 978.1h.01M1156 973.6h.01M1156.3 969.1h.01M1156.7 964.6h.01M1157 960.2h.01M1157.2 955.7h.01M1157.5 951.2h.01M1157.8 946.7h.01M1158 942.2h.01M1158.2 937.7h.01M1158.4 933.2h.01M1158.6 928.7h.01M1158.8 924.2h.01M1159 919.7h.01M1159.2 915.2h.01M1159.4 910.7h.01M1159.5 906.2h.01M1159.6 901.7h.01M1159.7 896.8h.01M1159.8 891.3h.01M1159.9 885.3h.01M1160.1 878.6h.01M1160.2 871.1h.01M1160.3 862.7h.01M1160.4 853.1h.01M1160.6 842.1h.01M1160.7 829.4h.01M1160.7 814.6h.01M1160.8 797.2h.01M1160.9 776.3h.01M1160.9 751h.01M1161 719.5h.01M1161.1 679.7h.01M1161.1 627.7h.01M1161.2 557.6h.01M1161.2 458.6h.01M1161.2 310.4h.01M1161.2 220.2h.01M1197.2 994.5h.01M1197.1 991.1h.01M1197 987.7h.01M1197 984.3h.01M1196.9 980.9h.01M1196.8 977.5h.01M1196.7 974.1h.01M1196.7 970.7h.01M1196.7 967.3h.01M1196.7 963.9h.01M1196.7 960.5h.01M1196.7 957.1h.01M1196.6 953.7h.01M1196.6 950.3h.01M1196.6 946.3h.01M1196.6 941.7h.01M1196.6 936.2h.01M1196.6 929.7h.01M1196.6 921.6h.01M1196.5 911.5h.01M1196.5 898.7h.01M1196.5 881.7h.01M1196.5 858.6h.01M1196.5 825.3h.01M1196.4 774.3h.01M1196.4 688.8h.01M1196.3 525.8h.01M1196.2 523.2h.01M1197.3 998.5h.01M1197.3 994h.01M1197.3 989.5h.01M1197.3 985h.01M1197.3 980.5h.01M1197.3 976h.01M1197.3 971.5h.01M1197.4 967h.01M1197.7 962.5h.01M1198 958h.01M1198.3 953.5h.01M1198.6 949h.01M1198.8 944.5h.01M1199.1 940.1h.01M1199.3 935.6h.01M1199.5 931.1h.01M1199.7 926.6h.01M1199.9 922.1h.01M1200 917.6h.01M1200.2 913.1h.01M1200.4 908.3h.01M1200.6 902.9h.01M1200.8 896.9h.01M1200.9 890.1h.01M1201 882.4h.01M1201.2 873.5h.01M1201.4 863.3h.01M1201.5 851.2h.01M1201.7 837h.01M1201.8 819.8h.01M1201.9 798.8h.01M1201.9 772.5h.01M1202 738.9h.01M1202.1 694.6h.01M1202.1 633.8h.01M1202.2 546.4h.01M1202.2 411.8h.01M1202.2 319.2h.01M1238.3 990.5h.01M1238.2 987.1h.01M1238.1 983.7h.01M1238.1 980.3h.01M1238 976.9h.01M1237.9 973.5h.01M1237.8 970.1h.01M1237.8 966.7h.01M1237.8 963.3h.01M1237.8 959.9h.01M1237.8 956.5h.01M1237.8 953.1h.01M1237.7 949.7h.01M1237.7 946.3h.01M1237.7 942.3h.01M1237.7 937.7h.01M1237.7 932.2h.01M1237.7 925.7h.01M1237.7 917.6h.01M1237.7 907.5h.01M1237.7 894.7h.01M1237.7 877.7h.01M1237.7 854.6h.01M1237.8 821.3h.01M1237.8 770.3h.01M1237.9 684.8h.01M1238 605.2h.01M1238.4 994.5h.01M1238.4 990h.01M1238.4 985.5h.01M1238.4 981h.01M1238.4 976.5h.01M1238.4 972h.01M1238.4 967.5h.01M1238.4 963h.01M1238.4 958.5h.01M1238.6 954h.01M1238.9 949.5h.01M1239.2 945h.01M1239.5 940.5h.01M1239.7 936h.01M1240 931.6h.01M1240.3 927.1h.01M1240.5 922.6h.01M1240.7 918.1h.01M1240.9 913.3h.01M1241.1 908h.01M1241.4 902h.01M1241.6 895.1h.01M1241.8 887.1h.01M1242 877.7h.01M1242.2 866.7h.01M1242.4 853.5h.01M1242.6 837.5h.01M1242.8 817.5h.01M1242.9 792.2h.01M1243 759.1h.01M1243.1 714.2h.01M1243.1 650.7h.01M1243.2 555.2h.01M1243.2 459h.01M1279.3 990.5h.01M1279.3 987.1h.01M1279.3 983.7h.01M1279.3 980.3h.01M1279.3 976.9h.01M1279.3 973.5h.01M1279.3 970.1h.01M1279.3 966.7h.01M1279.3 963.3h.01M1279.2 959.9h.01M1279.2 956.5h.01M1279.2 953.1h.01M1279.2 949.7h.01M1279.2 946.3h.01M1279.2 942.9h.01M1279.2 939.5h.01M1279.2 936.1h.01M1279.2 932.5h.01M1279.2 928.5h.01M1279.2 923.9h.01M1279.2 918.6h.01M1279.2 912.4h.01M1279.2 905.1h.01M1279.1 896.3h.01M1279.1 885.7h.01M1279.1 872.5h.01M1279.1 855.7h.01M1279 833.9h.01M1279 804.5h.01M1278.9 763h.01M1279.4 700.9h.01M1280.2 600.3h.01M1280.2 598.2h.01M1278.8 652.5h.01M1279.3 990.5h.01M1279.3 989h.01M1279.3 987.5h.01M1279.3 986h.01M1279.3 984.5h.01M1279.3 983h.01M1279.3 981.5h.01M1279.3 980h.01M1279.3 978.5h.01M1279.3 977h.01M1279.3 975.5h.01M1279.3 974h.01M1279.3 972.5h.01M1279.3 971h.01M1279.3 969.5h.01M1279.3 968h.01M1279.3 966.5h.01M1279.3 965h.01M1279.3 963.5h.01M1279.3 962h.01M1279.3 960.5h.01M1279.3 959h.01M1279.3 957.5h.01M1279.3 956h.01M1279.3 954.5h.01M1279.3 953h.01M1279.3 951.5h.01M1279.3 950h.01M1279.3 948.5h.01M1279.3 947h.01M1279.3 945.5h.01M1279.4 944h.01M1279.5 942.5h.01M1279.6 941h.01M1279.7 939.5h.01M1279.8 938h.01M1279.9 936.5h.01M1280 935h.01M1280.1 933.5h.01M1280.2 932h.01M1280.3 930.5h.01M1280.4 929h.01M1280.5 927.5h.01M1280.6 926h.01M1280.7 924.5h.01M1280.8 923.1h.01M1280.9 921.6h.01M1281 920h.01M1281.1 918.4h.01M1281.2 916.8h.01M1281.2 915.1h.01M1281.3 913.2h.01M1281.4 911.3h.01M1281.5 909.3h.01M1281.6 907.2h.01M1281.7 905h.01M1281.8 902.7h.01M1281.9 900.2h.01M1282 897.6h.01M1282.2 894.8h.01M1282.3 891.9h.01M1282.4 888.8h.01M1282.5 885.5h.01M1282.6 882h.01M1282.7 878.2h.01M1282.8 874.2h.01M1282.9 869.8h.01M1283 865.2h.01M1283.1 860.1h.01M1283.2 854.7h.01M1283.3 848.8h.01M1283.4 842.4h.01M1283.5 835.4h.01M1283.6 827.7h.01M1283.7 819.2h.01M1283.7 809.8h.01M1283.8 799.3h.01M1283.9 787.6h.01M1283.9 774.5h.01M1283.9 759.5h.01M1284 742.4h.01M1284 722.8h.01M1284.1 699.8h.01M1284.1 672.8h.01M1284.1 640.5h.01M1284.2 601.3h.01M1284.2 552.8h.01M1284.2 491.5h.01M1284.2 482.2h.01M1321.2 986h.01M1321.2 982.6h.01M1321.2 979.2h.01M1321.2 975.8h.01M1321.2 972.4h.01M1321.2 969h.01M1321.2 965.6h.01M1321.1 962.2h.01M1321.1 958.8h.01M1321.1 955.4h.01M1321.1 952h.01M1321.1 948.6h.01M1321.1 945.2h.01M1321.1 941.8h.01M1321 938.4h.01M1321 935h.01M1321 931.6h.01M1321 928.2h.01M1321 924.8h.01M1321 921.1h.01M1321 916.8h.01M1320.9 912.1h.01M1320.9 906.6h.01M1320.9 900.3h.01M1320.9 892.9h.01M1320.8 884.3h.01M1320.8 873.9h.01M1320.7 861.4h.01M1320.7 845.8h.01M1320.6 826.2h.01M1320.5 800.6h.01M1320.3 766.3h.01M1320.3 718h.01M1320.3 646.2h.01M1320.3 530.7h.01M1320.2 357.2h.01M1321.2 986h.01M1321.2 984.5h.01M1321.2 983h.01M1321.2 981.5h.01M1321.2 980h.01M1321.2 978.5h.01M1321.2 977h.01M1321.2 975.5h.01M1321.2 974h.01M1321.2 972.5h.01M1321.2 971h.01M1321.2 969.5h.01M1321.2 968h.01M1321.2 966.5h.01M1321.2 965h.01M1321.2 963.5h.01M1321.2 962h.01M1321.2 960.5h.01M1321.2 959h.01M1321.2 957.5h.01M1321.2 956h.01M1321.2 954.5h.01M1321.2 953h.01M1321.2 951.5h.01M1321.2 950h.01M1321.2 948.5h.01M1321.2 947h.01M1321.2 945.5h.01M1321.2 944h.01M1321.2 942.5h.01M1321.2 941h.01M1321.2 939.5h.01M1321.2 938h.01M1321.2 936.5h.01M1321.2 935h.01M1321.3 933.5h.01M1321.4 932h.01M1321.4 930.5h.01M1321.5 929h.01M1321.6 927.5h.01M1321.7 926h.01M1321.8 924.5h.01M1321.9 923h.01M1322 921.5h.01M1322 920h.01M1322.1 918.5h.01M1322.2 916.9h.01M1322.3 915.2h.01M1322.4 913.5h.01M1322.4 911.6h.01M1322.5 909.7h.01M1322.6 907.7h.01M1322.7 905.5h.01M1322.8 903.3h.01M1322.9 900.9h.01M1323 898.3h.01M1323.1 895.7h.01M1323.2 892.8h.01M1323.3 889.8h.01M1323.4 886.5h.01M1323.6 883.1h.01M1323.7 879.4h.01M1323.8 875.4h.01M1323.9 871.1h.01M1324 866.5h.01M1324.1 861.5h.01M1324.2 856.1h.01M1324.3 850.1h.01M1324.4 843.7h.01M1324.5 836.6h.01M1324.6 828.8h.01M1324.7 820.1h.01M1324.8 810.5h.01M1324.8 799.7h.01M1324.9 787.6h.01M1324.9 773.8h.01M1325 758.1h.01M1325 739.9h.01M1325 718.7h.01M1325.1 693.7h.01M1325.1 663.7h.01M1325.1 627.4h.01M1325.2 582.4h.01M1325.2 525.4h.01M1325.2 451.1h.01M1325.2 386.2h.01M1362.5 981h.01M1362.5 978h.01M1362.5 975h.01M1362.5 972h.01M1362.5 969h.01M1362.4 966h.01M1362.4 963h.01M1362.4 960h.01M1362.4 957h.01M1362.4 954h.01M1362.4 951h.01M1362.4 948h.01M1362.4 945h.01M1362.4 942h.01M1362.3 939h.01M1362.3 936h.01M1362.3 933h.01M1362.3 930h.01M1362.3 927h.01M1362.3 924h.01M1362.3 921h.01M1362.3 918h.01M1362.3 914.7h.01M1362.2 910.8h.01M1362.2 905.9h.01M1362.2 899.8h.01M1362.2 892h.01M1362.1 881.5h.01M1362.1 867.1h.01M1362 846h.01M1361.9 812.8h.01M1361.7 755.6h.01M1361.4 641h.01M1361.2 564.2h.01M1362.5 981h.01M1362.5 979.5h.01M1362.5 978h.01M1362.5 976.5h.01M1362.5 975h.01M1362.5 973.5h.01M1362.5 972h.01M1362.5 970.5h.01M1362.5 969h.01M1362.5 967.5h.01M1362.5 966h.01M1362.5 964.5h.01M1362.5 963h.01M1362.5 961.5h.01M1362.5 960h.01M1362.5 958.5h.01M1362.5 957h.01M1362.5 955.5h.01M1362.5 954h.01M1362.5 952.5h.01M1362.5 951h.01M1362.5 949.5h.01M1362.5 948h.01M1362.5 946.5h.01M1362.5 945h.01M1362.5 943.5h.01M1362.5 942h.01M1362.5 940.5h.01M1362.5 939h.01M1362.5 937.5h.01M1362.5 936h.01M1362.5 934.5h.01M1362.5 933h.01M1362.5 931.5h.01M1362.5 930h.01M1362.5 928.5h.01M1362.5 927h.01M1362.5 925.5h.01M1362.5 924h.01M1362.5 922.5h.01M1362.5 921h.01M1362.5 919.5h.01M1362.5 918h.01M1362.5 916.5h.01M1362.5 914.9h.01M1362.5 913.3h.01M1362.6 911.5h.01M1362.6 909.7h.01M1362.7 907.7h.01M1362.8 905.7h.01M1362.9 903.6h.01M1363 901.3h.01M1363.1 898.9h.01M1363.1 896.3h.01M1363.2 893.6h.01M1363.3 890.7h.01M1363.4 887.6h.01M1363.5 884.3h.01M1363.6 880.7h.01M1363.7 876.9h.01M1363.8 872.8h.01M1363.9 868.3h.01M1364.1 863.5h.01M1364.2 858.2h.01M1364.3 852.5h.01M1364.4 846.2h.01M1364.5 839.3h.01M1364.6 831.7h.01M1364.7 823.2h.01M1364.7 813.8h.01M1364.8 803.2h.01M1364.9 791.2h.01M1365 777.5h.01M1365 761.7h.01M1365 743.4h.01M1365.1 722h.01M1365.1 696.5h.01M1365.1 665.7h.01M1365.2 628h.01M1365.2 580.6h.01M1365.2 519.7h.01M1365.2 438.8h.01M1365.2 384.2h.01M1403.2 975.5h.01M1403.2 972.5h.01M1403.2 969.5h.01M1403.2 966.5h.01M1403.2 963.5h.01M1403.2 960.5h.01M1403.2 957.5h.01M1403.2 954.5h.01M1403.2 951.5h.01M1403.2 948.5h.01M1403.2 945.5h.01M1403.2 942.5h.01M1403.2 939.5h.01M1403.2 936.5h.01M1403.2 933.5h.01M1403.2 930.5h.01M1403.1 927.5h.01M1403.1 924.5h.01M1403.1 921.5h.01M1403.1 918.5h.01M1403.1 915.1h.01M1403.1 910.9h.01M1403.1 905.6h.01M1403.1 898.6h.01M1403.1 889h.01M1403 875.3h.01M1403 854.5h.01M1402.9 819.9h.01M1402.8 754.7h.01M1403 680h.01M1403.2 975.5h.01M1403.2 974h.01M1403.2 972.5h.01M1403.2 971h.01M1403.2 969.5h.01M1403.2 968h.01M1403.2 966.5h.01M1403.2 965h.01M1403.2 963.5h.01M1403.2 962h.01M1403.2 960.5h.01M1403.2 959h.01M1403.2 957.5h.01M1403.2 956h.01M1403.2 954.5h.01M1403.2 953h.01M1403.2 951.5h.01M1403.2 950h.01M1403.2 948.5h.01M1403.2 947h.01M1403.2 945.5h.01M1403.2 944h.01M1403.2 942.5h.01M1403.2 941h.01M1403.2 939.5h.01M1403.2 938h.01M1403.2 936.5h.01M1403.2 935h.01M1403.2 933.5h.01M1403.2 932h.01M1403.2 930.5h.01M1403.2 929h.01M1403.2 927.5h.01M1403.2 926h.01M1403.2 924.5h.01M1403.2 923h.01M1403.2 921.5h.01M1403.2 920h.01M1403.2 918.5h.01M1403.2 917h.01M1403.2 915.5h.01M1403.2 914h.01M1403.2 912.5h.01M1403.2 910.9h.01M1403.2 909.2h.01M1403.2 907.5h.01M1403.2 905.6h.01M1403.2 903.7h.01M1403.2 901.6h.01M1403.2 899.4h.01M1403.2 897.1h.01M1403.2 894.6h.01M1403.2 892h.01M1403.2 889.2h.01M1403.3 886.3h.01M1403.4 883.1h.01M1403.6 879.7h.01M1403.7 876h.01M1403.9 872h.01M1404.1 867.8h.01M1404.2 863.1h.01M1404.4 858.1h.01M1404.6 852.6h.01M1404.7 846.5h.01M1404.9 839.9h.01M1405.1 832.5h.01M1405.3 824.4h.01M1405.4 815.2h.01M1405.5 804.9h.01M1405.7 793.3h.01M1405.8 780h.01M1405.9 764.7h.01M1406 747h.01M1406 726.1h.01M1406.1 701.2h.01M1406.1 671.1h.01M1406.2 634h.01M1406.2 587.4h.01M1406.2 527.1h.01M1406.2 475.2h.01M1444.5 968.3h.01M1444.5 965.3h.01M1444.5 962.3h.01M1444.5 959.3h.01M1444.5 956.3h.01M1444.5 953.3h.01M1444.5 950.3h.01M1444.5 947.3h.01M1444.5 944.3h.01M1444.5 941.3h.01M1444.5 938.3h.01M1444.5 935.3h.01M1444.5 932.3h.01M1444.5 929.3h.01M1444.5 926.3h.01M1444.5 923.3h.01M1444.5 920.3h.01M1444.5 917.3h.01M1444.5 913.9h.01M1444.5 909.6h.01M1444.6 903.9h.01M1444.6 896.2h.01M1444.6 885.1h.01M1444.6 868.1h.01M1444.6 839.9h.01M1444.8 786.4h.01M1445 663.2h.01M1445.2 271h.01M1445.2 203.2h.01M1443.8 422.5h.01M1447.5 373.2h.01M1485.5 960.8h.01M1485.5 957.8h.01M1485.5 954.8h.01M1485.5 951.8h.01M1485.4 948.8h.01M1485.4 945.8h.01M1485.4 942.8h.01M1485.4 939.8h.01M1485.4 936.8h.01M1485.4 933.8h.01M1485.4 930.8h.01M1485.3 927.8h.01M1485.3 924.8h.01M1485.3 921.8h.01M1485.3 918.8h.01M1485.3 915.8h.01M1485.3 912.8h.01M1485.2 909.3h.01M1485.2 904.8h.01M1485.2 898.7h.01M1485.1 890h.01M1485.1 876.8h.01M1485 855.2h.01M1484.8 815.3h.01M1484.9 726.7h.01M1485 660h.01M1487 742h.01M1487.4 704h.01M1487.5 666h.01M1487.7 628h.01M1487.9 590h.01M1488 552h.01M1488.2 514h.01M1488.2 502.2h.01M1487.2 539h.01M1526.5 950.2h.01M1526.5 947.2h.01M1526.5 944.2h.01M1526.5 941.2h.01M1526.5 938.2h.01M1526.5 935.2h.01M1526.5 932.2h.01M1526.5 929.2h.01M1526.5 926.2h.01M1526.5 923.2h.01M1526.5 920.2h.01M1526.5 917.2h.01M1526.5 914.2h.01M1526.5 910.3h.01M1526.5 905h.01M1526.5 897.2h.01M1526.5 885h.01M1526.5 864h.01M1526.4 822.3h.01M1526.4 718.5h.01M1526.2 380.2h.01M1567.5 937.8h.01M1567.5 934.8h.01M1567.5 931.8h.01M1567.5 928.8h.01M1567.5 925.8h.01M1567.5 922.8h.01M1567.5 919.8h.01M1567.5 916.8h.01M1567.5 913.8h.01M1567.5 910.8h.01M1567.5 907.8h.01M1567.5 904.8h.01M1567.5 901.8h.01M1567.5 897.9h.01M1567.5 892.6h.01M1567.5 884.8h.01M1567.5 872.6h.01M1567.5 851.6h.01M1567.5 809.9h.01M1567.4 706.1h.01M1567.3 327.1h.01M1567.2 186.2h.01M1608.5 921.5h.01M1608.5 918.5h.01M1608.5 915.5h.01M1608.5 912.5h.01M1608.5 909.5h.01M1608.5 906.5h.01M1608.4 903.5h.01M1608.4 900.5h.01M1608.4 897.5h.01M1608.4 894.5h.01M1608.4 891.5h.01M1608.4 888.5h.01M1608.4 885.5h.01M1608.4 881.6h.01M1608.4 876.3h.01M1608.3 868.5h.01M1608.3 856.3h.01M1608.2 835.3h.01M1608.1 793.6h.01M1607.8 689.8h.01M1607.5 610h.01M1648.2 897.3h.01M1648.2 894.3h.01M1648.2 891.3h.01M1648.2 888.3h.01M1648.2 885.3h.01M1648.2 882.3h.01M1648.2 879.3h.01M1648.2 876.3h.01M1648.2 873.3h.01M1648.2 870.3h.01M1648.2 867.3h.01M1648.2 864.3h.01M1648.2 861.3h.01M1648.2 857.4h.01M1648.2 852.1h.01M1648.2 844.3h.01M1648.2 832.1h.01M1648.2 811.1h.01M1648.2 769.4h.01M1648.2 665.6h.01M1648.2 286.6h.01M1648.2 253.2h.01M1689.5 856.5h.01M1689.5 853.5h.01M1689.5 850.5h.01M1689.5 847.5h.01M1689.5 844.5h.01M1689.5 841.5h.01M1689.5 838.5h.01M1689.5 835.5h.01M1689.5 832.5h.01M1689.5 829.5h.01M1689.5 826.5h.01M1689.5 823.5h.01M1689.5 820.5h.01M1689.5 816.6h.01M1689.5 811.3h.01M1689.5 803.5h.01M1689.5 791.3h.01M1689.5 770.3h.01M1689.4 728.6h.01M1689.4 624.8h.01M1689.3 466.4h.01M1729.5 769.5h.01M1729.5 429.5h.01M1729.9 766h.01M1729.5 500h.01M1729.5 503.5h.01M1729.5 560.5h.01M1729.5 577.5h.01M1729.5 590h.01M1729.5 592.5h.01M1729.5 679.5h.01M1729.5 704h.01M1729.5 744h.01M1648.3 439h.01M1648.3 680h.01M1689.4 580h.01M1689.4 684h.01"/>
</g>
<g font-size="15.3" opacity="0.999">
<text transform="translate(1002.5 995.5) rotate(-80)" textLength="32.5" lengthAdjust="spacingAndGlyphs">n=1</text>
<text transform="translate(1085.5 977) rotate(-80)" textLength="32.5" lengthAdjust="spacingAndGlyphs">n=2</text>
<text transform="translate(1126.5 964.5) rotate(-80)" textLength="32.5" lengthAdjust="spacingAndGlyphs">n=3</text>
<text transform="translate(1167.5 945) rotate(-80)" textLength="32.5" lengthAdjust="spacingAndGlyphs">n=4</text>
<text transform="translate(1209.5 913.5) rotate(-80)" textLength="32.5" lengthAdjust="spacingAndGlyphs">n=5</text>
<text transform="translate(1251 846.5) rotate(-80)" textLength="32.5" lengthAdjust="spacingAndGlyphs">n=6</text>
<text transform="translate(1290.5 602) rotate(-80)" textLength="32.5" lengthAdjust="spacingAndGlyphs">n=7</text>
<text transform="translate(1700.5 770) rotate(-80)" textLength="32.5" lengthAdjust="spacingAndGlyphs">n=8</text>
<text transform="translate(1741.5 431.5) rotate(-80)" textLength="32.5" lengthAdjust="spacingAndGlyphs">n=9</text>
</g>
<rect x="250.5" y="144.5" width="1550" height="923.8" fill="none" stroke="#000" stroke-width="1.15"/>
<rect x="263.7" y="157.5" width="380.8" height="109" rx="3.6" ry="3.6" fill="#fff" fill-opacity="0.8" stroke="#ccc" stroke-opacity="0.8" stroke-width="1.4"/>
<path d="M272 177H324" stroke="#000" stroke-width="2.1" fill="none"/><circle cx="298.4" cy="177.1" r="2.3" fill="#000"/>
<circle cx="298.5" cy="231.5" r="7.1" fill="#ffffcc" stroke="#ffffb4" stroke-width="0.9"/>
<g font-size="25.5" opacity="0.999">
<text x="342.6" y="186.2" textLength="292.3" lengthAdjust="spacingAndGlyphs">m4.10_z0.1000_y0.459</text>
<text x="341.8" y="222.7" textLength="280.6" lengthAdjust="spacingAndGlyphs">intersection w/ P,L,T,R</text>
<text x="341.8" y="250.9" textLength="191.6" lengthAdjust="spacingAndGlyphs">loosely defined</text>
</g>
<g font-size="36.6" opacity="0.999">
<text x="113.9" y="223.3" textLength="113.9" lengthAdjust="spacingAndGlyphs">50000</text>
<text x="113.9" y="397" textLength="113.9" lengthAdjust="spacingAndGlyphs">40000</text>
<text x="113.9" y="570.8" textLength="113.9" lengthAdjust="spacingAndGlyphs">30000</text>
<text x="113.9" y="744.5" textLength="113.9" lengthAdjust="spacingAndGlyphs">20000</text>
<text x="113.9" y="918.3" textLength="113.9" lengthAdjust="spacingAndGlyphs">10000</text>
<text x="334.2" y="1117.6" textLength="103.6" lengthAdjust="spacingAndGlyphs">77.02</text>
<text x="621.3" y="1117.6" textLength="103.6" lengthAdjust="spacingAndGlyphs">77.03</text>
<text x="908.4" y="1117.6" textLength="103.6" lengthAdjust="spacingAndGlyphs">77.04</text>
<text x="1195.6" y="1117.6" textLength="103.6" lengthAdjust="spacingAndGlyphs">77.05</text>
<text x="1482.7" y="1117.6" textLength="103.6" lengthAdjust="spacingAndGlyphs">77.06</text>
</g>
<g opacity="0.999"><text x="889.2" y="1171.3" font-size="56.2" textLength="272.5" lengthAdjust="spacingAndGlyphs">Age (Myr)</text>
<text transform="translate(95.2 840.9) rotate(-90)" font-size="57" textLength="466" lengthAdjust="spacingAndGlyphs">FM period (days)</text></g>
</svg>
</body></html>
